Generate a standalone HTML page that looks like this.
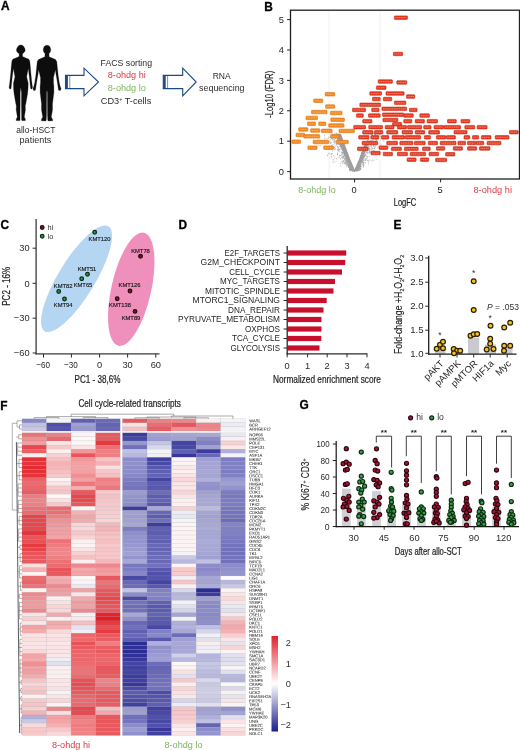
<!DOCTYPE html>
<html lang="en"><head><meta charset="utf-8"><title>Figure</title>
<style>
html,body{margin:0;padding:0;background:#fff;}
body{width:520px;height:750px;overflow:hidden;}
svg{display:block;font-family:"Liberation Sans", sans-serif;}
</style></head><body>
<svg width="520" height="750" viewBox="0 0 520 750">
<rect width="520" height="750" fill="#fff"/>
<text x="0.90" y="10.43" font-size="11.9" text-anchor="start" fill="#000" font-weight="bold" stroke="#000" stroke-width="0.3">A</text>
<g transform="translate(5,40) scale(0.125)" fill="#0d0d0d" stroke="#0d0d0d" stroke-width="2" stroke-linejoin="round">
<path d="M126.5,104 L139.5,108 L140.5,132 L166.5,143 L188.5,152 L197.5,165 L201.5,200 L206.5,260 L212.5,320 L217.5,360 L220.5,378 L214.5,393 L204.5,388 L201.5,360 L196.5,310 L190.5,262 L186.5,228 L179.5,262 L173.5,293 L179.5,320 L185.5,345 L184.5,390 L180.5,430 L166.5,510 L162.5,525 L163.5,560 L154.5,615 L162.5,632 L164.5,644 L136.5,646 L132.5,640 L132.5,600 L131.5,520 L131.5,420 L126.5,378 L126.5,378 L121.5,420 L121.5,520 L120.5,600 L120.5,640 L116.5,646 L88.5,644 L90.5,632 L98.5,615 L89.5,560 L90.5,525 L86.5,510 L72.5,430 L68.5,390 L67.5,345 L73.5,320 L79.5,293 L73.5,262 L66.5,228 L62.5,262 L56.5,310 L51.5,360 L48.5,388 L38.5,393 L32.5,378 L35.5,360 L40.5,320 L46.5,260 L51.5,200 L55.5,165 L64.5,152 L86.5,143 L112.5,132 L113.5,108 L126.5,104Z"/>
<path d="M336,106 L352,110 L353,134 L381,146 L404,156 L414,172 L419,220 L425,280 L434,340 L441,370 L449,390 L441,406 L428,400 L423,365 L416,320 L408,275 L403,238 L394,275 L388,300 L388,340 L391,370 L391,420 L380,510 L380,560 L370,615 L380,634 L382,646 L346,648 L342,640 L340,600 L339,420 L336,402 L336,402 L333,420 L332,600 L330,640 L326,648 L290,646 L292,634 L302,615 L292,560 L292,510 L281,420 L281,370 L284,340 L284,300 L278,275 L269,238 L264,275 L256,320 L249,365 L244,400 L231,406 L223,390 L231,370 L238,340 L247,280 L253,220 L258,172 L268,156 L291,146 L319,134 L320,110 L336,106Z"/>
<ellipse cx="126.5" cy="75" rx="29" ry="36"/><ellipse cx="126.5" cy="80" rx="35" ry="25"/>
<ellipse cx="336" cy="78" rx="30" ry="37"/>
</g>
<text x="35.80" y="132.86" font-size="9.18" text-anchor="middle" fill="#2b2b2b" textLength="39.30" lengthAdjust="spacingAndGlyphs" >allo-HSCT</text>
<text x="35.40" y="143.26" font-size="9.18" text-anchor="middle" fill="#2b2b2b" textLength="31.60" lengthAdjust="spacingAndGlyphs" >patients</text>
<path d="M65.5 75.4 H84 V68.2 L98.5 82 L84 95.8 V88.6 H65.5 Z" fill="#fff" stroke="#1d4a85" stroke-width="1.1" stroke-linejoin="miter"/>
<rect x="65.5" y="75.4" width="2.4" height="13.2" fill="#1d4a85"/>
<line x1="69.80" y1="75.40" x2="69.80" y2="88.60" stroke="#1d4a85" stroke-width="0.6" />
<path d="M163.3 75.4 H182.7 V68.2 L196.2 82 L182.7 95.8 V88.6 H163.3 Z" fill="#fff" stroke="#1d4a85" stroke-width="1.1" stroke-linejoin="miter"/>
<rect x="163.3" y="75.4" width="2.4" height="13.2" fill="#1d4a85"/>
<line x1="167.60" y1="75.40" x2="167.60" y2="88.60" stroke="#1d4a85" stroke-width="0.6" />
<text x="126.30" y="66.06" font-size="9.18" text-anchor="middle" fill="#2b2b2b" textLength="51.50" lengthAdjust="spacingAndGlyphs" >FACS sorting</text>
<text x="126.80" y="78.06" font-size="9.18" text-anchor="middle" fill="#d93a44" textLength="38.00" lengthAdjust="spacingAndGlyphs" >8-ohdg hi</text>
<text x="126.80" y="90.56" font-size="9.18" text-anchor="middle" fill="#7cb45c" textLength="38.00" lengthAdjust="spacingAndGlyphs" >8-ohdg lo</text>
<text x="126.00" y="103.56" font-size="9.18" text-anchor="middle" fill="#2b2b2b" >CD3<tspan font-size="5.5" dy="-3">+</tspan><tspan dy="3"> T-cells</tspan></text>
<text x="221.70" y="79.26" font-size="9.18" text-anchor="middle" fill="#2b2b2b" textLength="18.00" lengthAdjust="spacingAndGlyphs" >RNA</text>
<text x="221.80" y="91.06" font-size="9.18" text-anchor="middle" fill="#2b2b2b" textLength="45.50" lengthAdjust="spacingAndGlyphs" >sequencing</text>
<text x="264.20" y="10.78" font-size="11.9" text-anchor="start" fill="#000" font-weight="bold" stroke="#000" stroke-width="0.3">B</text>
<line x1="329.00" y1="11.00" x2="329.00" y2="178.50" stroke="#e2e2e2" stroke-width="0.5" />
<line x1="380.00" y1="11.00" x2="380.00" y2="178.50" stroke="#e2e2e2" stroke-width="0.5" />
<path d="M354.6 171.9 L351.40000000000003 170.6 L347.40000000000003 161.6 L342.8 151.6 L338.40000000000003 141.6 L335.3 134.1 L341.0 134.1 L345.6 146.6 L349.90000000000003 158.6 L354.6 169.4 L359.3 158.6 L363.6 146.6 L365.6 141.6 L368.40000000000003 143.6 L364.40000000000003 154.6 L360.8 163.6 L357.8 170.6 Z" fill="#9a9a9a"/>
<path d="M348.3 161.9h.01M352.4 168.7h.01M344.7 158.7h.01M351.6 167.6h.01M343.9 151.6h.01M346.8 162.8h.01M338.4 147.1h.01M341.2 153.0h.01M371.2 154.1h.01M350.0 164.0h.01M363.8 153.7h.01M359.0 168.6h.01M347.2 157.6h.01M362.2 161.8h.01M375.5 140.4h.01M366.4 147.1h.01M357.5 170.9h.01M359.0 165.6h.01M338.7 139.3h.01M358.0 167.4h.01M360.7 160.5h.01M347.3 165.0h.01M348.0 163.5h.01M324.5 135.2h.01M368.7 147.9h.01M347.6 159.2h.01M346.5 161.6h.01M335.9 135.2h.01M367.3 149.2h.01M364.1 155.7h.01M374.5 144.6h.01M358.4 166.2h.01M346.3 153.7h.01M348.7 166.7h.01M349.0 164.3h.01M357.4 165.2h.01M359.7 164.0h.01M371.6 141.6h.01M348.4 165.6h.01M338.2 150.7h.01M349.4 168.6h.01M343.8 156.3h.01M379.8 135.4h.01M349.2 167.2h.01M366.8 148.3h.01M352.1 167.1h.01M332.0 144.9h.01M359.3 166.1h.01M360.5 161.6h.01M373.9 136.7h.01M349.2 166.7h.01M339.4 143.8h.01M364.8 152.3h.01M342.4 143.7h.01M346.9 153.8h.01M343.8 150.0h.01M344.2 155.1h.01M350.8 163.8h.01M347.2 157.0h.01M348.3 162.4h.01M345.0 148.7h.01M337.0 145.0h.01M336.8 139.1h.01M361.8 159.0h.01M363.9 152.5h.01M346.3 163.5h.01M340.6 138.7h.01M347.9 162.8h.01M378.9 136.2h.01M343.4 147.6h.01M378.0 137.4h.01M349.6 169.5h.01M360.7 161.1h.01M337.4 153.6h.01M358.7 166.0h.01M346.1 158.2h.01M353.4 169.4h.01M366.8 156.7h.01M364.3 155.3h.01M348.8 164.3h.01M365.6 158.8h.01M365.5 150.0h.01M363.0 159.3h.01M360.4 166.5h.01M369.6 135.2h.01M349.3 160.8h.01M345.2 148.6h.01M357.7 168.7h.01M339.7 149.5h.01M364.9 147.8h.01M344.5 163.5h.01M338.5 149.4h.01M337.7 141.0h.01M343.0 147.5h.01M374.4 134.0h.01M344.4 149.9h.01M341.9 144.4h.01M349.0 164.0h.01M360.5 165.0h.01M340.0 146.9h.01M359.3 166.8h.01M359.0 168.0h.01M366.2 147.6h.01M343.6 156.5h.01M359.4 169.1h.01M377.8 134.1h.01M337.0 135.9h.01M332.3 134.5h.01M357.4 169.4h.01M351.1 170.1h.01M368.8 145.8h.01M357.6 170.4h.01M364.8 146.3h.01M337.6 139.3h.01M350.3 170.1h.01M359.6 167.6h.01M374.8 142.2h.01M339.8 136.7h.01M347.4 156.8h.01M337.6 136.6h.01M360.0 164.3h.01M344.1 148.3h.01M375.2 137.0h.01M367.2 144.3h.01M347.6 161.6h.01M351.5 165.3h.01M363.0 155.0h.01M366.9 152.5h.01M330.1 139.8h.01M374.3 148.8h.01M350.0 170.7h.01M377.9 134.2h.01M370.7 140.9h.01M348.5 167.0h.01M373.5 144.2h.01M352.1 167.7h.01M357.8 164.0h.01M344.6 154.4h.01M356.9 170.5h.01M338.0 140.4h.01M374.8 134.6h.01M343.8 149.8h.01M350.1 164.3h.01M347.3 158.4h.01M350.4 166.6h.01M360.9 165.7h.01M378.1 138.0h.01M358.0 167.5h.01M346.6 159.0h.01M343.9 162.1h.01M360.5 166.5h.01M360.4 160.1h.01M358.7 169.1h.01M359.0 165.3h.01M357.3 169.6h.01M363.0 161.9h.01M337.8 144.1h.01M353.0 168.5h.01M350.6 164.4h.01M349.0 162.8h.01M335.0 135.3h.01M374.0 133.6h.01M359.2 168.7h.01M338.4 140.8h.01M347.1 160.4h.01M345.4 158.8h.01M346.8 158.0h.01M360.5 168.7h.01M359.8 167.3h.01M341.5 139.6h.01M358.2 163.4h.01M350.5 165.6h.01M357.8 169.5h.01M369.4 141.8h.01M367.8 141.2h.01M350.2 167.7h.01M350.6 169.4h.01M333.1 134.7h.01M356.4 170.3h.01M342.8 150.2h.01M360.7 160.2h.01M364.8 156.1h.01M343.0 148.9h.01M372.5 133.3h.01M381.0 138.7h.01M345.8 160.7h.01M342.8 158.2h.01M367.2 138.0h.01M359.2 168.0h.01M346.8 155.2h.01M360.6 169.5h.01M350.0 165.9h.01M363.5 162.6h.01M335.0 137.4h.01M340.0 156.5h.01M348.3 161.4h.01M352.4 169.6h.01M362.4 156.6h.01M362.3 159.6h.01M369.0 150.4h.01M341.1 140.8h.01M362.6 160.9h.01M350.0 170.4h.01M346.8 153.6h.01M329.8 141.6h.01M334.1 142.2h.01M339.3 140.9h.01M373.9 141.5h.01M342.1 142.7h.01M346.3 151.5h.01M358.4 166.1h.01M341.9 142.7h.01M379.6 134.0h.01M356.8 168.1h.01M346.0 160.9h.01M351.3 167.2h.01M369.9 133.4h.01M360.0 163.2h.01M347.7 155.6h.01M358.2 168.4h.01M357.8 167.4h.01M339.4 135.2h.01M357.3 167.7h.01M369.7 148.7h.01M361.0 155.5h.01M364.2 154.2h.01M351.3 168.8h.01M362.4 154.6h.01M345.8 162.6h.01M366.2 152.9h.01M373.7 146.3h.01M340.5 149.9h.01M341.3 140.7h.01M371.2 143.8h.01M349.9 170.0h.01M350.3 165.4h.01M344.6 162.3h.01M377.6 133.6h.01M352.5 170.1h.01M344.0 150.0h.01M352.8 168.6h.01M353.1 169.2h.01M366.8 152.6h.01M366.0 148.5h.01M352.4 169.5h.01M352.2 168.0h.01M361.2 161.4h.01M373.4 145.5h.01M361.9 156.0h.01M345.1 158.3h.01M349.6 165.2h.01M361.7 152.8h.01M365.3 154.7h.01M366.3 151.2h.01M336.5 135.6h.01M351.7 168.8h.01M345.0 159.6h.01M361.4 162.2h.01M337.7 138.1h.01M342.7 147.5h.01M371.3 140.6h.01M342.5 152.5h.01M364.7 155.6h.01M348.5 167.1h.01M347.4 161.2h.01M340.5 146.0h.01M351.1 166.6h.01M350.6 167.0h.01M357.2 169.9h.01M348.9 157.4h.01M359.7 163.9h.01M338.1 139.4h.01M348.6 162.0h.01M344.3 146.7h.01M371.6 150.0h.01M369.2 137.2h.01M339.2 134.2h.01M336.6 135.0h.01M369.3 153.4h.01M363.5 153.7h.01M350.8 165.7h.01M358.6 164.3h.01M361.6 158.2h.01M340.4 159.0h.01M350.7 166.3h.01M345.1 152.4h.01M372.4 140.8h.01M358.7 168.8h.01M364.8 159.9h.01M371.8 142.5h.01M344.6 155.4h.01M334.9 140.0h.01M368.5 135.3h.01M368.1 135.2h.01M360.1 165.1h.01M334.5 142.1h.01M357.7 169.7h.01M365.9 144.6h.01M344.3 158.4h.01M368.6 137.5h.01M340.2 144.7h.01M369.2 148.6h.01M357.2 169.2h.01M365.3 147.3h.01M334.0 144.3h.01M362.5 162.0h.01M375.3 137.1h.01M371.1 141.4h.01M381.4 133.3h.01M361.0 161.3h.01M351.0 169.4h.01M362.2 152.2h.01M336.6 135.4h.01M344.1 151.0h.01M337.4 143.0h.01M349.4 169.4h.01M363.4 152.4h.01M350.4 170.4h.01M377.8 142.9h.01M360.3 169.6h.01M358.1 167.2h.01M339.9 137.7h.01M338.8 133.5h.01M345.3 163.7h.01M348.8 160.1h.01M371.6 145.4h.01M352.1 169.8h.01M338.0 141.6h.01M375.3 134.4h.01M367.4 145.2h.01M347.4 160.0h.01M367.4 142.2h.01M357.0 169.0h.01M361.3 166.6h.01M366.5 158.9h.01M350.3 163.6h.01M338.8 136.7h.01M336.4 133.9h.01M366.0 147.6h.01M339.3 141.5h.01M349.4 161.8h.01M351.0 163.6h.01M340.8 142.5h.01M376.2 138.3h.01M350.6 165.8h.01M349.2 161.7h.01M374.7 138.4h.01M363.4 151.8h.01M360.3 165.6h.01M345.4 163.1h.01M374.3 134.0h.01M344.3 160.1h.01M343.5 156.3h.01M343.6 147.1h.01M374.8 135.6h.01M347.2 165.9h.01M351.7 169.5h.01M368.5 146.4h.01M375.9 135.3h.01M361.4 156.6h.01M349.1 165.8h.01M346.4 156.2h.01M357.2 169.0h.01M358.0 168.2h.01M346.4 161.4h.01M349.0 165.7h.01M348.8 158.1h.01M359.5 163.9h.01M364.1 162.9h.01M329.8 137.4h.01M369.2 144.4h.01M358.5 165.7h.01M370.1 146.1h.01M339.5 155.2h.01M363.5 163.6h.01M344.0 151.7h.01M348.9 165.7h.01M340.7 144.6h.01M367.9 141.8h.01M346.2 158.7h.01M368.8 149.6h.01M358.4 168.5h.01M358.6 169.6h.01M331.4 136.5h.01M370.2 138.1h.01M380.2 136.7h.01M337.3 154.8h.01M349.4 167.0h.01M352.4 171.3h.01M346.5 156.4h.01M343.0 146.5h.01M340.0 144.3h.01M341.8 151.9h.01M350.1 166.8h.01M329.1 141.0h.01M346.3 160.6h.01M365.0 151.6h.01M362.4 155.0h.01M346.3 160.6h.01M350.4 170.6h.01M344.3 156.0h.01M358.5 169.8h.01M339.2 141.6h.01M347.3 158.2h.01M360.2 168.5h.01M342.1 156.8h.01M350.4 163.1h.01M341.8 146.7h.01M363.9 156.4h.01M348.5 165.2h.01M364.2 160.2h.01M360.7 163.2h.01M335.8 143.2h.01M367.2 148.2h.01M342.7 154.7h.01M359.7 165.3h.01M366.8 145.5h.01M365.9 146.5h.01M373.7 152.6h.01M373.3 139.3h.01M361.5 157.5h.01M363.1 154.1h.01M373.9 133.2h.01M359.1 167.4h.01M348.1 161.7h.01M334.5 137.0h.01M368.6 162.2h.01M365.2 154.8h.01M348.8 160.3h.01M363.5 159.1h.01M360.3 166.3h.01M373.4 132.0h.01M365.6 160.3h.01M359.4 167.6h.01M374.4 137.6h.01M350.4 165.8h.01M353.4 168.5h.01M340.4 146.0h.01M352.3 171.0h.01M349.2 163.6h.01M349.9 167.2h.01M365.9 155.0h.01M356.3 170.8h.01M351.7 169.2h.01M359.0 166.2h.01M336.3 144.1h.01M350.7 170.9h.01M363.3 162.4h.01M359.6 164.0h.01M365.9 159.2h.01M359.1 168.0h.01M342.4 153.5h.01M335.1 149.4h.01M359.5 159.9h.01M364.6 147.9h.01M348.3 165.8h.01M360.3 165.3h.01M338.3 135.2h.01M319.6 138.8h.01M364.5 157.4h.01M350.8 167.8h.01M373.4 145.2h.01M352.8 169.6h.01M346.4 166.7h.01M339.5 144.2h.01M358.5 168.5h.01M340.1 143.2h.01M368.1 142.1h.01M363.6 157.2h.01M353.2 168.2h.01M351.1 166.7h.01M343.8 152.9h.01M365.8 153.8h.01M360.1 167.8h.01M344.3 146.8h.01M366.6 143.0h.01M347.5 159.5h.01M363.6 157.4h.01M370.3 149.8h.01M340.3 147.9h.01M369.3 141.3h.01M357.9 165.0h.01M347.0 158.4h.01M361.8 156.1h.01M362.1 157.1h.01M341.8 152.4h.01M340.7 143.7h.01M368.1 140.1h.01M343.5 160.8h.01M357.4 168.5h.01M361.4 157.0h.01M367.7 156.8h.01M339.7 151.6h.01M380.2 143.0h.01M365.4 149.7h.01M356.2 169.9h.01M339.5 149.9h.01M366.7 151.2h.01M360.1 159.9h.01M360.4 167.8h.01M341.7 155.2h.01M349.7 168.1h.01M352.0 168.5h.01M345.1 159.2h.01M362.3 158.2h.01M330.9 138.2h.01M339.8 137.3h.01M338.3 147.9h.01M339.3 157.8h.01M341.2 141.2h.01M368.0 152.3h.01M363.7 162.5h.01M358.8 165.0h.01M364.5 153.2h.01M348.3 164.9h.01M358.1 168.1h.01M340.3 146.2h.01M349.9 167.8h.01M348.7 166.9h.01M369.8 156.4h.01M344.6 156.8h.01M363.0 165.0h.01M346.0 156.3h.01M334.7 149.7h.01M357.4 166.1h.01M346.7 164.7h.01M342.3 145.3h.01M344.2 161.9h.01M368.7 160.9h.01M374.0 143.1h.01M368.0 152.4h.01M370.7 151.4h.01M316.7 135.4h.01M348.1 155.7h.01M376.4 140.2h.01M345.7 156.7h.01M348.9 161.9h.01M358.2 165.1h.01M378.0 135.7h.01M358.0 169.9h.01M343.3 145.9h.01M349.8 163.9h.01M341.6 142.8h.01M361.2 160.1h.01M350.3 168.4h.01M344.5 155.3h.01M358.8 168.7h.01M343.3 153.4h.01M360.5 166.0h.01M334.0 136.7h.01M366.5 152.4h.01M374.5 151.0h.01M369.3 142.2h.01M350.7 162.4h.01M356.4 167.1h.01M363.7 156.7h.01M341.2 145.1h.01M367.3 138.6h.01M338.8 148.3h.01M347.6 161.3h.01M347.3 160.7h.01M369.4 150.5h.01M332.5 138.4h.01M356.0 169.8h.01M344.9 154.3h.01M341.2 147.0h.01M366.8 144.3h.01M368.5 148.8h.01M362.1 163.6h.01M370.7 143.9h.01M336.8 133.4h.01M350.5 166.4h.01M334.1 137.2h.01M363.8 158.5h.01M346.8 160.4h.01M339.0 144.2h.01M345.6 160.7h.01M338.3 135.3h.01M359.9 165.4h.01M358.9 163.3h.01M370.5 139.1h.01M349.8 169.1h.01M365.7 147.6h.01M378.1 140.0h.01M346.6 157.7h.01M351.2 168.7h.01M346.7 160.9h.01M373.0 148.3h.01M348.9 165.0h.01M347.3 157.7h.01M352.2 169.9h.01M347.4 158.6h.01M337.5 153.1h.01M350.6 168.2h.01M350.1 169.4h.01M349.4 166.4h.01M351.8 170.0h.01M368.2 147.4h.01M371.3 132.9h.01M339.3 138.1h.01M375.2 146.9h.01M351.5 168.9h.01M362.9 161.7h.01M359.3 170.6h.01M360.0 165.0h.01M363.1 164.2h.01M370.5 137.3h.01M369.1 160.1h.01M373.6 144.0h.01M349.7 165.3h.01M336.3 135.6h.01M361.3 158.3h.01M360.8 160.7h.01M330.2 132.9h.01M340.4 144.1h.01M372.7 148.3h.01M346.0 152.8h.01M368.2 145.7h.01M362.2 157.3h.01M374.6 142.1h.01M358.2 169.9h.01M347.1 164.5h.01M360.0 166.3h.01M358.1 169.6h.01M332.9 137.8h.01M371.1 146.9h.01M363.6 158.2h.01M349.9 165.0h.01M362.1 152.7h.01M351.3 169.4h.01M345.6 152.2h.01M369.3 139.0h.01M351.1 170.1h.01M358.3 166.3h.01M369.8 148.1h.01M356.4 170.3h.01M362.9 153.7h.01M361.9 159.4h.01M373.8 137.1h.01M358.2 169.8h.01M341.2 142.0h.01M371.6 146.7h.01M349.5 166.1h.01M339.8 138.7h.01M335.2 145.8h.01M348.0 162.8h.01M341.5 146.1h.01M351.1 169.5h.01M337.4 146.5h.01M358.1 167.4h.01M349.0 162.4h.01M351.0 165.5h.01M341.7 148.7h.01M350.2 167.7h.01M339.5 140.6h.01M345.5 154.6h.01M347.0 155.7h.01M344.0 152.3h.01M338.7 143.6h.01M349.6 169.7h.01M357.1 170.3h.01M349.8 160.0h.01M347.4 152.5h.01M346.1 159.4h.01M338.0 149.5h.01M339.7 146.0h.01M355.6 170.9h.01M348.9 164.7h.01M347.5 156.4h.01M372.2 135.3h.01M349.4 164.6h.01M345.9 155.3h.01M359.8 167.3h.01M350.9 168.8h.01M345.6 151.1h.01M349.6 168.2h.01M360.7 161.0h.01M380.3 136.1h.01M346.0 155.1h.01M351.1 165.2h.01M357.4 170.7h.01M351.0 170.1h.01M333.3 141.7h.01M370.4 141.3h.01M376.5 140.4h.01M331.3 142.4h.01M368.1 138.2h.01M337.6 149.5h.01M341.4 141.0h.01M331.4 139.1h.01M366.0 147.0h.01M369.6 147.9h.01M358.7 162.5h.01M370.3 141.8h.01M341.4 154.1h.01M347.5 162.9h.01M346.2 159.3h.01M338.8 141.4h.01M360.7 166.4h.01M363.8 160.2h.01M344.5 150.8h.01M349.9 168.9h.01M343.9 160.7h.01M334.6 147.7h.01M360.1 169.7h.01M371.7 148.1h.01M372.1 149.7h.01M334.9 140.4h.01M373.1 138.0h.01M375.3 135.4h.01M358.6 170.5h.01M344.2 150.5h.01M336.1 133.0h.01M370.6 134.0h.01M346.1 151.6h.01M344.5 155.2h.01M342.9 161.5h.01M348.5 161.6h.01M369.2 150.6h.01M360.5 162.3h.01M364.7 156.5h.01M359.2 166.5h.01M359.1 170.1h.01M351.1 163.9h.01M375.5 141.9h.01M349.8 164.4h.01M339.6 140.7h.01M342.1 145.2h.01M370.6 145.1h.01M333.2 139.0h.01M337.5 138.1h.01M351.0 168.9h.01M362.4 158.2h.01M350.5 167.1h.01M340.1 136.6h.01M333.3 137.7h.01M339.8 137.0h.01M344.0 151.2h.01M335.5 138.6h.01M369.2 140.9h.01M343.1 157.2h.01M357.5 170.4h.01M361.8 161.2h.01M373.0 140.4h.01M351.4 170.3h.01M356.7 168.9h.01M364.4 155.7h.01M369.5 141.7h.01M370.0 152.3h.01M361.6 156.8h.01M343.0 143.4h.01M350.5 165.6h.01M368.4 139.2h.01M341.7 145.8h.01M376.5 138.9h.01M358.7 162.3h.01M349.3 160.2h.01M349.9 169.3h.01M358.1 168.6h.01M351.0 167.9h.01M348.2 160.6h.01M367.4 140.7h.01M368.1 137.7h.01M372.5 151.8h.01M350.8 169.7h.01M377.2 138.7h.01M342.3 149.4h.01M339.2 138.2h.01M362.0 156.2h.01M333.1 139.7h.01M358.4 164.1h.01M374.3 137.2h.01M361.0 164.7h.01M343.9 146.1h.01M358.3 170.7h.01M347.1 165.0h.01M346.6 164.0h.01M340.1 144.9h.01M337.4 154.6h.01M335.4 138.0h.01M345.5 154.4h.01M346.5 156.7h.01M364.1 155.6h.01M343.1 147.8h.01M342.6 146.7h.01M356.6 169.1h.01M360.7 155.3h.01M350.5 168.3h.01M338.3 150.2h.01M340.0 136.7h.01M368.3 139.7h.01M359.0 162.5h.01M360.2 161.1h.01M371.3 134.3h.01M366.1 144.3h.01M362.6 161.0h.01M367.1 142.7h.01M371.0 141.2h.01M358.6 168.7h.01M367.7 153.4h.01M342.9 150.5h.01M367.8 144.6h.01M345.5 156.8h.01M360.4 164.3h.01M341.1 148.7h.01M350.7 161.9h.01M352.1 168.6h.01M368.6 138.7h.01M344.6 159.0h.01M370.6 136.2h.01M335.9 142.2h.01M350.9 163.3h.01M367.3 142.7h.01M350.3 169.3h.01M349.5 165.6h.01M375.5 136.3h.01M369.2 142.9h.01M339.4 139.3h.01M347.2 164.6h.01M357.4 164.7h.01M360.0 160.0h.01M358.7 168.1h.01M345.3 155.5h.01M360.4 166.6h.01M342.3 152.9h.01M372.3 151.3h.01M349.8 164.6h.01M365.8 155.8h.01M356.6 169.1h.01M330.1 143.7h.01M347.9 165.9h.01M341.7 149.1h.01M369.7 151.5h.01M370.6 144.3h.01M356.0 170.3h.01M358.7 170.0h.01M346.9 162.0h.01M356.5 171.0h.01M372.4 134.8h.01M360.2 168.0h.01M359.4 165.2h.01M366.3 145.9h.01M359.3 166.9h.01M361.4 159.8h.01M351.3 167.4h.01M343.0 144.6h.01M360.5 157.7h.01M359.3 167.2h.01M341.9 157.5h.01M339.3 143.9h.01M334.5 140.1h.01M374.6 146.8h.01M358.1 169.1h.01M346.0 164.8h.01M336.8 140.7h.01M336.8 142.3h.01M332.5 134.9h.01M334.9 133.6h.01M332.2 135.1h.01M362.9 155.6h.01M345.0 163.7h.01M374.6 148.5h.01M362.5 161.5h.01M342.4 147.9h.01M346.3 162.3h.01M357.5 165.8h.01M347.8 157.0h.01M376.0 145.7h.01M351.8 169.0h.01M340.4 146.2h.01M337.3 134.1h.01M361.7 162.6h.01M362.1 164.3h.01M359.4 164.4h.01M340.6 135.1h.01M348.8 163.7h.01M350.7 169.6h.01M334.7 141.9h.01M347.7 158.3h.01M345.3 149.0h.01M345.8 161.7h.01M362.5 162.3h.01M359.8 162.4h.01M361.9 161.7h.01M367.7 143.4h.01M351.5 167.4h.01M363.2 154.4h.01M352.4 168.9h.01M330.0 142.3h.01M367.0 158.2h.01M347.2 162.5h.01M346.3 162.5h.01M351.8 169.7h.01M369.8 143.5h.01M331.8 146.2h.01M343.6 154.8h.01M346.3 159.6h.01M347.0 161.0h.01M361.2 169.1h.01M361.0 163.3h.01M373.5 145.1h.01M363.4 164.3h.01M375.1 134.5h.01M363.9 147.5h.01M365.8 160.5h.01M360.0 161.4h.01M363.2 160.2h.01M356.5 169.6h.01M328.8 136.9h.01M372.1 141.6h.01M346.8 162.3h.01M346.9 160.2h.01M335.4 134.7h.01M372.5 134.4h.01M357.6 165.6h.01M342.0 138.3h.01M339.0 144.3h.01M364.4 156.8h.01M362.6 155.9h.01M332.6 151.1h.01M359.8 170.0h.01M363.3 165.4h.01M334.4 139.4h.01M351.4 168.3h.01M341.3 145.5h.01M358.8 165.9h.01M362.2 158.8h.01M349.7 166.1h.01M332.2 133.6h.01M367.7 144.1h.01M324.6 137.3h.01M358.2 167.1h.01M359.1 164.4h.01M352.5 168.7h.01M366.8 143.9h.01M349.3 166.5h.01M345.9 157.6h.01M353.2 169.8h.01M371.0 142.7h.01M381.6 133.2h.01M359.3 165.5h.01M366.1 149.7h.01M340.0 155.5h.01M367.3 151.2h.01M343.1 151.4h.01M346.8 159.9h.01M362.6 160.4h.01M343.0 152.6h.01M369.4 149.6h.01M342.8 148.7h.01M375.3 139.4h.01M371.5 135.0h.01M331.6 136.6h.01M347.5 164.0h.01M367.0 149.6h.01M369.6 152.6h.01M340.9 142.1h.01M357.7 167.1h.01M341.2 142.2h.01M348.9 167.9h.01M350.8 169.1h.01M376.3 139.8h.01M352.1 166.5h.01M351.6 168.8h.01M345.4 157.2h.01M379.7 134.8h.01M362.7 160.1h.01M337.7 147.3h.01M338.1 150.2h.01M330.8 143.3h.01M360.1 161.3h.01M334.5 142.8h.01M342.1 148.7h.01M359.2 165.7h.01M337.7 135.2h.01M330.7 137.2h.01M367.6 143.7h.01M370.6 152.1h.01M335.6 141.5h.01M368.7 137.1h.01M358.3 168.1h.01M364.0 157.7h.01M356.3 170.8h.01M360.9 159.4h.01M363.9 164.1h.01M351.3 167.8h.01M332.9 139.9h.01M351.1 164.1h.01M340.2 143.2h.01M358.0 170.1h.01M350.4 167.0h.01M348.9 167.1h.01M328.6 138.3h.01M332.0 132.5h.01M345.2 157.7h.01M357.6 170.2h.01M375.4 135.1h.01M342.6 158.3h.01M376.8 136.2h.01M362.7 161.3h.01M324.8 139.2h.01M370.0 160.1h.01M381.2 152.2h.01M366.9 159.1h.01M372.5 160.1h.01M383.3 140.2h.01M324.7 140.7h.01M330.1 142.7h.01M373.7 150.5h.01M331.4 147.3h.01M342.7 162.3h.01M329.2 153.4h.01M336.0 161.5h.01M321.6 140.8h.01M334.4 147.2h.01M313.6 139.4h.01M336.8 159.2h.01M343.5 158.1h.01M334.0 162.5h.01M333.1 161.9h.01M373.7 160.6h.01M342.3 157.1h.01M373.1 143.7h.01M380.4 146.2h.01M327.7 155.8h.01M387.6 138.8h.01M333.3 149.0h.01M338.2 157.6h.01M383.9 141.6h.01M344.0 163.7h.01M338.2 150.9h.01M332.5 153.5h.01M331.6 156.2h.01M341.9 161.5h.01M320.7 145.9h.01M331.3 157.9h.01M374.2 150.9h.01M318.8 145.6h.01M325.8 138.8h.01M331.8 153.5h.01M342.4 163.2h.01M332.0 145.4h.01M363.3 166.2h.01M375.3 145.2h.01M368.5 164.0h.01M320.9 140.7h.01M333.5 155.7h.01M328.3 153.7h.01M381.0 144.9h.01M336.3 158.5h.01M328.9 146.2h.01M340.5 163.6h.01M335.7 148.8h.01M331.6 154.6h.01M363.7 165.6h.01M375.7 148.0h.01M367.6 160.6h.01M367.1 156.6h.01M340.8 166.1h.01M327.5 138.9h.01M372.9 148.2h.01M379.9 148.5h.01M327.5 155.2h.01M373.2 144.2h.01M363.7 166.6h.01M328.7 148.0h.01M317.9 139.3h.01M336.6 144.9h.01M340.9 158.9h.01M380.2 140.1h.01M377.3 147.7h.01M317.1 143.8h.01M340.7 155.5h.01M382.8 152.3h.01M328.1 149.5h.01M343.2 160.8h.01M343.4 157.2h.01M363.0 167.3h.01M376.9 159.4h.01M389.9 146.1h.01M334.6 149.3h.01M365.5 162.5h.01M334.5 158.0h.01M330.6 148.8h.01M342.3 156.0h.01M333.7 159.8h.01M379.7 147.5h.01M371.6 161.1h.01M333.0 159.8h.01M330.1 154.1h.01" stroke="#a2a2a2" stroke-width="0.75" stroke-linecap="round" fill="none"/>
<rect x="325.2" y="92.5" width="9.6" height="3.5" rx="0.6" fill="#f28a22" stroke="#e07612" stroke-width="0.6"/>
<line x1="326.2" y1="94.2" x2="333.8" y2="94.2" stroke="#ffd8a8" stroke-opacity="0.55" stroke-width="0.9" stroke-dasharray="1.2 0.6"/>
<rect x="313.7" y="99.0" width="9.1" height="3.5" rx="0.6" fill="#f28a22" stroke="#e07612" stroke-width="0.6"/>
<line x1="314.7" y1="100.8" x2="321.8" y2="100.8" stroke="#ffd8a8" stroke-opacity="0.55" stroke-width="0.9" stroke-dasharray="1.2 0.6"/>
<rect x="325.6" y="104.8" width="9.2" height="3.5" rx="0.6" fill="#f28a22" stroke="#e07612" stroke-width="0.6"/>
<line x1="326.6" y1="106.5" x2="333.8" y2="106.5" stroke="#ffd8a8" stroke-opacity="0.55" stroke-width="0.9" stroke-dasharray="1.2 0.6"/>
<rect x="311.5" y="110.3" width="15.6" height="3.5" rx="0.6" fill="#f28a22" stroke="#e07612" stroke-width="0.6"/>
<line x1="312.5" y1="112.1" x2="326.1" y2="112.1" stroke="#ffd8a8" stroke-opacity="0.55" stroke-width="0.9" stroke-dasharray="1.2 0.6"/>
<rect x="330.4" y="111.2" width="11.7" height="3.5" rx="0.6" fill="#f28a22" stroke="#e07612" stroke-width="0.6"/>
<line x1="331.4" y1="112.9" x2="341.1" y2="112.9" stroke="#ffd8a8" stroke-opacity="0.55" stroke-width="0.9" stroke-dasharray="1.2 0.6"/>
<rect x="306.0" y="116.2" width="11.5" height="3.5" rx="0.6" fill="#f28a22" stroke="#e07612" stroke-width="0.6"/>
<line x1="307.0" y1="117.9" x2="316.5" y2="117.9" stroke="#ffd8a8" stroke-opacity="0.55" stroke-width="0.9" stroke-dasharray="1.2 0.6"/>
<rect x="330.8" y="118.0" width="13.6" height="3.5" rx="0.6" fill="#f28a22" stroke="#e07612" stroke-width="0.6"/>
<line x1="331.8" y1="119.8" x2="343.4" y2="119.8" stroke="#ffd8a8" stroke-opacity="0.55" stroke-width="0.9" stroke-dasharray="1.2 0.6"/>
<rect x="307.5" y="122.0" width="8.1" height="3.5" rx="0.6" fill="#f28a22" stroke="#e07612" stroke-width="0.6"/>
<line x1="308.5" y1="123.8" x2="314.6" y2="123.8" stroke="#ffd8a8" stroke-opacity="0.55" stroke-width="0.9" stroke-dasharray="1.2 0.6"/>
<rect x="318.7" y="122.0" width="7.1" height="3.5" rx="0.6" fill="#f28a22" stroke="#e07612" stroke-width="0.6"/>
<line x1="319.7" y1="123.8" x2="324.8" y2="123.8" stroke="#ffd8a8" stroke-opacity="0.55" stroke-width="0.9" stroke-dasharray="1.2 0.6"/>
<rect x="328.7" y="123.7" width="15.3" height="3.5" rx="0.6" fill="#f28a22" stroke="#e07612" stroke-width="0.6"/>
<line x1="329.7" y1="125.4" x2="343.0" y2="125.4" stroke="#ffd8a8" stroke-opacity="0.55" stroke-width="0.9" stroke-dasharray="1.2 0.6"/>
<rect x="298.7" y="127.7" width="9.1" height="3.5" rx="0.6" fill="#f28a22" stroke="#e07612" stroke-width="0.6"/>
<line x1="299.7" y1="129.4" x2="306.8" y2="129.4" stroke="#ffd8a8" stroke-opacity="0.55" stroke-width="0.9" stroke-dasharray="1.2 0.6"/>
<rect x="310.6" y="128.8" width="9.2" height="3.5" rx="0.6" fill="#f28a22" stroke="#e07612" stroke-width="0.6"/>
<line x1="311.6" y1="130.6" x2="318.8" y2="130.6" stroke="#ffd8a8" stroke-opacity="0.55" stroke-width="0.9" stroke-dasharray="1.2 0.6"/>
<rect x="321.4" y="129.1" width="10.7" height="3.5" rx="0.6" fill="#f28a22" stroke="#e07612" stroke-width="0.6"/>
<line x1="322.4" y1="130.8" x2="331.1" y2="130.8" stroke="#ffd8a8" stroke-opacity="0.55" stroke-width="0.9" stroke-dasharray="1.2 0.6"/>
<rect x="339.0" y="129.2" width="15.4" height="3.5" rx="0.6" fill="#f28a22" stroke="#e07612" stroke-width="0.6"/>
<line x1="340.0" y1="131.0" x2="353.4" y2="131.0" stroke="#ffd8a8" stroke-opacity="0.55" stroke-width="0.9" stroke-dasharray="1.2 0.6"/>
<rect x="296.0" y="133.2" width="8.6" height="3.5" rx="0.6" fill="#f28a22" stroke="#e07612" stroke-width="0.6"/>
<line x1="297.0" y1="135.0" x2="303.6" y2="135.0" stroke="#ffd8a8" stroke-opacity="0.55" stroke-width="0.9" stroke-dasharray="1.2 0.6"/>
<rect x="303.9" y="134.6" width="15.7" height="3.5" rx="0.6" fill="#f28a22" stroke="#e07612" stroke-width="0.6"/>
<line x1="304.9" y1="136.3" x2="318.6" y2="136.3" stroke="#ffd8a8" stroke-opacity="0.55" stroke-width="0.9" stroke-dasharray="1.2 0.6"/>
<rect x="330.6" y="134.6" width="9.2" height="3.5" rx="0.6" fill="#f28a22" stroke="#e07612" stroke-width="0.6"/>
<line x1="331.6" y1="136.3" x2="338.8" y2="136.3" stroke="#ffd8a8" stroke-opacity="0.55" stroke-width="0.9" stroke-dasharray="1.2 0.6"/>
<rect x="291.9" y="139.9" width="8.7" height="3.5" rx="0.6" fill="#f28a22" stroke="#e07612" stroke-width="0.6"/>
<line x1="292.9" y1="141.7" x2="299.6" y2="141.7" stroke="#ffd8a8" stroke-opacity="0.55" stroke-width="0.9" stroke-dasharray="1.2 0.6"/>
<rect x="313.1" y="140.3" width="15.5" height="3.5" rx="0.6" fill="#f28a22" stroke="#e07612" stroke-width="0.6"/>
<line x1="314.1" y1="142.1" x2="327.6" y2="142.1" stroke="#ffd8a8" stroke-opacity="0.55" stroke-width="0.9" stroke-dasharray="1.2 0.6"/>
<rect x="336.4" y="140.3" width="11.9" height="3.5" rx="0.6" fill="#f28a22" stroke="#e07612" stroke-width="0.6"/>
<line x1="337.4" y1="142.1" x2="347.3" y2="142.1" stroke="#ffd8a8" stroke-opacity="0.55" stroke-width="0.9" stroke-dasharray="1.2 0.6"/>
<rect x="307.9" y="145.9" width="9.2" height="3.5" rx="0.6" fill="#f28a22" stroke="#e07612" stroke-width="0.6"/>
<line x1="308.9" y1="147.7" x2="316.1" y2="147.7" stroke="#ffd8a8" stroke-opacity="0.55" stroke-width="0.9" stroke-dasharray="1.2 0.6"/>
<rect x="323.7" y="145.9" width="9.8" height="3.5" rx="0.6" fill="#f28a22" stroke="#e07612" stroke-width="0.6"/>
<line x1="324.7" y1="147.7" x2="332.5" y2="147.7" stroke="#ffd8a8" stroke-opacity="0.55" stroke-width="0.9" stroke-dasharray="1.2 0.6"/>
<rect x="394.4" y="15.9" width="13.1" height="3.5" rx="0.6" fill="#e83a22" stroke="#c22a16" stroke-width="0.6"/>
<line x1="395.4" y1="17.6" x2="406.5" y2="17.6" stroke="#ffd0c0" stroke-opacity="0.55" stroke-width="0.9" stroke-dasharray="1.2 0.6"/>
<rect x="393.4" y="52.2" width="9.2" height="3.5" rx="0.6" fill="#e83a22" stroke="#c22a16" stroke-width="0.6"/>
<line x1="394.4" y1="54.0" x2="401.6" y2="54.0" stroke="#ffd0c0" stroke-opacity="0.55" stroke-width="0.9" stroke-dasharray="1.2 0.6"/>
<rect x="378.2" y="79.8" width="14.2" height="3.5" rx="0.6" fill="#e83a22" stroke="#c22a16" stroke-width="0.6"/>
<line x1="379.2" y1="81.6" x2="391.4" y2="81.6" stroke="#ffd0c0" stroke-opacity="0.55" stroke-width="0.9" stroke-dasharray="1.2 0.6"/>
<rect x="396.8" y="80.7" width="10.0" height="3.5" rx="0.6" fill="#e83a22" stroke="#c22a16" stroke-width="0.6"/>
<line x1="397.8" y1="82.4" x2="405.8" y2="82.4" stroke="#ffd0c0" stroke-opacity="0.55" stroke-width="0.9" stroke-dasharray="1.2 0.6"/>
<rect x="376.4" y="85.9" width="9.6" height="3.5" rx="0.6" fill="#e83a22" stroke="#c22a16" stroke-width="0.6"/>
<line x1="377.4" y1="87.7" x2="385.0" y2="87.7" stroke="#ffd0c0" stroke-opacity="0.55" stroke-width="0.9" stroke-dasharray="1.2 0.6"/>
<rect x="369.8" y="91.7" width="11.7" height="3.5" rx="0.6" fill="#e83a22" stroke="#c22a16" stroke-width="0.6"/>
<line x1="370.8" y1="93.5" x2="380.5" y2="93.5" stroke="#ffd0c0" stroke-opacity="0.55" stroke-width="0.9" stroke-dasharray="1.2 0.6"/>
<rect x="386.0" y="91.7" width="18.1" height="3.5" rx="0.6" fill="#e83a22" stroke="#c22a16" stroke-width="0.6"/>
<line x1="387.0" y1="93.5" x2="403.0" y2="93.5" stroke="#ffd0c0" stroke-opacity="0.55" stroke-width="0.9" stroke-dasharray="1.2 0.6"/>
<rect x="406.5" y="94.8" width="8.3" height="3.5" rx="0.6" fill="#e83a22" stroke="#c22a16" stroke-width="0.6"/>
<line x1="407.5" y1="96.5" x2="413.8" y2="96.5" stroke="#ffd0c0" stroke-opacity="0.55" stroke-width="0.9" stroke-dasharray="1.2 0.6"/>
<rect x="372.5" y="97.3" width="7.7" height="3.5" rx="0.6" fill="#e83a22" stroke="#c22a16" stroke-width="0.6"/>
<line x1="373.5" y1="99.0" x2="379.2" y2="99.0" stroke="#ffd0c0" stroke-opacity="0.55" stroke-width="0.9" stroke-dasharray="1.2 0.6"/>
<rect x="383.3" y="97.3" width="8.4" height="3.5" rx="0.6" fill="#e83a22" stroke="#c22a16" stroke-width="0.6"/>
<line x1="384.3" y1="99.0" x2="390.7" y2="99.0" stroke="#ffd0c0" stroke-opacity="0.55" stroke-width="0.9" stroke-dasharray="1.2 0.6"/>
<rect x="394.4" y="101.1" width="11.5" height="3.5" rx="0.6" fill="#e83a22" stroke="#c22a16" stroke-width="0.6"/>
<line x1="395.4" y1="102.9" x2="405.0" y2="102.9" stroke="#ffd0c0" stroke-opacity="0.55" stroke-width="0.9" stroke-dasharray="1.2 0.6"/>
<rect x="359.8" y="103.1" width="20.8" height="3.5" rx="0.6" fill="#e83a22" stroke="#c22a16" stroke-width="0.6"/>
<line x1="360.8" y1="104.8" x2="379.6" y2="104.8" stroke="#ffd0c0" stroke-opacity="0.55" stroke-width="0.9" stroke-dasharray="1.2 0.6"/>
<rect x="381.9" y="107.1" width="24.8" height="3.5" rx="0.6" fill="#e83a22" stroke="#c22a16" stroke-width="0.6"/>
<line x1="382.9" y1="108.8" x2="405.7" y2="108.8" stroke="#ffd0c0" stroke-opacity="0.55" stroke-width="0.9" stroke-dasharray="1.2 0.6"/>
<rect x="352.5" y="108.2" width="13.1" height="3.5" rx="0.6" fill="#e83a22" stroke="#c22a16" stroke-width="0.6"/>
<line x1="353.5" y1="110.0" x2="364.6" y2="110.0" stroke="#ffd0c0" stroke-opacity="0.55" stroke-width="0.9" stroke-dasharray="1.2 0.6"/>
<rect x="371.7" y="108.2" width="7.3" height="3.5" rx="0.6" fill="#e83a22" stroke="#c22a16" stroke-width="0.6"/>
<line x1="372.7" y1="110.0" x2="378.0" y2="110.0" stroke="#ffd0c0" stroke-opacity="0.55" stroke-width="0.9" stroke-dasharray="1.2 0.6"/>
<rect x="409.4" y="108.2" width="7.7" height="3.5" rx="0.6" fill="#e83a22" stroke="#c22a16" stroke-width="0.6"/>
<line x1="410.4" y1="110.0" x2="416.1" y2="110.0" stroke="#ffd0c0" stroke-opacity="0.55" stroke-width="0.9" stroke-dasharray="1.2 0.6"/>
<rect x="382.5" y="112.9" width="21.1" height="3.5" rx="0.6" fill="#e83a22" stroke="#c22a16" stroke-width="0.6"/>
<line x1="383.5" y1="114.6" x2="402.6" y2="114.6" stroke="#ffd0c0" stroke-opacity="0.55" stroke-width="0.9" stroke-dasharray="1.2 0.6"/>
<rect x="356.4" y="113.8" width="6.9" height="3.5" rx="0.6" fill="#e83a22" stroke="#c22a16" stroke-width="0.6"/>
<line x1="357.4" y1="115.6" x2="362.3" y2="115.6" stroke="#ffd0c0" stroke-opacity="0.55" stroke-width="0.9" stroke-dasharray="1.2 0.6"/>
<rect x="368.5" y="113.8" width="11.7" height="3.5" rx="0.6" fill="#e83a22" stroke="#c22a16" stroke-width="0.6"/>
<line x1="369.5" y1="115.6" x2="379.2" y2="115.6" stroke="#ffd0c0" stroke-opacity="0.55" stroke-width="0.9" stroke-dasharray="1.2 0.6"/>
<rect x="403.7" y="113.8" width="9.6" height="3.5" rx="0.6" fill="#e83a22" stroke="#c22a16" stroke-width="0.6"/>
<line x1="404.7" y1="115.6" x2="412.3" y2="115.6" stroke="#ffd0c0" stroke-opacity="0.55" stroke-width="0.9" stroke-dasharray="1.2 0.6"/>
<rect x="419.8" y="113.8" width="9.6" height="3.5" rx="0.6" fill="#e83a22" stroke="#c22a16" stroke-width="0.6"/>
<line x1="420.8" y1="115.6" x2="428.4" y2="115.6" stroke="#ffd0c0" stroke-opacity="0.55" stroke-width="0.9" stroke-dasharray="1.2 0.6"/>
<rect x="382.9" y="118.2" width="15.0" height="3.5" rx="0.6" fill="#e83a22" stroke="#c22a16" stroke-width="0.6"/>
<line x1="383.9" y1="120.0" x2="396.9" y2="120.0" stroke="#ffd0c0" stroke-opacity="0.55" stroke-width="0.9" stroke-dasharray="1.2 0.6"/>
<rect x="362.7" y="119.4" width="9.2" height="3.5" rx="0.6" fill="#e83a22" stroke="#c22a16" stroke-width="0.6"/>
<line x1="363.7" y1="121.2" x2="370.9" y2="121.2" stroke="#ffd0c0" stroke-opacity="0.55" stroke-width="0.9" stroke-dasharray="1.2 0.6"/>
<rect x="403.7" y="119.4" width="8.1" height="3.5" rx="0.6" fill="#e83a22" stroke="#c22a16" stroke-width="0.6"/>
<line x1="404.7" y1="121.2" x2="410.7" y2="121.2" stroke="#ffd0c0" stroke-opacity="0.55" stroke-width="0.9" stroke-dasharray="1.2 0.6"/>
<rect x="415.2" y="119.4" width="9.2" height="3.5" rx="0.6" fill="#e83a22" stroke="#c22a16" stroke-width="0.6"/>
<line x1="416.2" y1="121.2" x2="423.4" y2="121.2" stroke="#ffd0c0" stroke-opacity="0.55" stroke-width="0.9" stroke-dasharray="1.2 0.6"/>
<rect x="427.1" y="119.4" width="10.4" height="3.5" rx="0.6" fill="#e83a22" stroke="#c22a16" stroke-width="0.6"/>
<line x1="428.1" y1="121.2" x2="436.5" y2="121.2" stroke="#ffd0c0" stroke-opacity="0.55" stroke-width="0.9" stroke-dasharray="1.2 0.6"/>
<rect x="392.5" y="122.5" width="9.2" height="3.5" rx="0.6" fill="#e83a22" stroke="#c22a16" stroke-width="0.6"/>
<line x1="393.5" y1="124.2" x2="400.7" y2="124.2" stroke="#ffd0c0" stroke-opacity="0.55" stroke-width="0.9" stroke-dasharray="1.2 0.6"/>
<rect x="353.7" y="125.4" width="11.9" height="3.5" rx="0.6" fill="#e83a22" stroke="#c22a16" stroke-width="0.6"/>
<line x1="354.7" y1="127.1" x2="364.6" y2="127.1" stroke="#ffd0c0" stroke-opacity="0.55" stroke-width="0.9" stroke-dasharray="1.2 0.6"/>
<rect x="368.7" y="125.4" width="13.8" height="3.5" rx="0.6" fill="#e83a22" stroke="#c22a16" stroke-width="0.6"/>
<line x1="369.7" y1="127.1" x2="381.5" y2="127.1" stroke="#ffd0c0" stroke-opacity="0.55" stroke-width="0.9" stroke-dasharray="1.2 0.6"/>
<rect x="385.2" y="125.4" width="8.8" height="3.5" rx="0.6" fill="#e83a22" stroke="#c22a16" stroke-width="0.6"/>
<line x1="386.2" y1="127.1" x2="393.0" y2="127.1" stroke="#ffd0c0" stroke-opacity="0.55" stroke-width="0.9" stroke-dasharray="1.2 0.6"/>
<rect x="397.3" y="125.4" width="9.2" height="3.5" rx="0.6" fill="#e83a22" stroke="#c22a16" stroke-width="0.6"/>
<line x1="398.3" y1="127.1" x2="405.5" y2="127.1" stroke="#ffd0c0" stroke-opacity="0.55" stroke-width="0.9" stroke-dasharray="1.2 0.6"/>
<rect x="407.5" y="125.4" width="14.2" height="3.5" rx="0.6" fill="#e83a22" stroke="#c22a16" stroke-width="0.6"/>
<line x1="408.5" y1="127.1" x2="420.7" y2="127.1" stroke="#ffd0c0" stroke-opacity="0.55" stroke-width="0.9" stroke-dasharray="1.2 0.6"/>
<rect x="423.7" y="125.4" width="7.3" height="3.5" rx="0.6" fill="#e83a22" stroke="#c22a16" stroke-width="0.6"/>
<line x1="424.7" y1="127.1" x2="430.0" y2="127.1" stroke="#ffd0c0" stroke-opacity="0.55" stroke-width="0.9" stroke-dasharray="1.2 0.6"/>
<rect x="362.7" y="130.6" width="10.2" height="3.5" rx="0.6" fill="#e83a22" stroke="#c22a16" stroke-width="0.6"/>
<line x1="363.7" y1="132.3" x2="371.9" y2="132.3" stroke="#ffd0c0" stroke-opacity="0.55" stroke-width="0.9" stroke-dasharray="1.2 0.6"/>
<rect x="374.4" y="130.6" width="8.4" height="3.5" rx="0.6" fill="#e83a22" stroke="#c22a16" stroke-width="0.6"/>
<line x1="375.4" y1="132.3" x2="381.9" y2="132.3" stroke="#ffd0c0" stroke-opacity="0.55" stroke-width="0.9" stroke-dasharray="1.2 0.6"/>
<rect x="386.7" y="130.6" width="11.1" height="3.5" rx="0.6" fill="#e83a22" stroke="#c22a16" stroke-width="0.6"/>
<line x1="387.7" y1="132.3" x2="396.9" y2="132.3" stroke="#ffd0c0" stroke-opacity="0.55" stroke-width="0.9" stroke-dasharray="1.2 0.6"/>
<rect x="402.1" y="130.6" width="10.4" height="3.5" rx="0.6" fill="#e83a22" stroke="#c22a16" stroke-width="0.6"/>
<line x1="403.1" y1="132.3" x2="411.5" y2="132.3" stroke="#ffd0c0" stroke-opacity="0.55" stroke-width="0.9" stroke-dasharray="1.2 0.6"/>
<rect x="415.2" y="130.6" width="9.6" height="3.5" rx="0.6" fill="#e83a22" stroke="#c22a16" stroke-width="0.6"/>
<line x1="416.2" y1="132.3" x2="423.8" y2="132.3" stroke="#ffd0c0" stroke-opacity="0.55" stroke-width="0.9" stroke-dasharray="1.2 0.6"/>
<rect x="428.7" y="130.6" width="10.8" height="3.5" rx="0.6" fill="#e83a22" stroke="#c22a16" stroke-width="0.6"/>
<line x1="429.7" y1="132.3" x2="438.4" y2="132.3" stroke="#ffd0c0" stroke-opacity="0.55" stroke-width="0.9" stroke-dasharray="1.2 0.6"/>
<rect x="358.7" y="135.6" width="10.0" height="3.5" rx="0.6" fill="#e83a22" stroke="#c22a16" stroke-width="0.6"/>
<line x1="359.7" y1="137.3" x2="367.6" y2="137.3" stroke="#ffd0c0" stroke-opacity="0.55" stroke-width="0.9" stroke-dasharray="1.2 0.6"/>
<rect x="371.0" y="135.6" width="7.7" height="3.5" rx="0.6" fill="#e83a22" stroke="#c22a16" stroke-width="0.6"/>
<line x1="372.0" y1="137.3" x2="377.6" y2="137.3" stroke="#ffd0c0" stroke-opacity="0.55" stroke-width="0.9" stroke-dasharray="1.2 0.6"/>
<rect x="381.4" y="135.6" width="7.3" height="3.5" rx="0.6" fill="#e83a22" stroke="#c22a16" stroke-width="0.6"/>
<line x1="382.4" y1="137.3" x2="387.6" y2="137.3" stroke="#ffd0c0" stroke-opacity="0.55" stroke-width="0.9" stroke-dasharray="1.2 0.6"/>
<rect x="392.1" y="135.6" width="12.5" height="3.5" rx="0.6" fill="#e83a22" stroke="#c22a16" stroke-width="0.6"/>
<line x1="393.1" y1="137.3" x2="403.6" y2="137.3" stroke="#ffd0c0" stroke-opacity="0.55" stroke-width="0.9" stroke-dasharray="1.2 0.6"/>
<rect x="405.2" y="135.6" width="15.4" height="3.5" rx="0.6" fill="#e83a22" stroke="#c22a16" stroke-width="0.6"/>
<line x1="406.2" y1="137.3" x2="419.6" y2="137.3" stroke="#ffd0c0" stroke-opacity="0.55" stroke-width="0.9" stroke-dasharray="1.2 0.6"/>
<rect x="424.4" y="135.6" width="6.1" height="3.5" rx="0.6" fill="#e83a22" stroke="#c22a16" stroke-width="0.6"/>
<line x1="425.4" y1="137.3" x2="429.6" y2="137.3" stroke="#ffd0c0" stroke-opacity="0.55" stroke-width="0.9" stroke-dasharray="1.2 0.6"/>
<rect x="362.1" y="141.3" width="15.6" height="3.5" rx="0.6" fill="#e83a22" stroke="#c22a16" stroke-width="0.6"/>
<line x1="363.1" y1="143.1" x2="376.7" y2="143.1" stroke="#ffd0c0" stroke-opacity="0.55" stroke-width="0.9" stroke-dasharray="1.2 0.6"/>
<rect x="386.7" y="141.3" width="10.8" height="3.5" rx="0.6" fill="#e83a22" stroke="#c22a16" stroke-width="0.6"/>
<line x1="387.7" y1="143.1" x2="396.5" y2="143.1" stroke="#ffd0c0" stroke-opacity="0.55" stroke-width="0.9" stroke-dasharray="1.2 0.6"/>
<rect x="399.8" y="141.3" width="13.1" height="3.5" rx="0.6" fill="#e83a22" stroke="#c22a16" stroke-width="0.6"/>
<line x1="400.8" y1="143.1" x2="411.9" y2="143.1" stroke="#ffd0c0" stroke-opacity="0.55" stroke-width="0.9" stroke-dasharray="1.2 0.6"/>
<rect x="414.4" y="141.3" width="10.8" height="3.5" rx="0.6" fill="#e83a22" stroke="#c22a16" stroke-width="0.6"/>
<line x1="415.4" y1="143.1" x2="424.2" y2="143.1" stroke="#ffd0c0" stroke-opacity="0.55" stroke-width="0.9" stroke-dasharray="1.2 0.6"/>
<rect x="428.3" y="141.3" width="9.2" height="3.5" rx="0.6" fill="#e83a22" stroke="#c22a16" stroke-width="0.6"/>
<line x1="429.3" y1="143.1" x2="436.5" y2="143.1" stroke="#ffd0c0" stroke-opacity="0.55" stroke-width="0.9" stroke-dasharray="1.2 0.6"/>
<rect x="379.0" y="145.9" width="8.8" height="3.5" rx="0.6" fill="#e83a22" stroke="#c22a16" stroke-width="0.6"/>
<line x1="380.0" y1="147.7" x2="386.9" y2="147.7" stroke="#ffd0c0" stroke-opacity="0.55" stroke-width="0.9" stroke-dasharray="1.2 0.6"/>
<rect x="357.5" y="147.1" width="10.6" height="3.5" rx="0.6" fill="#e83a22" stroke="#c22a16" stroke-width="0.6"/>
<line x1="358.5" y1="148.8" x2="367.1" y2="148.8" stroke="#ffd0c0" stroke-opacity="0.55" stroke-width="0.9" stroke-dasharray="1.2 0.6"/>
<rect x="391.4" y="147.1" width="10.0" height="3.5" rx="0.6" fill="#e83a22" stroke="#c22a16" stroke-width="0.6"/>
<line x1="392.4" y1="148.8" x2="400.3" y2="148.8" stroke="#ffd0c0" stroke-opacity="0.55" stroke-width="0.9" stroke-dasharray="1.2 0.6"/>
<rect x="404.4" y="147.1" width="13.8" height="3.5" rx="0.6" fill="#e83a22" stroke="#c22a16" stroke-width="0.6"/>
<line x1="405.4" y1="148.8" x2="417.3" y2="148.8" stroke="#ffd0c0" stroke-opacity="0.55" stroke-width="0.9" stroke-dasharray="1.2 0.6"/>
<rect x="422.5" y="147.1" width="7.7" height="3.5" rx="0.6" fill="#e83a22" stroke="#c22a16" stroke-width="0.6"/>
<line x1="423.5" y1="148.8" x2="429.2" y2="148.8" stroke="#ffd0c0" stroke-opacity="0.55" stroke-width="0.9" stroke-dasharray="1.2 0.6"/>
<rect x="371.0" y="151.3" width="9.2" height="3.5" rx="0.6" fill="#e83a22" stroke="#c22a16" stroke-width="0.6"/>
<line x1="372.0" y1="153.1" x2="379.2" y2="153.1" stroke="#ffd0c0" stroke-opacity="0.55" stroke-width="0.9" stroke-dasharray="1.2 0.6"/>
<rect x="383.3" y="152.3" width="9.2" height="3.5" rx="0.6" fill="#e83a22" stroke="#c22a16" stroke-width="0.6"/>
<line x1="384.3" y1="154.0" x2="391.5" y2="154.0" stroke="#ffd0c0" stroke-opacity="0.55" stroke-width="0.9" stroke-dasharray="1.2 0.6"/>
<rect x="397.3" y="152.3" width="10.2" height="3.5" rx="0.6" fill="#e83a22" stroke="#c22a16" stroke-width="0.6"/>
<line x1="398.3" y1="154.0" x2="406.5" y2="154.0" stroke="#ffd0c0" stroke-opacity="0.55" stroke-width="0.9" stroke-dasharray="1.2 0.6"/>
<rect x="410.2" y="152.3" width="15.4" height="3.5" rx="0.6" fill="#e83a22" stroke="#c22a16" stroke-width="0.6"/>
<line x1="411.2" y1="154.0" x2="424.6" y2="154.0" stroke="#ffd0c0" stroke-opacity="0.55" stroke-width="0.9" stroke-dasharray="1.2 0.6"/>
<rect x="429.0" y="152.3" width="9.6" height="3.5" rx="0.6" fill="#e83a22" stroke="#c22a16" stroke-width="0.6"/>
<line x1="430.0" y1="154.0" x2="437.6" y2="154.0" stroke="#ffd0c0" stroke-opacity="0.55" stroke-width="0.9" stroke-dasharray="1.2 0.6"/>
<rect x="407.1" y="157.9" width="9.0" height="3.5" rx="0.6" fill="#e83a22" stroke="#c22a16" stroke-width="0.6"/>
<line x1="408.1" y1="159.6" x2="415.1" y2="159.6" stroke="#ffd0c0" stroke-opacity="0.55" stroke-width="0.9" stroke-dasharray="1.2 0.6"/>
<rect x="420.4" y="157.9" width="8.3" height="3.5" rx="0.6" fill="#e83a22" stroke="#c22a16" stroke-width="0.6"/>
<line x1="421.4" y1="159.6" x2="427.6" y2="159.6" stroke="#ffd0c0" stroke-opacity="0.55" stroke-width="0.9" stroke-dasharray="1.2 0.6"/>
<rect x="447.5" y="119.4" width="8.8" height="3.5" rx="0.6" fill="#e83a22" stroke="#c22a16" stroke-width="0.6"/>
<line x1="448.5" y1="121.2" x2="455.3" y2="121.2" stroke="#ffd0c0" stroke-opacity="0.55" stroke-width="0.9" stroke-dasharray="1.2 0.6"/>
<rect x="461.0" y="119.4" width="8.8" height="3.5" rx="0.6" fill="#e83a22" stroke="#c22a16" stroke-width="0.6"/>
<line x1="462.0" y1="121.2" x2="468.8" y2="121.2" stroke="#ffd0c0" stroke-opacity="0.55" stroke-width="0.9" stroke-dasharray="1.2 0.6"/>
<rect x="434.0" y="125.4" width="9.6" height="3.5" rx="0.6" fill="#e83a22" stroke="#c22a16" stroke-width="0.6"/>
<line x1="435.0" y1="127.1" x2="442.6" y2="127.1" stroke="#ffd0c0" stroke-opacity="0.55" stroke-width="0.9" stroke-dasharray="1.2 0.6"/>
<rect x="444.0" y="125.4" width="16.5" height="3.5" rx="0.6" fill="#e83a22" stroke="#c22a16" stroke-width="0.6"/>
<line x1="445.0" y1="127.1" x2="459.6" y2="127.1" stroke="#ffd0c0" stroke-opacity="0.55" stroke-width="0.9" stroke-dasharray="1.2 0.6"/>
<rect x="464.8" y="125.4" width="10.0" height="3.5" rx="0.6" fill="#e83a22" stroke="#c22a16" stroke-width="0.6"/>
<line x1="465.8" y1="127.1" x2="473.8" y2="127.1" stroke="#ffd0c0" stroke-opacity="0.55" stroke-width="0.9" stroke-dasharray="1.2 0.6"/>
<rect x="477.1" y="125.4" width="10.0" height="3.5" rx="0.6" fill="#e83a22" stroke="#c22a16" stroke-width="0.6"/>
<line x1="478.1" y1="127.1" x2="486.1" y2="127.1" stroke="#ffd0c0" stroke-opacity="0.55" stroke-width="0.9" stroke-dasharray="1.2 0.6"/>
<rect x="454.0" y="130.4" width="13.1" height="3.5" rx="0.6" fill="#e83a22" stroke="#c22a16" stroke-width="0.6"/>
<line x1="455.0" y1="132.1" x2="466.1" y2="132.1" stroke="#ffd0c0" stroke-opacity="0.55" stroke-width="0.9" stroke-dasharray="1.2 0.6"/>
<rect x="509.4" y="130.4" width="8.8" height="3.5" rx="0.6" fill="#e83a22" stroke="#c22a16" stroke-width="0.6"/>
<line x1="510.4" y1="132.1" x2="517.3" y2="132.1" stroke="#ffd0c0" stroke-opacity="0.55" stroke-width="0.9" stroke-dasharray="1.2 0.6"/>
<rect x="436.4" y="135.6" width="9.4" height="3.5" rx="0.6" fill="#e83a22" stroke="#c22a16" stroke-width="0.6"/>
<line x1="437.4" y1="137.3" x2="444.8" y2="137.3" stroke="#ffd0c0" stroke-opacity="0.55" stroke-width="0.9" stroke-dasharray="1.2 0.6"/>
<rect x="446.4" y="135.6" width="9.0" height="3.5" rx="0.6" fill="#e83a22" stroke="#c22a16" stroke-width="0.6"/>
<line x1="447.4" y1="137.3" x2="454.4" y2="137.3" stroke="#ffd0c0" stroke-opacity="0.55" stroke-width="0.9" stroke-dasharray="1.2 0.6"/>
<rect x="464.0" y="135.6" width="5.8" height="3.5" rx="0.6" fill="#e83a22" stroke="#c22a16" stroke-width="0.6"/>
<line x1="465.0" y1="137.3" x2="468.8" y2="137.3" stroke="#ffd0c0" stroke-opacity="0.55" stroke-width="0.9" stroke-dasharray="1.2 0.6"/>
<rect x="472.5" y="135.6" width="6.1" height="3.5" rx="0.6" fill="#e83a22" stroke="#c22a16" stroke-width="0.6"/>
<line x1="473.5" y1="137.3" x2="477.6" y2="137.3" stroke="#ffd0c0" stroke-opacity="0.55" stroke-width="0.9" stroke-dasharray="1.2 0.6"/>
<rect x="481.4" y="135.6" width="9.6" height="3.5" rx="0.6" fill="#e83a22" stroke="#c22a16" stroke-width="0.6"/>
<line x1="482.4" y1="137.3" x2="490.0" y2="137.3" stroke="#ffd0c0" stroke-opacity="0.55" stroke-width="0.9" stroke-dasharray="1.2 0.6"/>
<rect x="495.2" y="135.6" width="13.8" height="3.5" rx="0.6" fill="#e83a22" stroke="#c22a16" stroke-width="0.6"/>
<line x1="496.2" y1="137.3" x2="508.0" y2="137.3" stroke="#ffd0c0" stroke-opacity="0.55" stroke-width="0.9" stroke-dasharray="1.2 0.6"/>
<rect x="440.2" y="141.3" width="15.8" height="3.5" rx="0.6" fill="#e83a22" stroke="#c22a16" stroke-width="0.6"/>
<line x1="441.2" y1="143.1" x2="455.0" y2="143.1" stroke="#ffd0c0" stroke-opacity="0.55" stroke-width="0.9" stroke-dasharray="1.2 0.6"/>
<rect x="457.9" y="141.3" width="7.7" height="3.5" rx="0.6" fill="#e83a22" stroke="#c22a16" stroke-width="0.6"/>
<line x1="458.9" y1="143.1" x2="464.6" y2="143.1" stroke="#ffd0c0" stroke-opacity="0.55" stroke-width="0.9" stroke-dasharray="1.2 0.6"/>
<rect x="467.5" y="141.3" width="8.1" height="3.5" rx="0.6" fill="#e83a22" stroke="#c22a16" stroke-width="0.6"/>
<line x1="468.5" y1="143.1" x2="474.6" y2="143.1" stroke="#ffd0c0" stroke-opacity="0.55" stroke-width="0.9" stroke-dasharray="1.2 0.6"/>
<rect x="476.0" y="141.3" width="7.7" height="3.5" rx="0.6" fill="#e83a22" stroke="#c22a16" stroke-width="0.6"/>
<line x1="477.0" y1="143.1" x2="482.6" y2="143.1" stroke="#ffd0c0" stroke-opacity="0.55" stroke-width="0.9" stroke-dasharray="1.2 0.6"/>
<rect x="487.1" y="141.3" width="13.8" height="3.5" rx="0.6" fill="#e83a22" stroke="#c22a16" stroke-width="0.6"/>
<line x1="488.1" y1="143.1" x2="500.0" y2="143.1" stroke="#ffd0c0" stroke-opacity="0.55" stroke-width="0.9" stroke-dasharray="1.2 0.6"/>
<rect x="436.4" y="146.7" width="8.4" height="3.5" rx="0.6" fill="#e83a22" stroke="#c22a16" stroke-width="0.6"/>
<line x1="437.4" y1="148.5" x2="443.8" y2="148.5" stroke="#ffd0c0" stroke-opacity="0.55" stroke-width="0.9" stroke-dasharray="1.2 0.6"/>
<rect x="453.3" y="146.7" width="9.2" height="3.5" rx="0.6" fill="#e83a22" stroke="#c22a16" stroke-width="0.6"/>
<line x1="454.3" y1="148.5" x2="461.5" y2="148.5" stroke="#ffd0c0" stroke-opacity="0.55" stroke-width="0.9" stroke-dasharray="1.2 0.6"/>
<rect x="467.5" y="146.7" width="9.2" height="3.5" rx="0.6" fill="#e83a22" stroke="#c22a16" stroke-width="0.6"/>
<line x1="468.5" y1="148.5" x2="475.7" y2="148.5" stroke="#ffd0c0" stroke-opacity="0.55" stroke-width="0.9" stroke-dasharray="1.2 0.6"/>
<rect x="479.4" y="146.7" width="10.6" height="3.5" rx="0.6" fill="#e83a22" stroke="#c22a16" stroke-width="0.6"/>
<line x1="480.4" y1="148.5" x2="489.0" y2="148.5" stroke="#ffd0c0" stroke-opacity="0.55" stroke-width="0.9" stroke-dasharray="1.2 0.6"/>
<rect x="445.6" y="152.5" width="9.2" height="3.5" rx="0.6" fill="#e83a22" stroke="#c22a16" stroke-width="0.6"/>
<line x1="446.6" y1="154.2" x2="453.8" y2="154.2" stroke="#ffd0c0" stroke-opacity="0.55" stroke-width="0.9" stroke-dasharray="1.2 0.6"/>
<rect x="435.6" y="158.2" width="11.1" height="3.5" rx="0.6" fill="#e83a22" stroke="#c22a16" stroke-width="0.6"/>
<line x1="436.6" y1="160.0" x2="445.7" y2="160.0" stroke="#ffd0c0" stroke-opacity="0.55" stroke-width="0.9" stroke-dasharray="1.2 0.6"/>
<rect x="290.5" y="10.2" width="229" height="168.8" fill="none" stroke="#1f1f1f" stroke-width="1.3"/>
<line x1="287.10" y1="171.60" x2="290.50" y2="171.60" stroke="#222" stroke-width="1" />
<text x="281.30" y="174.81" font-size="9.537037037037036" text-anchor="middle" fill="#222" textLength="5.17" lengthAdjust="spacingAndGlyphs" >0</text>
<line x1="287.10" y1="141.20" x2="290.50" y2="141.20" stroke="#222" stroke-width="1" />
<text x="281.30" y="144.41" font-size="9.537037037037036" text-anchor="middle" fill="#222" textLength="5.17" lengthAdjust="spacingAndGlyphs" >1</text>
<line x1="287.10" y1="110.80" x2="290.50" y2="110.80" stroke="#222" stroke-width="1" />
<text x="281.30" y="114.01" font-size="9.537037037037036" text-anchor="middle" fill="#222" textLength="5.17" lengthAdjust="spacingAndGlyphs" >2</text>
<line x1="287.10" y1="80.40" x2="290.50" y2="80.40" stroke="#222" stroke-width="1" />
<text x="281.30" y="83.61" font-size="9.537037037037036" text-anchor="middle" fill="#222" textLength="5.17" lengthAdjust="spacingAndGlyphs" >3</text>
<line x1="287.10" y1="50.00" x2="290.50" y2="50.00" stroke="#222" stroke-width="1" />
<text x="281.30" y="53.21" font-size="9.537037037037036" text-anchor="middle" fill="#222" textLength="5.17" lengthAdjust="spacingAndGlyphs" >4</text>
<line x1="287.10" y1="19.60" x2="290.50" y2="19.60" stroke="#222" stroke-width="1" />
<text x="281.30" y="22.81" font-size="9.537037037037036" text-anchor="middle" fill="#222" textLength="5.17" lengthAdjust="spacingAndGlyphs" >5</text>
<line x1="354.60" y1="179.00" x2="354.60" y2="182.40" stroke="#222" stroke-width="1" />
<text x="354.10" y="193.21" font-size="9.537037037037036" text-anchor="middle" fill="#222" textLength="5.17" lengthAdjust="spacingAndGlyphs" >0</text>
<line x1="440.60" y1="179.00" x2="440.60" y2="182.40" stroke="#222" stroke-width="1" />
<text x="440.10" y="193.21" font-size="9.537037037037036" text-anchor="middle" fill="#222" textLength="5.17" lengthAdjust="spacingAndGlyphs" >5</text>
<text x="269.40" y="98.08" font-size="10.5" text-anchor="middle" fill="#1e1e1e" textLength="47.00" lengthAdjust="spacingAndGlyphs" transform="rotate(-90 269.40 94.30)" stroke="#1e1e1e" stroke-width="0.22">-Log10 (FDR)</text>
<text x="405.00" y="206.48" font-size="10.5" text-anchor="middle" fill="#1e1e1e" textLength="22.50" lengthAdjust="spacingAndGlyphs" stroke="#1e1e1e" stroke-width="0.22">LogFC</text>
<text x="317.00" y="193.06" font-size="9.18" text-anchor="middle" fill="#7cb45c" textLength="37.50" lengthAdjust="spacingAndGlyphs" >8-ohdg lo</text>
<text x="492.70" y="193.06" font-size="9.18" text-anchor="middle" fill="#d93a44" textLength="38.50" lengthAdjust="spacingAndGlyphs" >8-ohdg hi</text>
<text x="0.50" y="228.58" font-size="11.9" text-anchor="start" fill="#000" font-weight="bold" stroke="#000" stroke-width="0.3">C</text>
<ellipse cx="76.5" cy="278.75" rx="18.4" ry="61.3" transform="rotate(31.3 76.5 278.75)" fill="#b4d6f3"/>
<ellipse cx="131.25" cy="289.25" rx="19.9" ry="58" transform="rotate(12.7 131.25 289.25)" fill="#ef8fbc"/>
<line x1="36.10" y1="219.00" x2="36.10" y2="354.50" stroke="#3a3a3a" stroke-width="1.3" />
<line x1="35.50" y1="353.90" x2="159.50" y2="353.90" stroke="#3a3a3a" stroke-width="1.3" />
<line x1="32.60" y1="248.20" x2="36.10" y2="248.20" stroke="#2a2a2a" stroke-width="1" />
<text x="29.60" y="251.41" font-size="9.537037037037036" text-anchor="end" fill="#2a2a2a" textLength="10.34" lengthAdjust="spacingAndGlyphs" >30</text>
<line x1="32.60" y1="283.30" x2="36.10" y2="283.30" stroke="#2a2a2a" stroke-width="1" />
<text x="29.60" y="286.51" font-size="9.537037037037036" text-anchor="end" fill="#2a2a2a" textLength="5.17" lengthAdjust="spacingAndGlyphs" >0</text>
<line x1="32.60" y1="318.20" x2="36.10" y2="318.20" stroke="#2a2a2a" stroke-width="1" />
<text x="29.60" y="321.41" font-size="9.537037037037036" text-anchor="end" fill="#2a2a2a" textLength="15.78" lengthAdjust="spacingAndGlyphs" >−30</text>
<line x1="32.60" y1="353.00" x2="36.10" y2="353.00" stroke="#2a2a2a" stroke-width="1" />
<text x="29.60" y="356.21" font-size="9.537037037037036" text-anchor="end" fill="#2a2a2a" textLength="15.78" lengthAdjust="spacingAndGlyphs" >−60</text>
<line x1="43.50" y1="353.90" x2="43.50" y2="357.60" stroke="#2a2a2a" stroke-width="1" />
<text x="43.10" y="368.21" font-size="9.537037037037036" text-anchor="middle" fill="#2a2a2a" textLength="13.80" lengthAdjust="spacingAndGlyphs" >−60</text>
<line x1="71.40" y1="353.90" x2="71.40" y2="357.60" stroke="#2a2a2a" stroke-width="1" />
<text x="71.00" y="368.21" font-size="9.537037037037036" text-anchor="middle" fill="#2a2a2a" textLength="13.80" lengthAdjust="spacingAndGlyphs" >−30</text>
<line x1="99.60" y1="353.90" x2="99.60" y2="357.60" stroke="#2a2a2a" stroke-width="1" />
<text x="99.60" y="368.21" font-size="9.537037037037036" text-anchor="middle" fill="#2a2a2a" textLength="5.17" lengthAdjust="spacingAndGlyphs" >0</text>
<line x1="127.60" y1="353.90" x2="127.60" y2="357.60" stroke="#2a2a2a" stroke-width="1" />
<text x="127.60" y="368.21" font-size="9.537037037037036" text-anchor="middle" fill="#2a2a2a" textLength="10.34" lengthAdjust="spacingAndGlyphs" >30</text>
<line x1="155.80" y1="353.90" x2="155.80" y2="357.60" stroke="#2a2a2a" stroke-width="1" />
<text x="155.80" y="368.21" font-size="9.537037037037036" text-anchor="middle" fill="#2a2a2a" textLength="10.34" lengthAdjust="spacingAndGlyphs" >60</text>
<text x="6.10" y="290.08" font-size="10.5" text-anchor="middle" fill="#1e1e1e" textLength="39.00" lengthAdjust="spacingAndGlyphs" transform="rotate(-90 6.10 286.30)" stroke="#1e1e1e" stroke-width="0.22">PC2 - 16%</text>
<text x="97.50" y="382.78" font-size="10.5" text-anchor="middle" fill="#1e1e1e" textLength="46.00" lengthAdjust="spacingAndGlyphs" stroke="#1e1e1e" stroke-width="0.22">PC1 - 38,6%</text>
<circle cx="42.2" cy="227.5" r="1.8" fill="#7c1028" stroke="#24060c" stroke-width="1.25"/>
<text x="47.60" y="230.26" font-size="7.4" text-anchor="start" fill="#333" >hi</text>
<circle cx="42.2" cy="236.2" r="1.8" fill="#2c9444" stroke="#0a2c12" stroke-width="1.25"/>
<text x="47.60" y="238.96" font-size="7.4" text-anchor="start" fill="#333" >lo</text>
<circle cx="94.7" cy="232.2" r="1.8" fill="#2c9444" stroke="#0a2c12" stroke-width="1.25"/>
<text x="99.50" y="240.79" font-size="5.8" text-anchor="middle" fill="#111" stroke="#111" stroke-width="0.12">KMT120</text>
<circle cx="87.5" cy="274.2" r="1.8" fill="#2c9444" stroke="#0a2c12" stroke-width="1.25"/>
<text x="87.00" y="270.79" font-size="5.8" text-anchor="middle" fill="#111" stroke="#111" stroke-width="0.12">KMT51</text>
<circle cx="81.7" cy="278.7" r="1.8" fill="#2c9444" stroke="#0a2c12" stroke-width="1.25"/>
<text x="83.00" y="286.59" font-size="5.8" text-anchor="middle" fill="#111" stroke="#111" stroke-width="0.12">KMT65</text>
<circle cx="58.7" cy="291.5" r="1.8" fill="#2c9444" stroke="#0a2c12" stroke-width="1.25"/>
<text x="63.20" y="287.79" font-size="5.8" text-anchor="middle" fill="#111" stroke="#111" stroke-width="0.12">KMT82</text>
<circle cx="64.5" cy="299" r="1.8" fill="#2c9444" stroke="#0a2c12" stroke-width="1.25"/>
<text x="63.20" y="307.09" font-size="5.8" text-anchor="middle" fill="#111" stroke="#111" stroke-width="0.12">KMT94</text>
<circle cx="140.5" cy="256.2" r="1.8" fill="#7c1028" stroke="#24060c" stroke-width="1.25"/>
<text x="140.50" y="252.79" font-size="5.8" text-anchor="middle" fill="#111" stroke="#111" stroke-width="0.12">KMT78</text>
<circle cx="130" cy="291" r="1.8" fill="#7c1028" stroke="#24060c" stroke-width="1.25"/>
<text x="129.50" y="286.59" font-size="5.8" text-anchor="middle" fill="#111" stroke="#111" stroke-width="0.12">KMT126</text>
<circle cx="117.2" cy="298.7" r="1.8" fill="#7c1028" stroke="#24060c" stroke-width="1.25"/>
<text x="120.00" y="307.29" font-size="5.8" text-anchor="middle" fill="#111" stroke="#111" stroke-width="0.12">KMT138</text>
<circle cx="135" cy="311.4" r="1.8" fill="#7c1028" stroke="#24060c" stroke-width="1.25"/>
<text x="131.00" y="320.09" font-size="5.8" text-anchor="middle" fill="#111" stroke="#111" stroke-width="0.12">KMT89</text>
<text x="178.60" y="228.78" font-size="11.9" text-anchor="start" fill="#000" font-weight="bold" stroke="#000" stroke-width="0.3">D</text>
<rect x="287.5" y="250.40" width="58.7" height="5.2" fill="#c8102e"/>
<line x1="283.60" y1="253.00" x2="287.20" y2="253.00" stroke="#2a2a2a" stroke-width="1" />
<text x="280.00" y="255.99" font-size="8.96" text-anchor="end" fill="#262626" textLength="55.50" lengthAdjust="spacingAndGlyphs" >E2F_TARGETS</text>
<rect x="287.5" y="259.90" width="57.7" height="5.2" fill="#c8102e"/>
<line x1="283.60" y1="262.50" x2="287.20" y2="262.50" stroke="#2a2a2a" stroke-width="1" />
<text x="280.00" y="265.49" font-size="8.96" text-anchor="end" fill="#262626" textLength="79.50" lengthAdjust="spacingAndGlyphs" >G2M_CHECKPOINT</text>
<rect x="287.5" y="269.40" width="54.5" height="5.2" fill="#c8102e"/>
<line x1="283.60" y1="272.00" x2="287.20" y2="272.00" stroke="#2a2a2a" stroke-width="1" />
<text x="280.00" y="274.99" font-size="8.96" text-anchor="end" fill="#262626" textLength="50.80" lengthAdjust="spacingAndGlyphs" >CELL_CYCLE</text>
<rect x="287.5" y="278.90" width="47.5" height="5.2" fill="#c8102e"/>
<line x1="283.60" y1="281.50" x2="287.20" y2="281.50" stroke="#2a2a2a" stroke-width="1" />
<text x="280.00" y="284.49" font-size="8.96" text-anchor="end" fill="#262626" textLength="60.00" lengthAdjust="spacingAndGlyphs" >MYC_TARGETS</text>
<rect x="287.5" y="288.40" width="46.0" height="5.2" fill="#c8102e"/>
<line x1="283.60" y1="291.00" x2="287.20" y2="291.00" stroke="#2a2a2a" stroke-width="1" />
<text x="280.00" y="293.99" font-size="8.96" text-anchor="end" fill="#262626" textLength="75.00" lengthAdjust="spacingAndGlyphs" >MITOTIC_SPINDLE</text>
<rect x="287.5" y="297.90" width="39.2" height="5.2" fill="#c8102e"/>
<line x1="283.60" y1="300.50" x2="287.20" y2="300.50" stroke="#2a2a2a" stroke-width="1" />
<text x="280.00" y="303.49" font-size="8.96" text-anchor="end" fill="#262626" textLength="87.50" lengthAdjust="spacingAndGlyphs" >MTORC1_SIGNALING</text>
<rect x="287.5" y="307.40" width="36.0" height="5.2" fill="#c8102e"/>
<line x1="283.60" y1="310.00" x2="287.20" y2="310.00" stroke="#2a2a2a" stroke-width="1" />
<text x="280.00" y="312.99" font-size="8.96" text-anchor="end" fill="#262626" textLength="52.00" lengthAdjust="spacingAndGlyphs" >DNA_REPAIR</text>
<rect x="287.5" y="316.90" width="34.0" height="5.2" fill="#c8102e"/>
<line x1="283.60" y1="319.50" x2="287.20" y2="319.50" stroke="#2a2a2a" stroke-width="1" />
<text x="280.00" y="322.49" font-size="8.96" text-anchor="end" fill="#262626" textLength="102.00" lengthAdjust="spacingAndGlyphs" >PYRUVATE_METABOLISM</text>
<rect x="287.5" y="326.40" width="34.0" height="5.2" fill="#c8102e"/>
<line x1="283.60" y1="329.00" x2="287.20" y2="329.00" stroke="#2a2a2a" stroke-width="1" />
<text x="280.00" y="331.99" font-size="8.96" text-anchor="end" fill="#262626" textLength="35.00" lengthAdjust="spacingAndGlyphs" >OXPHOS</text>
<rect x="287.5" y="335.90" width="33.8" height="5.2" fill="#c8102e"/>
<line x1="283.60" y1="338.50" x2="287.20" y2="338.50" stroke="#2a2a2a" stroke-width="1" />
<text x="280.00" y="341.49" font-size="8.96" text-anchor="end" fill="#262626" textLength="48.00" lengthAdjust="spacingAndGlyphs" >TCA_CYCLE</text>
<rect x="287.5" y="345.40" width="32.0" height="5.2" fill="#c8102e"/>
<line x1="283.60" y1="348.00" x2="287.20" y2="348.00" stroke="#2a2a2a" stroke-width="1" />
<text x="280.00" y="350.99" font-size="8.96" text-anchor="end" fill="#262626" textLength="49.40" lengthAdjust="spacingAndGlyphs" >GLYCOLYSIS</text>
<line x1="287.20" y1="246.00" x2="287.20" y2="354.40" stroke="#2a2a2a" stroke-width="1.3" />
<line x1="286.60" y1="353.80" x2="367.30" y2="353.80" stroke="#2a2a2a" stroke-width="1.3" />
<line x1="287.20" y1="353.80" x2="287.20" y2="357.30" stroke="#2a2a2a" stroke-width="1" />
<text x="287.20" y="368.51" font-size="9.537037037037036" text-anchor="middle" fill="#2a2a2a" textLength="5.17" lengthAdjust="spacingAndGlyphs" >0</text>
<line x1="307.60" y1="353.80" x2="307.60" y2="357.30" stroke="#2a2a2a" stroke-width="1" />
<text x="307.60" y="368.51" font-size="9.537037037037036" text-anchor="middle" fill="#2a2a2a" textLength="5.17" lengthAdjust="spacingAndGlyphs" >1</text>
<line x1="327.20" y1="353.80" x2="327.20" y2="357.30" stroke="#2a2a2a" stroke-width="1" />
<text x="327.20" y="368.51" font-size="9.537037037037036" text-anchor="middle" fill="#2a2a2a" textLength="5.17" lengthAdjust="spacingAndGlyphs" >2</text>
<line x1="347.00" y1="353.80" x2="347.00" y2="357.30" stroke="#2a2a2a" stroke-width="1" />
<text x="347.00" y="368.51" font-size="9.537037037037036" text-anchor="middle" fill="#2a2a2a" textLength="5.17" lengthAdjust="spacingAndGlyphs" >3</text>
<line x1="367.00" y1="353.80" x2="367.00" y2="357.30" stroke="#2a2a2a" stroke-width="1" />
<text x="367.00" y="368.51" font-size="9.537037037037036" text-anchor="middle" fill="#2a2a2a" textLength="5.17" lengthAdjust="spacingAndGlyphs" >4</text>
<text x="327.00" y="382.78" font-size="10.5" text-anchor="middle" fill="#1e1e1e" textLength="108.00" lengthAdjust="spacingAndGlyphs" stroke="#1e1e1e" stroke-width="0.22">Normalized enrichment score</text>
<text x="393.40" y="228.68" font-size="11.9" text-anchor="start" fill="#000" font-weight="bold" stroke="#000" stroke-width="0.3">E</text>
<rect x="435" y="348" width="10.5" height="6.1" fill="#c9c9cf"/>
<rect x="452" y="351" width="10.5" height="3.1" fill="#c9c9cf"/>
<rect x="468" y="337.5" width="11.2" height="16.6" fill="#c9c9cf"/>
<rect x="485" y="344.5" width="11.0" height="9.6" fill="#c9c9cf"/>
<rect x="501.7" y="347" width="10.8" height="7.1" fill="#c9c9cf"/>
<line x1="428.70" y1="255.70" x2="428.70" y2="354.70" stroke="#1c1c1c" stroke-width="1.3" />
<line x1="428.10" y1="354.10" x2="516.50" y2="354.10" stroke="#1c1c1c" stroke-width="1.3" />
<line x1="425.30" y1="258.00" x2="428.70" y2="258.00" stroke="#2a2a2a" stroke-width="1" />
<text x="423.60" y="261.21" font-size="9.537037037037036" text-anchor="end" fill="#2a2a2a" textLength="13.30" lengthAdjust="spacingAndGlyphs" >3.0</text>
<line x1="425.30" y1="282.20" x2="428.70" y2="282.20" stroke="#2a2a2a" stroke-width="1" />
<text x="423.60" y="285.41" font-size="9.537037037037036" text-anchor="end" fill="#2a2a2a" textLength="13.30" lengthAdjust="spacingAndGlyphs" >2.5</text>
<line x1="425.30" y1="306.20" x2="428.70" y2="306.20" stroke="#2a2a2a" stroke-width="1" />
<text x="423.60" y="309.41" font-size="9.537037037037036" text-anchor="end" fill="#2a2a2a" textLength="13.30" lengthAdjust="spacingAndGlyphs" >2.0</text>
<line x1="425.30" y1="330.20" x2="428.70" y2="330.20" stroke="#2a2a2a" stroke-width="1" />
<text x="423.60" y="333.41" font-size="9.537037037037036" text-anchor="end" fill="#2a2a2a" textLength="13.30" lengthAdjust="spacingAndGlyphs" >1.5</text>
<line x1="425.30" y1="353.30" x2="428.70" y2="353.30" stroke="#2a2a2a" stroke-width="1" />
<text x="423.60" y="356.51" font-size="9.537037037037036" text-anchor="end" fill="#2a2a2a" textLength="13.30" lengthAdjust="spacingAndGlyphs" >1.0</text>
<circle cx="436.7" cy="348.7" r="2.4" fill="#f6c41a" stroke="#2a1f05" stroke-width="1.2"/>
<circle cx="440" cy="344.7" r="2.4" fill="#f6c41a" stroke="#2a1f05" stroke-width="1.2"/>
<circle cx="443" cy="341.7" r="2.4" fill="#f6c41a" stroke="#2a1f05" stroke-width="1.2"/>
<circle cx="443" cy="348.2" r="2.4" fill="#f6c41a" stroke="#2a1f05" stroke-width="1.2"/>
<circle cx="453.7" cy="349" r="2.4" fill="#f6c41a" stroke="#2a1f05" stroke-width="1.2"/>
<circle cx="457" cy="350.7" r="2.4" fill="#f6c41a" stroke="#2a1f05" stroke-width="1.2"/>
<circle cx="460.2" cy="350.7" r="2.4" fill="#f6c41a" stroke="#2a1f05" stroke-width="1.2"/>
<circle cx="454" cy="353.2" r="2.4" fill="#f6c41a" stroke="#2a1f05" stroke-width="1.2"/>
<circle cx="473.7" cy="281.2" r="2.4" fill="#f6c41a" stroke="#2a1f05" stroke-width="1.2"/>
<circle cx="473.7" cy="310" r="2.4" fill="#f6c41a" stroke="#2a1f05" stroke-width="1.2"/>
<circle cx="470.5" cy="335.7" r="2.4" fill="#f6c41a" stroke="#2a1f05" stroke-width="1.2"/>
<circle cx="473.7" cy="334.2" r="2.4" fill="#f6c41a" stroke="#2a1f05" stroke-width="1.2"/>
<circle cx="477.2" cy="334" r="2.4" fill="#f6c41a" stroke="#2a1f05" stroke-width="1.2"/>
<circle cx="490.5" cy="325.7" r="2.4" fill="#f6c41a" stroke="#2a1f05" stroke-width="1.2"/>
<circle cx="490.2" cy="338.7" r="2.4" fill="#f6c41a" stroke="#2a1f05" stroke-width="1.2"/>
<circle cx="490.2" cy="343.7" r="2.4" fill="#f6c41a" stroke="#2a1f05" stroke-width="1.2"/>
<circle cx="486.7" cy="349.5" r="2.4" fill="#f6c41a" stroke="#2a1f05" stroke-width="1.2"/>
<circle cx="493.5" cy="349" r="2.4" fill="#f6c41a" stroke="#2a1f05" stroke-width="1.2"/>
<circle cx="510.2" cy="322.7" r="2.4" fill="#f6c41a" stroke="#2a1f05" stroke-width="1.2"/>
<circle cx="504.2" cy="327.5" r="2.4" fill="#f6c41a" stroke="#2a1f05" stroke-width="1.2"/>
<circle cx="504.2" cy="345.7" r="2.4" fill="#f6c41a" stroke="#2a1f05" stroke-width="1.2"/>
<circle cx="510.2" cy="345.7" r="2.4" fill="#f6c41a" stroke="#2a1f05" stroke-width="1.2"/>
<circle cx="504" cy="350.7" r="2.4" fill="#f6c41a" stroke="#2a1f05" stroke-width="1.2"/>
<text x="440.00" y="337.78" font-size="8.64" text-anchor="middle" fill="#333" >*</text>
<text x="473.70" y="275.98" font-size="8.64" text-anchor="middle" fill="#333" >*</text>
<text x="490.20" y="320.78" font-size="8.64" text-anchor="middle" fill="#333" >*</text>
<text x="503.00" y="310.28" font-size="8.64" text-anchor="middle" fill="#333" textLength="32.00" lengthAdjust="spacingAndGlyphs" ><tspan font-style="italic">P</tspan> = .053</text>
<line x1="440.00" y1="354.10" x2="440.00" y2="357.50" stroke="#2a2a2a" stroke-width="1" />
<text x="442.3" y="364.9" font-size="9.5" text-anchor="end" fill="#262626" transform="rotate(-45 442.3 362)">pAKT</text>
<line x1="457.00" y1="354.10" x2="457.00" y2="357.50" stroke="#2a2a2a" stroke-width="1" />
<text x="459.3" y="364.9" font-size="9.5" text-anchor="end" fill="#262626" transform="rotate(-45 459.3 362)">pAMPK</text>
<line x1="473.70" y1="354.10" x2="473.70" y2="357.50" stroke="#2a2a2a" stroke-width="1" />
<text x="476.0" y="364.9" font-size="9.5" text-anchor="end" fill="#262626" transform="rotate(-45 476.0 362)">pMTOR</text>
<line x1="490.20" y1="354.10" x2="490.20" y2="357.50" stroke="#2a2a2a" stroke-width="1" />
<text x="492.5" y="364.9" font-size="9.5" text-anchor="end" fill="#262626" transform="rotate(-45 492.5 362)">HIF1a</text>
<line x1="507.20" y1="354.10" x2="507.20" y2="357.50" stroke="#2a2a2a" stroke-width="1" />
<text x="509.5" y="364.9" font-size="9.5" text-anchor="end" fill="#262626" transform="rotate(-45 509.5 362)">Myc</text>
<text x="398.00" y="308.21" font-size="10.3" text-anchor="middle" fill="#222" textLength="99.00" lengthAdjust="spacingAndGlyphs" transform="rotate(-90 398.00 304.50)" stroke="#222" stroke-width="0.15">Fold-change +H<tspan font-size="6" dy="1.8">2</tspan><tspan dy="-1.8">O</tspan><tspan font-size="6" dy="1.8">2</tspan><tspan dy="-1.8">/-H</tspan><tspan font-size="6" dy="1.8">2</tspan><tspan dy="-1.8">O</tspan><tspan font-size="6" dy="1.8">2</tspan></text>
<text x="0.30" y="409.58" font-size="11.9" text-anchor="start" fill="#000" font-weight="bold" stroke="#000" stroke-width="0.3">F</text>
<text x="129.70" y="407.08" font-size="10.5" text-anchor="middle" fill="#1e1e1e" textLength="102.50" lengthAdjust="spacingAndGlyphs" stroke="#1e1e1e" stroke-width="0.22">Cell cycle-related transcripts</text>
<g stroke="#8a8a92" stroke-opacity="0.4" stroke-width="0.3">
<rect x="22.00" y="418.80" width="24.55" height="4.09" fill="#8888c8"/>
<rect x="22.00" y="422.89" width="24.55" height="4.09" fill="#c0c0e2"/>
<rect x="22.00" y="426.98" width="24.55" height="4.09" fill="#c8c8e5"/>
<rect x="22.00" y="432.80" width="24.55" height="4.09" fill="#ec7074"/>
<rect x="22.00" y="436.89" width="24.55" height="4.09" fill="#f09093"/>
<rect x="22.00" y="440.98" width="24.55" height="4.09" fill="#f2a0a3"/>
<rect x="22.00" y="445.07" width="24.55" height="4.09" fill="#e7484d"/>
<rect x="22.00" y="449.16" width="24.55" height="4.09" fill="#ea6065"/>
<rect x="22.00" y="453.25" width="24.55" height="4.09" fill="#fbeeef"/>
<rect x="22.00" y="457.34" width="24.55" height="4.09" fill="#e43036"/>
<rect x="22.00" y="461.43" width="24.55" height="4.09" fill="#e5353b"/>
<rect x="22.00" y="465.52" width="24.55" height="4.09" fill="#e42c32"/>
<rect x="22.00" y="469.61" width="24.55" height="4.09" fill="#e43036"/>
<rect x="22.00" y="473.70" width="24.55" height="4.09" fill="#e5353b"/>
<rect x="22.00" y="477.79" width="24.55" height="4.09" fill="#ea6469"/>
<rect x="22.00" y="481.88" width="24.55" height="4.09" fill="#eb6c70"/>
<rect x="22.00" y="485.97" width="24.55" height="4.09" fill="#eb666b"/>
<rect x="22.00" y="490.06" width="24.55" height="4.09" fill="#e95c61"/>
<rect x="22.00" y="494.15" width="24.55" height="4.09" fill="#ed7c80"/>
<rect x="22.00" y="498.24" width="24.55" height="4.09" fill="#ee8488"/>
<rect x="22.00" y="502.33" width="24.55" height="4.09" fill="#ee8084"/>
<rect x="22.00" y="506.42" width="24.55" height="4.09" fill="#ec7074"/>
<rect x="22.00" y="510.51" width="24.55" height="4.09" fill="#eb6c70"/>
<rect x="22.00" y="514.60" width="24.55" height="4.09" fill="#e7444a"/>
<rect x="22.00" y="518.69" width="24.55" height="4.09" fill="#e7484d"/>
<rect x="22.00" y="522.78" width="24.55" height="4.09" fill="#e7464c"/>
<rect x="22.00" y="526.87" width="24.55" height="4.09" fill="#e7484d"/>
<rect x="22.00" y="530.96" width="24.55" height="4.09" fill="#e5343a"/>
<rect x="22.00" y="535.05" width="24.55" height="4.09" fill="#e9565b"/>
<rect x="22.00" y="539.14" width="24.55" height="4.09" fill="#e85257"/>
<rect x="22.00" y="543.23" width="24.55" height="4.09" fill="#e53a40"/>
<rect x="22.00" y="547.32" width="24.55" height="4.09" fill="#e7444a"/>
<rect x="22.00" y="551.41" width="24.55" height="4.09" fill="#e85459"/>
<rect x="22.00" y="555.50" width="24.55" height="4.09" fill="#e9585d"/>
<rect x="22.00" y="559.59" width="24.55" height="4.09" fill="#e95a5f"/>
<rect x="22.00" y="563.68" width="24.55" height="4.09" fill="#f9e0e1"/>
<rect x="22.00" y="567.77" width="24.55" height="4.09" fill="#f4b0b2"/>
<rect x="22.00" y="571.86" width="24.55" height="4.09" fill="#fcf4f4"/>
<rect x="22.00" y="575.95" width="24.55" height="4.09" fill="#eb6c70"/>
<rect x="22.00" y="580.04" width="24.55" height="4.09" fill="#ea6469"/>
<rect x="22.00" y="584.13" width="24.55" height="4.09" fill="#ec7478"/>
<rect x="22.00" y="588.22" width="24.55" height="4.09" fill="#fcf4f4"/>
<rect x="22.00" y="592.31" width="24.55" height="4.09" fill="#ef888c"/>
<rect x="22.00" y="596.40" width="24.55" height="4.09" fill="#f09093"/>
<rect x="22.00" y="600.49" width="24.55" height="4.09" fill="#f19a9d"/>
<rect x="22.00" y="604.58" width="24.55" height="4.09" fill="#f19a9d"/>
<rect x="22.00" y="608.67" width="24.55" height="4.09" fill="#ee868a"/>
<rect x="22.00" y="612.76" width="24.55" height="4.09" fill="#fae4e5"/>
<rect x="22.00" y="616.85" width="24.55" height="4.09" fill="#f7d0d1"/>
<rect x="22.00" y="620.94" width="24.55" height="4.09" fill="#fae8e9"/>
<rect x="22.00" y="625.03" width="24.55" height="4.09" fill="#f2a0a3"/>
<rect x="22.00" y="629.12" width="24.55" height="4.09" fill="#f3acae"/>
<rect x="22.00" y="633.21" width="24.55" height="4.09" fill="#fae4e5"/>
<rect x="22.00" y="637.30" width="24.55" height="4.09" fill="#f9e0e1"/>
<rect x="22.00" y="641.39" width="24.55" height="4.09" fill="#fae4e5"/>
<rect x="22.00" y="645.48" width="24.55" height="4.09" fill="#fae4e5"/>
<rect x="22.00" y="649.57" width="24.55" height="4.09" fill="#f8d8d9"/>
<rect x="22.00" y="653.66" width="24.55" height="4.09" fill="#f2a4a7"/>
<rect x="22.00" y="657.75" width="24.55" height="4.09" fill="#f3acae"/>
<rect x="22.00" y="661.84" width="24.55" height="4.09" fill="#f09093"/>
<rect x="22.00" y="665.93" width="24.55" height="4.09" fill="#f2a4a7"/>
<rect x="22.00" y="670.02" width="24.55" height="4.09" fill="#f2a0a3"/>
<rect x="22.00" y="674.11" width="24.55" height="4.09" fill="#f3acae"/>
<rect x="22.00" y="678.20" width="24.55" height="4.09" fill="#f6c4c6"/>
<rect x="22.00" y="682.29" width="24.55" height="4.09" fill="#f8d4d5"/>
<rect x="22.00" y="686.38" width="24.55" height="4.09" fill="#f6c8ca"/>
<rect x="22.00" y="690.47" width="24.55" height="4.09" fill="#f5c0c2"/>
<rect x="22.00" y="694.56" width="24.55" height="4.09" fill="#fbf0f0"/>
<rect x="22.00" y="698.65" width="24.55" height="4.09" fill="#f6c8ca"/>
<rect x="22.00" y="702.74" width="24.55" height="4.09" fill="#f6c4c6"/>
<rect x="22.00" y="706.83" width="24.55" height="4.09" fill="#f7d0d1"/>
<rect x="22.00" y="710.92" width="24.55" height="4.09" fill="#f4b4b6"/>
<rect x="22.00" y="715.01" width="24.55" height="4.09" fill="#b0b0db"/>
<rect x="22.00" y="719.10" width="24.55" height="4.09" fill="#c8c8e5"/>
<rect x="22.00" y="723.19" width="24.55" height="4.09" fill="#f9dadb"/>
<rect x="22.00" y="727.28" width="24.55" height="4.09" fill="#f6c8ca"/>
<rect x="22.00" y="731.37" width="24.55" height="4.09" fill="#f6c8ca"/>
<rect x="46.55" y="418.80" width="24.55" height="4.09" fill="#f4f4f7"/>
<rect x="46.55" y="422.89" width="24.55" height="4.09" fill="#4f4fa9"/>
<rect x="46.55" y="426.98" width="24.55" height="4.09" fill="#5555ad"/>
<rect x="46.55" y="432.80" width="24.55" height="4.09" fill="#ee8084"/>
<rect x="46.55" y="436.89" width="24.55" height="4.09" fill="#eb686d"/>
<rect x="46.55" y="440.98" width="24.55" height="4.09" fill="#fae8e9"/>
<rect x="46.55" y="445.07" width="24.55" height="4.09" fill="#f6c8ca"/>
<rect x="46.55" y="449.16" width="24.55" height="4.09" fill="#fbf0f0"/>
<rect x="46.55" y="453.25" width="24.55" height="4.09" fill="#f7d0d1"/>
<rect x="46.55" y="457.34" width="24.55" height="4.09" fill="#f5c0c2"/>
<rect x="46.55" y="461.43" width="24.55" height="4.09" fill="#f4b4b6"/>
<rect x="46.55" y="465.52" width="24.55" height="4.09" fill="#f4b8ba"/>
<rect x="46.55" y="469.61" width="24.55" height="4.09" fill="#f5c0c2"/>
<rect x="46.55" y="473.70" width="24.55" height="4.09" fill="#f6c8ca"/>
<rect x="46.55" y="477.79" width="24.55" height="4.09" fill="#fcf4f4"/>
<rect x="46.55" y="481.88" width="24.55" height="4.09" fill="#fae8e9"/>
<rect x="46.55" y="485.97" width="24.55" height="4.09" fill="#f6c8ca"/>
<rect x="46.55" y="490.06" width="24.55" height="4.09" fill="#f6c4c6"/>
<rect x="46.55" y="494.15" width="24.55" height="4.09" fill="#fcf6f6"/>
<rect x="46.55" y="498.24" width="24.55" height="4.09" fill="#f9e0e1"/>
<rect x="46.55" y="502.33" width="24.55" height="4.09" fill="#f6c8ca"/>
<rect x="46.55" y="506.42" width="24.55" height="4.09" fill="#eb6a6e"/>
<rect x="46.55" y="510.51" width="24.55" height="4.09" fill="#ec6e72"/>
<rect x="46.55" y="514.60" width="24.55" height="4.09" fill="#ee8084"/>
<rect x="46.55" y="518.69" width="24.55" height="4.09" fill="#f09093"/>
<rect x="46.55" y="522.78" width="24.55" height="4.09" fill="#f1989b"/>
<rect x="46.55" y="526.87" width="24.55" height="4.09" fill="#f2a0a3"/>
<rect x="46.55" y="530.96" width="24.55" height="4.09" fill="#f2a0a3"/>
<rect x="46.55" y="535.05" width="24.55" height="4.09" fill="#f2a4a7"/>
<rect x="46.55" y="539.14" width="24.55" height="4.09" fill="#ec7074"/>
<rect x="46.55" y="543.23" width="24.55" height="4.09" fill="#ed7c80"/>
<rect x="46.55" y="547.32" width="24.55" height="4.09" fill="#ee8488"/>
<rect x="46.55" y="551.41" width="24.55" height="4.09" fill="#ef888c"/>
<rect x="46.55" y="555.50" width="24.55" height="4.09" fill="#ee8084"/>
<rect x="46.55" y="559.59" width="24.55" height="4.09" fill="#ec7074"/>
<rect x="46.55" y="563.68" width="24.55" height="4.09" fill="#eb6c70"/>
<rect x="46.55" y="567.77" width="24.55" height="4.09" fill="#e85459"/>
<rect x="46.55" y="571.86" width="24.55" height="4.09" fill="#e9585d"/>
<rect x="46.55" y="575.95" width="24.55" height="4.09" fill="#f4b0b2"/>
<rect x="46.55" y="580.04" width="24.55" height="4.09" fill="#f3a8ab"/>
<rect x="46.55" y="584.13" width="24.55" height="4.09" fill="#ef888c"/>
<rect x="46.55" y="588.22" width="24.55" height="4.09" fill="#f19a9d"/>
<rect x="46.55" y="592.31" width="24.55" height="4.09" fill="#f2a0a3"/>
<rect x="46.55" y="596.40" width="24.55" height="4.09" fill="#fbf0f0"/>
<rect x="46.55" y="600.49" width="24.55" height="4.09" fill="#f9e0e1"/>
<rect x="46.55" y="604.58" width="24.55" height="4.09" fill="#f8d4d5"/>
<rect x="46.55" y="608.67" width="24.55" height="4.09" fill="#f8d8d9"/>
<rect x="46.55" y="612.76" width="24.55" height="4.09" fill="#f3a8ab"/>
<rect x="46.55" y="616.85" width="24.55" height="4.09" fill="#fbf0f0"/>
<rect x="46.55" y="620.94" width="24.55" height="4.09" fill="#f3a8ab"/>
<rect x="46.55" y="625.03" width="24.55" height="4.09" fill="#f4b0b2"/>
<rect x="46.55" y="629.12" width="24.55" height="4.09" fill="#f8d8d9"/>
<rect x="46.55" y="633.21" width="24.55" height="4.09" fill="#fae4e5"/>
<rect x="46.55" y="637.30" width="24.55" height="4.09" fill="#f9e0e1"/>
<rect x="46.55" y="641.39" width="24.55" height="4.09" fill="#fae8e9"/>
<rect x="46.55" y="645.48" width="24.55" height="4.09" fill="#fae4e5"/>
<rect x="46.55" y="649.57" width="24.55" height="4.09" fill="#fae4e5"/>
<rect x="46.55" y="653.66" width="24.55" height="4.09" fill="#fae8e9"/>
<rect x="46.55" y="657.75" width="24.55" height="4.09" fill="#eeeef5"/>
<rect x="46.55" y="661.84" width="24.55" height="4.09" fill="#e0e0ef"/>
<rect x="46.55" y="665.93" width="24.55" height="4.09" fill="#fbf0f0"/>
<rect x="46.55" y="670.02" width="24.55" height="4.09" fill="#fbf0f0"/>
<rect x="46.55" y="674.11" width="24.55" height="4.09" fill="#fbf0f0"/>
<rect x="46.55" y="678.20" width="24.55" height="4.09" fill="#fae4e5"/>
<rect x="46.55" y="682.29" width="24.55" height="4.09" fill="#fae8e9"/>
<rect x="46.55" y="686.38" width="24.55" height="4.09" fill="#f9e0e1"/>
<rect x="46.55" y="690.47" width="24.55" height="4.09" fill="#f4f4f7"/>
<rect x="46.55" y="694.56" width="24.55" height="4.09" fill="#fae4e5"/>
<rect x="46.55" y="698.65" width="24.55" height="4.09" fill="#f8d4d5"/>
<rect x="46.55" y="702.74" width="24.55" height="4.09" fill="#fcf4f4"/>
<rect x="46.55" y="706.83" width="24.55" height="4.09" fill="#ee8488"/>
<rect x="46.55" y="710.92" width="24.55" height="4.09" fill="#f9e0e1"/>
<rect x="46.55" y="715.01" width="24.55" height="4.09" fill="#f2a0a3"/>
<rect x="46.55" y="719.10" width="24.55" height="4.09" fill="#f2a4a7"/>
<rect x="46.55" y="723.19" width="24.55" height="4.09" fill="#f4b0b2"/>
<rect x="46.55" y="727.28" width="24.55" height="4.09" fill="#f6c8ca"/>
<rect x="46.55" y="731.37" width="24.55" height="4.09" fill="#f8d8d9"/>
<rect x="71.10" y="418.80" width="24.55" height="4.09" fill="#6060b3"/>
<rect x="71.10" y="422.89" width="24.55" height="4.09" fill="#a0a0d3"/>
<rect x="71.10" y="426.98" width="24.55" height="4.09" fill="#9898d0"/>
<rect x="71.10" y="432.80" width="24.55" height="4.09" fill="#fcf4f4"/>
<rect x="71.10" y="436.89" width="24.55" height="4.09" fill="#fcf8f8"/>
<rect x="71.10" y="440.98" width="24.55" height="4.09" fill="#fcf8f8"/>
<rect x="71.10" y="445.07" width="24.55" height="4.09" fill="#fae4e5"/>
<rect x="71.10" y="449.16" width="24.55" height="4.09" fill="#f1989b"/>
<rect x="71.10" y="453.25" width="24.55" height="4.09" fill="#e9555a"/>
<rect x="71.10" y="457.34" width="24.55" height="4.09" fill="#f1989b"/>
<rect x="71.10" y="461.43" width="24.55" height="4.09" fill="#f2a0a3"/>
<rect x="71.10" y="465.52" width="24.55" height="4.09" fill="#f2a4a7"/>
<rect x="71.10" y="469.61" width="24.55" height="4.09" fill="#f2a0a3"/>
<rect x="71.10" y="473.70" width="24.55" height="4.09" fill="#f09093"/>
<rect x="71.10" y="477.79" width="24.55" height="4.09" fill="#f2a0a3"/>
<rect x="71.10" y="481.88" width="24.55" height="4.09" fill="#ed787c"/>
<rect x="71.10" y="485.97" width="24.55" height="4.09" fill="#f4b0b2"/>
<rect x="71.10" y="490.06" width="24.55" height="4.09" fill="#e9585d"/>
<rect x="71.10" y="494.15" width="24.55" height="4.09" fill="#e7464c"/>
<rect x="71.10" y="498.24" width="24.55" height="4.09" fill="#e74a4f"/>
<rect x="71.10" y="502.33" width="24.55" height="4.09" fill="#e9565b"/>
<rect x="71.10" y="506.42" width="24.55" height="4.09" fill="#fcf4f4"/>
<rect x="71.10" y="510.51" width="24.55" height="4.09" fill="#f4b0b2"/>
<rect x="71.10" y="514.60" width="24.55" height="4.09" fill="#f2a4a7"/>
<rect x="71.10" y="518.69" width="24.55" height="4.09" fill="#f3acae"/>
<rect x="71.10" y="522.78" width="24.55" height="4.09" fill="#f8d4d5"/>
<rect x="71.10" y="526.87" width="24.55" height="4.09" fill="#f8d8d9"/>
<rect x="71.10" y="530.96" width="24.55" height="4.09" fill="#f6c8ca"/>
<rect x="71.10" y="535.05" width="24.55" height="4.09" fill="#f8d4d5"/>
<rect x="71.10" y="539.14" width="24.55" height="4.09" fill="#fbf0f0"/>
<rect x="71.10" y="543.23" width="24.55" height="4.09" fill="#fcf4f4"/>
<rect x="71.10" y="547.32" width="24.55" height="4.09" fill="#fae4e5"/>
<rect x="71.10" y="551.41" width="24.55" height="4.09" fill="#f7d0d1"/>
<rect x="71.10" y="555.50" width="24.55" height="4.09" fill="#f5c0c2"/>
<rect x="71.10" y="559.59" width="24.55" height="4.09" fill="#fbeeef"/>
<rect x="71.10" y="563.68" width="24.55" height="4.09" fill="#ef888c"/>
<rect x="71.10" y="567.77" width="24.55" height="4.09" fill="#f3a8ab"/>
<rect x="71.10" y="571.86" width="24.55" height="4.09" fill="#f2a4a7"/>
<rect x="71.10" y="575.95" width="24.55" height="4.09" fill="#fcf8f8"/>
<rect x="71.10" y="580.04" width="24.55" height="4.09" fill="#fcf4f4"/>
<rect x="71.10" y="584.13" width="24.55" height="4.09" fill="#e8e8f2"/>
<rect x="71.10" y="588.22" width="24.55" height="4.09" fill="#f2a0a3"/>
<rect x="71.10" y="592.31" width="24.55" height="4.09" fill="#fae4e5"/>
<rect x="71.10" y="596.40" width="24.55" height="4.09" fill="#f3a8ab"/>
<rect x="71.10" y="600.49" width="24.55" height="4.09" fill="#f19a9d"/>
<rect x="71.10" y="604.58" width="24.55" height="4.09" fill="#f2a0a3"/>
<rect x="71.10" y="608.67" width="24.55" height="4.09" fill="#ef888c"/>
<rect x="71.10" y="612.76" width="24.55" height="4.09" fill="#fbf0f0"/>
<rect x="71.10" y="616.85" width="24.55" height="4.09" fill="#fae8e9"/>
<rect x="71.10" y="620.94" width="24.55" height="4.09" fill="#f5c0c2"/>
<rect x="71.10" y="625.03" width="24.55" height="4.09" fill="#e4e4f1"/>
<rect x="71.10" y="629.12" width="24.55" height="4.09" fill="#f0f0f5"/>
<rect x="71.10" y="633.21" width="24.55" height="4.09" fill="#eb666b"/>
<rect x="71.10" y="637.30" width="24.55" height="4.09" fill="#eb6a6e"/>
<rect x="71.10" y="641.39" width="24.55" height="4.09" fill="#e85257"/>
<rect x="71.10" y="645.48" width="24.55" height="4.09" fill="#e95c61"/>
<rect x="71.10" y="649.57" width="24.55" height="4.09" fill="#ea6469"/>
<rect x="71.10" y="653.66" width="24.55" height="4.09" fill="#eb666b"/>
<rect x="71.10" y="657.75" width="24.55" height="4.09" fill="#eb686d"/>
<rect x="71.10" y="661.84" width="24.55" height="4.09" fill="#eb6c70"/>
<rect x="71.10" y="665.93" width="24.55" height="4.09" fill="#ec7478"/>
<rect x="71.10" y="670.02" width="24.55" height="4.09" fill="#ec7478"/>
<rect x="71.10" y="674.11" width="24.55" height="4.09" fill="#eb6c70"/>
<rect x="71.10" y="678.20" width="24.55" height="4.09" fill="#e85257"/>
<rect x="71.10" y="682.29" width="24.55" height="4.09" fill="#e84c51"/>
<rect x="71.10" y="686.38" width="24.55" height="4.09" fill="#e85257"/>
<rect x="71.10" y="690.47" width="24.55" height="4.09" fill="#e95a5f"/>
<rect x="71.10" y="694.56" width="24.55" height="4.09" fill="#ea6469"/>
<rect x="71.10" y="698.65" width="24.55" height="4.09" fill="#eb6c70"/>
<rect x="71.10" y="702.74" width="24.55" height="4.09" fill="#eb686d"/>
<rect x="71.10" y="706.83" width="24.55" height="4.09" fill="#e7484d"/>
<rect x="71.10" y="710.92" width="24.55" height="4.09" fill="#e84c51"/>
<rect x="71.10" y="715.01" width="24.55" height="4.09" fill="#ed7c80"/>
<rect x="71.10" y="719.10" width="24.55" height="4.09" fill="#ee8488"/>
<rect x="71.10" y="723.19" width="24.55" height="4.09" fill="#ed7c80"/>
<rect x="71.10" y="727.28" width="24.55" height="4.09" fill="#ee8084"/>
<rect x="71.10" y="731.37" width="24.55" height="4.09" fill="#ee8488"/>
<rect x="95.65" y="418.80" width="24.55" height="4.09" fill="#6a6ab8"/>
<rect x="95.65" y="422.89" width="24.55" height="4.09" fill="#6464b5"/>
<rect x="95.65" y="426.98" width="24.55" height="4.09" fill="#6868b7"/>
<rect x="95.65" y="432.80" width="24.55" height="4.09" fill="#e95a5f"/>
<rect x="95.65" y="436.89" width="24.55" height="4.09" fill="#e95a5f"/>
<rect x="95.65" y="440.98" width="24.55" height="4.09" fill="#e5383e"/>
<rect x="95.65" y="445.07" width="24.55" height="4.09" fill="#ec7074"/>
<rect x="95.65" y="449.16" width="24.55" height="4.09" fill="#ee8084"/>
<rect x="95.65" y="453.25" width="24.55" height="4.09" fill="#ee8084"/>
<rect x="95.65" y="457.34" width="24.55" height="4.09" fill="#f6c4c6"/>
<rect x="95.65" y="461.43" width="24.55" height="4.09" fill="#f4b0b2"/>
<rect x="95.65" y="465.52" width="24.55" height="4.09" fill="#f9e0e1"/>
<rect x="95.65" y="469.61" width="24.55" height="4.09" fill="#f6c8ca"/>
<rect x="95.65" y="473.70" width="24.55" height="4.09" fill="#f5c0c2"/>
<rect x="95.65" y="477.79" width="24.55" height="4.09" fill="#ee8084"/>
<rect x="95.65" y="481.88" width="24.55" height="4.09" fill="#ef888c"/>
<rect x="95.65" y="485.97" width="24.55" height="4.09" fill="#ed787c"/>
<rect x="95.65" y="490.06" width="24.55" height="4.09" fill="#f6c8ca"/>
<rect x="95.65" y="494.15" width="24.55" height="4.09" fill="#f5c0c2"/>
<rect x="95.65" y="498.24" width="24.55" height="4.09" fill="#f6c4c6"/>
<rect x="95.65" y="502.33" width="24.55" height="4.09" fill="#f6c8ca"/>
<rect x="95.65" y="506.42" width="24.55" height="4.09" fill="#f6c8ca"/>
<rect x="95.65" y="510.51" width="24.55" height="4.09" fill="#f7ccce"/>
<rect x="95.65" y="514.60" width="24.55" height="4.09" fill="#f7d0d1"/>
<rect x="95.65" y="518.69" width="24.55" height="4.09" fill="#f8d4d5"/>
<rect x="95.65" y="522.78" width="24.55" height="4.09" fill="#f4b8ba"/>
<rect x="95.65" y="526.87" width="24.55" height="4.09" fill="#f4b4b6"/>
<rect x="95.65" y="530.96" width="24.55" height="4.09" fill="#f5c0c2"/>
<rect x="95.65" y="535.05" width="24.55" height="4.09" fill="#f6c4c6"/>
<rect x="95.65" y="539.14" width="24.55" height="4.09" fill="#f5c0c2"/>
<rect x="95.65" y="543.23" width="24.55" height="4.09" fill="#f6c8ca"/>
<rect x="95.65" y="547.32" width="24.55" height="4.09" fill="#f6c4c6"/>
<rect x="95.65" y="551.41" width="24.55" height="4.09" fill="#f6c8ca"/>
<rect x="95.65" y="555.50" width="24.55" height="4.09" fill="#f6c8ca"/>
<rect x="95.65" y="559.59" width="24.55" height="4.09" fill="#f4b8ba"/>
<rect x="95.65" y="563.68" width="24.55" height="4.09" fill="#ef888c"/>
<rect x="95.65" y="567.77" width="24.55" height="4.09" fill="#f19a9d"/>
<rect x="95.65" y="571.86" width="24.55" height="4.09" fill="#f2a0a3"/>
<rect x="95.65" y="575.95" width="24.55" height="4.09" fill="#e9585d"/>
<rect x="95.65" y="580.04" width="24.55" height="4.09" fill="#ec7478"/>
<rect x="95.65" y="584.13" width="24.55" height="4.09" fill="#eb6c70"/>
<rect x="95.65" y="588.22" width="24.55" height="4.09" fill="#e95a5f"/>
<rect x="95.65" y="592.31" width="24.55" height="4.09" fill="#e85257"/>
<rect x="95.65" y="596.40" width="24.55" height="4.09" fill="#e7484d"/>
<rect x="95.65" y="600.49" width="24.55" height="4.09" fill="#e85055"/>
<rect x="95.65" y="604.58" width="24.55" height="4.09" fill="#e9565b"/>
<rect x="95.65" y="608.67" width="24.55" height="4.09" fill="#e95a5f"/>
<rect x="95.65" y="612.76" width="24.55" height="4.09" fill="#e3242b"/>
<rect x="95.65" y="616.85" width="24.55" height="4.09" fill="#e21c23"/>
<rect x="95.65" y="620.94" width="24.55" height="4.09" fill="#e53a40"/>
<rect x="95.65" y="625.03" width="24.55" height="4.09" fill="#e84e53"/>
<rect x="95.65" y="629.12" width="24.55" height="4.09" fill="#e53a40"/>
<rect x="95.65" y="633.21" width="24.55" height="4.09" fill="#e95a5f"/>
<rect x="95.65" y="637.30" width="24.55" height="4.09" fill="#ea5e63"/>
<rect x="95.65" y="641.39" width="24.55" height="4.09" fill="#ee8084"/>
<rect x="95.65" y="645.48" width="24.55" height="4.09" fill="#ea5e63"/>
<rect x="95.65" y="649.57" width="24.55" height="4.09" fill="#e95a5f"/>
<rect x="95.65" y="653.66" width="24.55" height="4.09" fill="#eb666b"/>
<rect x="95.65" y="657.75" width="24.55" height="4.09" fill="#eb686d"/>
<rect x="95.65" y="661.84" width="24.55" height="4.09" fill="#ea6469"/>
<rect x="95.65" y="665.93" width="24.55" height="4.09" fill="#e9565b"/>
<rect x="95.65" y="670.02" width="24.55" height="4.09" fill="#e95a5f"/>
<rect x="95.65" y="674.11" width="24.55" height="4.09" fill="#ea5e63"/>
<rect x="95.65" y="678.20" width="24.55" height="4.09" fill="#ee8488"/>
<rect x="95.65" y="682.29" width="24.55" height="4.09" fill="#ee8084"/>
<rect x="95.65" y="686.38" width="24.55" height="4.09" fill="#eb6c70"/>
<rect x="95.65" y="690.47" width="24.55" height="4.09" fill="#e95a5f"/>
<rect x="95.65" y="694.56" width="24.55" height="4.09" fill="#e9585d"/>
<rect x="95.65" y="698.65" width="24.55" height="4.09" fill="#e95a5f"/>
<rect x="95.65" y="702.74" width="24.55" height="4.09" fill="#e95c61"/>
<rect x="95.65" y="706.83" width="24.55" height="4.09" fill="#f5c0c2"/>
<rect x="95.65" y="710.92" width="24.55" height="4.09" fill="#f3a8ab"/>
<rect x="95.65" y="715.01" width="24.55" height="4.09" fill="#e9585d"/>
<rect x="95.65" y="719.10" width="24.55" height="4.09" fill="#e9565b"/>
<rect x="95.65" y="723.19" width="24.55" height="4.09" fill="#e95a5f"/>
<rect x="95.65" y="727.28" width="24.55" height="4.09" fill="#e9585d"/>
<rect x="95.65" y="731.37" width="24.55" height="4.09" fill="#e95a5f"/>
<rect x="122.50" y="418.80" width="24.55" height="4.09" fill="#e9585d"/>
<rect x="122.50" y="422.89" width="24.55" height="4.09" fill="#fae4e5"/>
<rect x="122.50" y="426.98" width="24.55" height="4.09" fill="#f5c0c2"/>
<rect x="122.50" y="432.80" width="24.55" height="4.09" fill="#3c3c9e"/>
<rect x="122.50" y="436.89" width="24.55" height="4.09" fill="#4848a5"/>
<rect x="122.50" y="440.98" width="24.55" height="4.09" fill="#9898d0"/>
<rect x="122.50" y="445.07" width="24.55" height="4.09" fill="#7070bb"/>
<rect x="122.50" y="449.16" width="24.55" height="4.09" fill="#c0c0e2"/>
<rect x="122.50" y="453.25" width="24.55" height="4.09" fill="#b8b8de"/>
<rect x="122.50" y="457.34" width="24.55" height="4.09" fill="#8c8cca"/>
<rect x="122.50" y="461.43" width="24.55" height="4.09" fill="#9090cc"/>
<rect x="122.50" y="465.52" width="24.55" height="4.09" fill="#8c8cca"/>
<rect x="122.50" y="469.61" width="24.55" height="4.09" fill="#8c8cca"/>
<rect x="122.50" y="473.70" width="24.55" height="4.09" fill="#8888c8"/>
<rect x="122.50" y="477.79" width="24.55" height="4.09" fill="#7c7cc2"/>
<rect x="122.50" y="481.88" width="24.55" height="4.09" fill="#7878c0"/>
<rect x="122.50" y="485.97" width="24.55" height="4.09" fill="#7474be"/>
<rect x="122.50" y="490.06" width="24.55" height="4.09" fill="#9c9cd2"/>
<rect x="122.50" y="494.15" width="24.55" height="4.09" fill="#9494ce"/>
<rect x="122.50" y="498.24" width="24.55" height="4.09" fill="#9090cc"/>
<rect x="122.50" y="502.33" width="24.55" height="4.09" fill="#8c8cca"/>
<rect x="122.50" y="506.42" width="24.55" height="4.09" fill="#3c3c9e"/>
<rect x="122.50" y="510.51" width="24.55" height="4.09" fill="#a0a0d3"/>
<rect x="122.50" y="514.60" width="24.55" height="4.09" fill="#9c9cd2"/>
<rect x="122.50" y="518.69" width="24.55" height="4.09" fill="#a0a0d3"/>
<rect x="122.50" y="522.78" width="24.55" height="4.09" fill="#a8a8d7"/>
<rect x="122.50" y="526.87" width="24.55" height="4.09" fill="#7c7cc2"/>
<rect x="122.50" y="530.96" width="24.55" height="4.09" fill="#9090cc"/>
<rect x="122.50" y="535.05" width="24.55" height="4.09" fill="#9494ce"/>
<rect x="122.50" y="539.14" width="24.55" height="4.09" fill="#9494ce"/>
<rect x="122.50" y="543.23" width="24.55" height="4.09" fill="#9898d0"/>
<rect x="122.50" y="547.32" width="24.55" height="4.09" fill="#9c9cd2"/>
<rect x="122.50" y="551.41" width="24.55" height="4.09" fill="#a0a0d3"/>
<rect x="122.50" y="555.50" width="24.55" height="4.09" fill="#9494ce"/>
<rect x="122.50" y="559.59" width="24.55" height="4.09" fill="#a8a8d7"/>
<rect x="122.50" y="563.68" width="24.55" height="4.09" fill="#7878c0"/>
<rect x="122.50" y="567.77" width="24.55" height="4.09" fill="#7c7cc2"/>
<rect x="122.50" y="571.86" width="24.55" height="4.09" fill="#8888c8"/>
<rect x="122.50" y="575.95" width="24.55" height="4.09" fill="#4848a5"/>
<rect x="122.50" y="580.04" width="24.55" height="4.09" fill="#6868b7"/>
<rect x="122.50" y="584.13" width="24.55" height="4.09" fill="#6c6cb9"/>
<rect x="122.50" y="588.22" width="24.55" height="4.09" fill="#c4c4e4"/>
<rect x="122.50" y="592.31" width="24.55" height="4.09" fill="#8c8cca"/>
<rect x="122.50" y="596.40" width="24.55" height="4.09" fill="#4848a5"/>
<rect x="122.50" y="600.49" width="24.55" height="4.09" fill="#7474be"/>
<rect x="122.50" y="604.58" width="24.55" height="4.09" fill="#6c6cb9"/>
<rect x="122.50" y="608.67" width="24.55" height="4.09" fill="#7070bb"/>
<rect x="122.50" y="612.76" width="24.55" height="4.09" fill="#a8a8d7"/>
<rect x="122.50" y="616.85" width="24.55" height="4.09" fill="#9090cc"/>
<rect x="122.50" y="620.94" width="24.55" height="4.09" fill="#6868b7"/>
<rect x="122.50" y="625.03" width="24.55" height="4.09" fill="#7070bb"/>
<rect x="122.50" y="629.12" width="24.55" height="4.09" fill="#6060b3"/>
<rect x="122.50" y="633.21" width="24.55" height="4.09" fill="#6868b7"/>
<rect x="122.50" y="637.30" width="24.55" height="4.09" fill="#5c5cb1"/>
<rect x="122.50" y="641.39" width="24.55" height="4.09" fill="#2c2c95"/>
<rect x="122.50" y="645.48" width="24.55" height="4.09" fill="#303097"/>
<rect x="122.50" y="649.57" width="24.55" height="4.09" fill="#2c2c95"/>
<rect x="122.50" y="653.66" width="24.55" height="4.09" fill="#303097"/>
<rect x="122.50" y="657.75" width="24.55" height="4.09" fill="#38389c"/>
<rect x="122.50" y="661.84" width="24.55" height="4.09" fill="#4444a3"/>
<rect x="122.50" y="665.93" width="24.55" height="4.09" fill="#4040a1"/>
<rect x="122.50" y="670.02" width="24.55" height="4.09" fill="#4444a3"/>
<rect x="122.50" y="674.11" width="24.55" height="4.09" fill="#3c3c9e"/>
<rect x="122.50" y="678.20" width="24.55" height="4.09" fill="#4040a1"/>
<rect x="122.50" y="682.29" width="24.55" height="4.09" fill="#38389c"/>
<rect x="122.50" y="686.38" width="24.55" height="4.09" fill="#4a4aa7"/>
<rect x="122.50" y="690.47" width="24.55" height="4.09" fill="#5c5cb1"/>
<rect x="122.50" y="694.56" width="24.55" height="4.09" fill="#5454ac"/>
<rect x="122.50" y="698.65" width="24.55" height="4.09" fill="#4c4ca8"/>
<rect x="122.50" y="702.74" width="24.55" height="4.09" fill="#4040a1"/>
<rect x="122.50" y="706.83" width="24.55" height="4.09" fill="#9c9cd2"/>
<rect x="122.50" y="710.92" width="24.55" height="4.09" fill="#a0a0d3"/>
<rect x="122.50" y="715.01" width="24.55" height="4.09" fill="#7070bb"/>
<rect x="122.50" y="719.10" width="24.55" height="4.09" fill="#7474be"/>
<rect x="122.50" y="723.19" width="24.55" height="4.09" fill="#8c8cca"/>
<rect x="122.50" y="727.28" width="24.55" height="4.09" fill="#9c9cd2"/>
<rect x="122.50" y="731.37" width="24.55" height="4.09" fill="#9090cc"/>
<rect x="147.05" y="418.80" width="24.55" height="4.09" fill="#ee8084"/>
<rect x="147.05" y="422.89" width="24.55" height="4.09" fill="#eb6c70"/>
<rect x="147.05" y="426.98" width="24.55" height="4.09" fill="#e95c61"/>
<rect x="147.05" y="432.80" width="24.55" height="4.09" fill="#a0a0d3"/>
<rect x="147.05" y="436.89" width="24.55" height="4.09" fill="#9c9cd2"/>
<rect x="147.05" y="440.98" width="24.55" height="4.09" fill="#c4c4e4"/>
<rect x="147.05" y="445.07" width="24.55" height="4.09" fill="#d8d8ec"/>
<rect x="147.05" y="449.16" width="24.55" height="4.09" fill="#f4f4f7"/>
<rect x="147.05" y="453.25" width="24.55" height="4.09" fill="#f0f0f5"/>
<rect x="147.05" y="457.34" width="24.55" height="4.09" fill="#4040a1"/>
<rect x="147.05" y="461.43" width="24.55" height="4.09" fill="#4848a5"/>
<rect x="147.05" y="465.52" width="24.55" height="4.09" fill="#5858ae"/>
<rect x="147.05" y="469.61" width="24.55" height="4.09" fill="#6060b3"/>
<rect x="147.05" y="473.70" width="24.55" height="4.09" fill="#6464b5"/>
<rect x="147.05" y="477.79" width="24.55" height="4.09" fill="#4444a3"/>
<rect x="147.05" y="481.88" width="24.55" height="4.09" fill="#5c5cb1"/>
<rect x="147.05" y="485.97" width="24.55" height="4.09" fill="#5858ae"/>
<rect x="147.05" y="490.06" width="24.55" height="4.09" fill="#6c6cb9"/>
<rect x="147.05" y="494.15" width="24.55" height="4.09" fill="#5c5cb1"/>
<rect x="147.05" y="498.24" width="24.55" height="4.09" fill="#6464b5"/>
<rect x="147.05" y="502.33" width="24.55" height="4.09" fill="#5858ae"/>
<rect x="147.05" y="506.42" width="24.55" height="4.09" fill="#a8a8d7"/>
<rect x="147.05" y="510.51" width="24.55" height="4.09" fill="#6868b7"/>
<rect x="147.05" y="514.60" width="24.55" height="4.09" fill="#5c5cb1"/>
<rect x="147.05" y="518.69" width="24.55" height="4.09" fill="#7070bb"/>
<rect x="147.05" y="522.78" width="24.55" height="4.09" fill="#3c3c9e"/>
<rect x="147.05" y="526.87" width="24.55" height="4.09" fill="#6060b3"/>
<rect x="147.05" y="530.96" width="24.55" height="4.09" fill="#5c5cb1"/>
<rect x="147.05" y="535.05" width="24.55" height="4.09" fill="#6464b5"/>
<rect x="147.05" y="539.14" width="24.55" height="4.09" fill="#6060b3"/>
<rect x="147.05" y="543.23" width="24.55" height="4.09" fill="#6868b7"/>
<rect x="147.05" y="547.32" width="24.55" height="4.09" fill="#6464b5"/>
<rect x="147.05" y="551.41" width="24.55" height="4.09" fill="#6868b7"/>
<rect x="147.05" y="555.50" width="24.55" height="4.09" fill="#6c6cb9"/>
<rect x="147.05" y="559.59" width="24.55" height="4.09" fill="#6868b7"/>
<rect x="147.05" y="563.68" width="24.55" height="4.09" fill="#7070bb"/>
<rect x="147.05" y="567.77" width="24.55" height="4.09" fill="#5858ae"/>
<rect x="147.05" y="571.86" width="24.55" height="4.09" fill="#5050aa"/>
<rect x="147.05" y="575.95" width="24.55" height="4.09" fill="#5454ac"/>
<rect x="147.05" y="580.04" width="24.55" height="4.09" fill="#4444a3"/>
<rect x="147.05" y="584.13" width="24.55" height="4.09" fill="#5858ae"/>
<rect x="147.05" y="588.22" width="24.55" height="4.09" fill="#8080c4"/>
<rect x="147.05" y="592.31" width="24.55" height="4.09" fill="#8484c6"/>
<rect x="147.05" y="596.40" width="24.55" height="4.09" fill="#8080c4"/>
<rect x="147.05" y="600.49" width="24.55" height="4.09" fill="#6060b3"/>
<rect x="147.05" y="604.58" width="24.55" height="4.09" fill="#5858ae"/>
<rect x="147.05" y="608.67" width="24.55" height="4.09" fill="#5c5cb1"/>
<rect x="147.05" y="612.76" width="24.55" height="4.09" fill="#6464b5"/>
<rect x="147.05" y="616.85" width="24.55" height="4.09" fill="#5c5cb1"/>
<rect x="147.05" y="620.94" width="24.55" height="4.09" fill="#5858ae"/>
<rect x="147.05" y="625.03" width="24.55" height="4.09" fill="#4848a5"/>
<rect x="147.05" y="629.12" width="24.55" height="4.09" fill="#8080c4"/>
<rect x="147.05" y="633.21" width="24.55" height="4.09" fill="#8888c8"/>
<rect x="147.05" y="637.30" width="24.55" height="4.09" fill="#5858ae"/>
<rect x="147.05" y="641.39" width="24.55" height="4.09" fill="#b0b0db"/>
<rect x="147.05" y="645.48" width="24.55" height="4.09" fill="#9090cc"/>
<rect x="147.05" y="649.57" width="24.55" height="4.09" fill="#9494ce"/>
<rect x="147.05" y="653.66" width="24.55" height="4.09" fill="#9c9cd2"/>
<rect x="147.05" y="657.75" width="24.55" height="4.09" fill="#a0a0d3"/>
<rect x="147.05" y="661.84" width="24.55" height="4.09" fill="#6c6cb9"/>
<rect x="147.05" y="665.93" width="24.55" height="4.09" fill="#6464b5"/>
<rect x="147.05" y="670.02" width="24.55" height="4.09" fill="#6868b7"/>
<rect x="147.05" y="674.11" width="24.55" height="4.09" fill="#6c6cb9"/>
<rect x="147.05" y="678.20" width="24.55" height="4.09" fill="#7070bb"/>
<rect x="147.05" y="682.29" width="24.55" height="4.09" fill="#7474be"/>
<rect x="147.05" y="686.38" width="24.55" height="4.09" fill="#7070bb"/>
<rect x="147.05" y="690.47" width="24.55" height="4.09" fill="#4c4ca8"/>
<rect x="147.05" y="694.56" width="24.55" height="4.09" fill="#5454ac"/>
<rect x="147.05" y="698.65" width="24.55" height="4.09" fill="#5858ae"/>
<rect x="147.05" y="702.74" width="24.55" height="4.09" fill="#6060b3"/>
<rect x="147.05" y="706.83" width="24.55" height="4.09" fill="#4040a1"/>
<rect x="147.05" y="710.92" width="24.55" height="4.09" fill="#4848a5"/>
<rect x="147.05" y="715.01" width="24.55" height="4.09" fill="#5050aa"/>
<rect x="147.05" y="719.10" width="24.55" height="4.09" fill="#4848a5"/>
<rect x="147.05" y="723.19" width="24.55" height="4.09" fill="#5050aa"/>
<rect x="147.05" y="727.28" width="24.55" height="4.09" fill="#38389c"/>
<rect x="147.05" y="731.37" width="24.55" height="4.09" fill="#4040a1"/>
<rect x="171.60" y="418.80" width="24.55" height="4.09" fill="#ee8488"/>
<rect x="171.60" y="422.89" width="24.55" height="4.09" fill="#e9565b"/>
<rect x="171.60" y="426.98" width="24.55" height="4.09" fill="#f09093"/>
<rect x="171.60" y="432.80" width="24.55" height="4.09" fill="#a4a4d5"/>
<rect x="171.60" y="436.89" width="24.55" height="4.09" fill="#a0a0d3"/>
<rect x="171.60" y="440.98" width="24.55" height="4.09" fill="#4444a3"/>
<rect x="171.60" y="445.07" width="24.55" height="4.09" fill="#4848a5"/>
<rect x="171.60" y="449.16" width="24.55" height="4.09" fill="#6060b3"/>
<rect x="171.60" y="453.25" width="24.55" height="4.09" fill="#38389c"/>
<rect x="171.60" y="457.34" width="24.55" height="4.09" fill="#fcf4f4"/>
<rect x="171.60" y="461.43" width="24.55" height="4.09" fill="#fcf4f4"/>
<rect x="171.60" y="465.52" width="24.55" height="4.09" fill="#fae8e9"/>
<rect x="171.60" y="469.61" width="24.55" height="4.09" fill="#fbf0f0"/>
<rect x="171.60" y="473.70" width="24.55" height="4.09" fill="#fae4e5"/>
<rect x="171.60" y="477.79" width="24.55" height="4.09" fill="#f8d8d9"/>
<rect x="171.60" y="481.88" width="24.55" height="4.09" fill="#fae4e5"/>
<rect x="171.60" y="485.97" width="24.55" height="4.09" fill="#fae8e9"/>
<rect x="171.60" y="490.06" width="24.55" height="4.09" fill="#f8d4d5"/>
<rect x="171.60" y="494.15" width="24.55" height="4.09" fill="#fae4e5"/>
<rect x="171.60" y="498.24" width="24.55" height="4.09" fill="#fbf0f0"/>
<rect x="171.60" y="502.33" width="24.55" height="4.09" fill="#fbf0f0"/>
<rect x="171.60" y="506.42" width="24.55" height="4.09" fill="#f7d0d1"/>
<rect x="171.60" y="510.51" width="24.55" height="4.09" fill="#ececf4"/>
<rect x="171.60" y="514.60" width="24.55" height="4.09" fill="#e8e8f2"/>
<rect x="171.60" y="518.69" width="24.55" height="4.09" fill="#f4f4f7"/>
<rect x="171.60" y="522.78" width="24.55" height="4.09" fill="#fcf4f4"/>
<rect x="171.60" y="526.87" width="24.55" height="4.09" fill="#fcf4f4"/>
<rect x="171.60" y="530.96" width="24.55" height="4.09" fill="#fcf4f4"/>
<rect x="171.60" y="535.05" width="24.55" height="4.09" fill="#fcf4f4"/>
<rect x="171.60" y="539.14" width="24.55" height="4.09" fill="#fcf4f4"/>
<rect x="171.60" y="543.23" width="24.55" height="4.09" fill="#fcf4f4"/>
<rect x="171.60" y="547.32" width="24.55" height="4.09" fill="#fcf4f4"/>
<rect x="171.60" y="551.41" width="24.55" height="4.09" fill="#f4f4f7"/>
<rect x="171.60" y="555.50" width="24.55" height="4.09" fill="#c8c8e5"/>
<rect x="171.60" y="559.59" width="24.55" height="4.09" fill="#b8b8de"/>
<rect x="171.60" y="563.68" width="24.55" height="4.09" fill="#fcf4f4"/>
<rect x="171.60" y="567.77" width="24.55" height="4.09" fill="#f6c8ca"/>
<rect x="171.60" y="571.86" width="24.55" height="4.09" fill="#f7ccce"/>
<rect x="171.60" y="575.95" width="24.55" height="4.09" fill="#f0f0f5"/>
<rect x="171.60" y="580.04" width="24.55" height="4.09" fill="#f6c4c6"/>
<rect x="171.60" y="584.13" width="24.55" height="4.09" fill="#fbf0f0"/>
<rect x="171.60" y="588.22" width="24.55" height="4.09" fill="#d8d8ec"/>
<rect x="171.60" y="592.31" width="24.55" height="4.09" fill="#b4b4dd"/>
<rect x="171.60" y="596.40" width="24.55" height="4.09" fill="#b8b8de"/>
<rect x="171.60" y="600.49" width="24.55" height="4.09" fill="#f2f2f6"/>
<rect x="171.60" y="604.58" width="24.55" height="4.09" fill="#e0e0ef"/>
<rect x="171.60" y="608.67" width="24.55" height="4.09" fill="#d4d4ea"/>
<rect x="171.60" y="612.76" width="24.55" height="4.09" fill="#a4a4d5"/>
<rect x="171.60" y="616.85" width="24.55" height="4.09" fill="#f2f2f6"/>
<rect x="171.60" y="620.94" width="24.55" height="4.09" fill="#b0b0db"/>
<rect x="171.60" y="625.03" width="24.55" height="4.09" fill="#b4b4dd"/>
<rect x="171.60" y="629.12" width="24.55" height="4.09" fill="#a8a8d7"/>
<rect x="171.60" y="633.21" width="24.55" height="4.09" fill="#6c6cb9"/>
<rect x="171.60" y="637.30" width="24.55" height="4.09" fill="#a0a0d3"/>
<rect x="171.60" y="641.39" width="24.55" height="4.09" fill="#a8a8d7"/>
<rect x="171.60" y="645.48" width="24.55" height="4.09" fill="#a4a4d5"/>
<rect x="171.60" y="649.57" width="24.55" height="4.09" fill="#a8a8d7"/>
<rect x="171.60" y="653.66" width="24.55" height="4.09" fill="#d0d0e9"/>
<rect x="171.60" y="657.75" width="24.55" height="4.09" fill="#b8b8de"/>
<rect x="171.60" y="661.84" width="24.55" height="4.09" fill="#fcf8f8"/>
<rect x="171.60" y="665.93" width="24.55" height="4.09" fill="#fcf4f4"/>
<rect x="171.60" y="670.02" width="24.55" height="4.09" fill="#f9e0e1"/>
<rect x="171.60" y="674.11" width="24.55" height="4.09" fill="#e0e0ef"/>
<rect x="171.60" y="678.20" width="24.55" height="4.09" fill="#f6c8ca"/>
<rect x="171.60" y="682.29" width="24.55" height="4.09" fill="#fbeced"/>
<rect x="171.60" y="686.38" width="24.55" height="4.09" fill="#f8d4d5"/>
<rect x="171.60" y="690.47" width="24.55" height="4.09" fill="#f9e0e1"/>
<rect x="171.60" y="694.56" width="24.55" height="4.09" fill="#fae8e9"/>
<rect x="171.60" y="698.65" width="24.55" height="4.09" fill="#d4d4ea"/>
<rect x="171.60" y="702.74" width="24.55" height="4.09" fill="#ececf4"/>
<rect x="171.60" y="706.83" width="24.55" height="4.09" fill="#f6c4c6"/>
<rect x="171.60" y="710.92" width="24.55" height="4.09" fill="#f6c8ca"/>
<rect x="171.60" y="715.01" width="24.55" height="4.09" fill="#f7ccce"/>
<rect x="171.60" y="719.10" width="24.55" height="4.09" fill="#f7d0d1"/>
<rect x="171.60" y="723.19" width="24.55" height="4.09" fill="#fae4e5"/>
<rect x="171.60" y="727.28" width="24.55" height="4.09" fill="#fbf0f0"/>
<rect x="171.60" y="731.37" width="24.55" height="4.09" fill="#fae4e5"/>
<rect x="196.15" y="418.80" width="24.55" height="4.09" fill="#fbf0f0"/>
<rect x="196.15" y="422.89" width="24.55" height="4.09" fill="#ee8488"/>
<rect x="196.15" y="426.98" width="24.55" height="4.09" fill="#ef888c"/>
<rect x="196.15" y="432.80" width="24.55" height="4.09" fill="#a8a8d7"/>
<rect x="196.15" y="436.89" width="24.55" height="4.09" fill="#8c8cca"/>
<rect x="196.15" y="440.98" width="24.55" height="4.09" fill="#8080c4"/>
<rect x="196.15" y="445.07" width="24.55" height="4.09" fill="#a0a0d3"/>
<rect x="196.15" y="449.16" width="24.55" height="4.09" fill="#3c3c9e"/>
<rect x="196.15" y="453.25" width="24.55" height="4.09" fill="#6868b7"/>
<rect x="196.15" y="457.34" width="24.55" height="4.09" fill="#a0a0d3"/>
<rect x="196.15" y="461.43" width="24.55" height="4.09" fill="#a4a4d5"/>
<rect x="196.15" y="465.52" width="24.55" height="4.09" fill="#a4a4d5"/>
<rect x="196.15" y="469.61" width="24.55" height="4.09" fill="#a8a8d7"/>
<rect x="196.15" y="473.70" width="24.55" height="4.09" fill="#a4a4d5"/>
<rect x="196.15" y="477.79" width="24.55" height="4.09" fill="#b0b0db"/>
<rect x="196.15" y="481.88" width="24.55" height="4.09" fill="#9494ce"/>
<rect x="196.15" y="485.97" width="24.55" height="4.09" fill="#9090cc"/>
<rect x="196.15" y="490.06" width="24.55" height="4.09" fill="#a0a0d3"/>
<rect x="196.15" y="494.15" width="24.55" height="4.09" fill="#a4a4d5"/>
<rect x="196.15" y="498.24" width="24.55" height="4.09" fill="#a8a8d7"/>
<rect x="196.15" y="502.33" width="24.55" height="4.09" fill="#a8a8d7"/>
<rect x="196.15" y="506.42" width="24.55" height="4.09" fill="#bcbce0"/>
<rect x="196.15" y="510.51" width="24.55" height="4.09" fill="#a4a4d5"/>
<rect x="196.15" y="514.60" width="24.55" height="4.09" fill="#a0a0d3"/>
<rect x="196.15" y="518.69" width="24.55" height="4.09" fill="#a4a4d5"/>
<rect x="196.15" y="522.78" width="24.55" height="4.09" fill="#a8a8d7"/>
<rect x="196.15" y="526.87" width="24.55" height="4.09" fill="#acacd9"/>
<rect x="196.15" y="530.96" width="24.55" height="4.09" fill="#a8a8d7"/>
<rect x="196.15" y="535.05" width="24.55" height="4.09" fill="#a8a8d7"/>
<rect x="196.15" y="539.14" width="24.55" height="4.09" fill="#acacd9"/>
<rect x="196.15" y="543.23" width="24.55" height="4.09" fill="#a8a8d7"/>
<rect x="196.15" y="547.32" width="24.55" height="4.09" fill="#a8a8d7"/>
<rect x="196.15" y="551.41" width="24.55" height="4.09" fill="#a4a4d5"/>
<rect x="196.15" y="555.50" width="24.55" height="4.09" fill="#a0a0d3"/>
<rect x="196.15" y="559.59" width="24.55" height="4.09" fill="#c0c0e2"/>
<rect x="196.15" y="563.68" width="24.55" height="4.09" fill="#8c8cca"/>
<rect x="196.15" y="567.77" width="24.55" height="4.09" fill="#8888c8"/>
<rect x="196.15" y="571.86" width="24.55" height="4.09" fill="#9090cc"/>
<rect x="196.15" y="575.95" width="24.55" height="4.09" fill="#a8a8d7"/>
<rect x="196.15" y="580.04" width="24.55" height="4.09" fill="#a4a4d5"/>
<rect x="196.15" y="584.13" width="24.55" height="4.09" fill="#acacd9"/>
<rect x="196.15" y="588.22" width="24.55" height="4.09" fill="#2c2c95"/>
<rect x="196.15" y="592.31" width="24.55" height="4.09" fill="#3c3c9e"/>
<rect x="196.15" y="596.40" width="24.55" height="4.09" fill="#a0a0d3"/>
<rect x="196.15" y="600.49" width="24.55" height="4.09" fill="#8c8cca"/>
<rect x="196.15" y="604.58" width="24.55" height="4.09" fill="#8888c8"/>
<rect x="196.15" y="608.67" width="24.55" height="4.09" fill="#8c8cca"/>
<rect x="196.15" y="612.76" width="24.55" height="4.09" fill="#8888c8"/>
<rect x="196.15" y="616.85" width="24.55" height="4.09" fill="#8c8cca"/>
<rect x="196.15" y="620.94" width="24.55" height="4.09" fill="#9090cc"/>
<rect x="196.15" y="625.03" width="24.55" height="4.09" fill="#c0c0e2"/>
<rect x="196.15" y="629.12" width="24.55" height="4.09" fill="#d4d4ea"/>
<rect x="196.15" y="633.21" width="24.55" height="4.09" fill="#f0f0f5"/>
<rect x="196.15" y="637.30" width="24.55" height="4.09" fill="#e0e0ef"/>
<rect x="196.15" y="641.39" width="24.55" height="4.09" fill="#fbeced"/>
<rect x="196.15" y="645.48" width="24.55" height="4.09" fill="#ececf4"/>
<rect x="196.15" y="649.57" width="24.55" height="4.09" fill="#f2f2f6"/>
<rect x="196.15" y="653.66" width="24.55" height="4.09" fill="#b4b4dd"/>
<rect x="196.15" y="657.75" width="24.55" height="4.09" fill="#b8b8de"/>
<rect x="196.15" y="661.84" width="24.55" height="4.09" fill="#c8c8e5"/>
<rect x="196.15" y="665.93" width="24.55" height="4.09" fill="#c4c4e4"/>
<rect x="196.15" y="670.02" width="24.55" height="4.09" fill="#bcbce0"/>
<rect x="196.15" y="674.11" width="24.55" height="4.09" fill="#b8b8de"/>
<rect x="196.15" y="678.20" width="24.55" height="4.09" fill="#d8d8ec"/>
<rect x="196.15" y="682.29" width="24.55" height="4.09" fill="#c8c8e5"/>
<rect x="196.15" y="686.38" width="24.55" height="4.09" fill="#cccce7"/>
<rect x="196.15" y="690.47" width="24.55" height="4.09" fill="#d0d0e9"/>
<rect x="196.15" y="694.56" width="24.55" height="4.09" fill="#cccce7"/>
<rect x="196.15" y="698.65" width="24.55" height="4.09" fill="#c8c8e5"/>
<rect x="196.15" y="702.74" width="24.55" height="4.09" fill="#e0e0ef"/>
<rect x="196.15" y="706.83" width="24.55" height="4.09" fill="#a0a0d3"/>
<rect x="196.15" y="710.92" width="24.55" height="4.09" fill="#a4a4d5"/>
<rect x="196.15" y="715.01" width="24.55" height="4.09" fill="#b0b0db"/>
<rect x="196.15" y="719.10" width="24.55" height="4.09" fill="#c0c0e2"/>
<rect x="196.15" y="723.19" width="24.55" height="4.09" fill="#6464b5"/>
<rect x="196.15" y="727.28" width="24.55" height="4.09" fill="#8c8cca"/>
<rect x="196.15" y="731.37" width="24.55" height="4.09" fill="#9494ce"/>
<rect x="220.70" y="418.80" width="24.55" height="4.09" fill="#f4f4f7"/>
<rect x="220.70" y="422.89" width="24.55" height="4.09" fill="#ececf4"/>
<rect x="220.70" y="426.98" width="24.55" height="4.09" fill="#f4f4f7"/>
<rect x="220.70" y="432.80" width="24.55" height="4.09" fill="#e8e8f2"/>
<rect x="220.70" y="436.89" width="24.55" height="4.09" fill="#fbf0f0"/>
<rect x="220.70" y="440.98" width="24.55" height="4.09" fill="#f7d0d1"/>
<rect x="220.70" y="445.07" width="24.55" height="4.09" fill="#fae8e9"/>
<rect x="220.70" y="449.16" width="24.55" height="4.09" fill="#b0b0db"/>
<rect x="220.70" y="453.25" width="24.55" height="4.09" fill="#f4f4f7"/>
<rect x="220.70" y="457.34" width="24.55" height="4.09" fill="#7c7cc2"/>
<rect x="220.70" y="461.43" width="24.55" height="4.09" fill="#8080c4"/>
<rect x="220.70" y="465.52" width="24.55" height="4.09" fill="#8080c4"/>
<rect x="220.70" y="469.61" width="24.55" height="4.09" fill="#7c7cc2"/>
<rect x="220.70" y="473.70" width="24.55" height="4.09" fill="#8080c4"/>
<rect x="220.70" y="477.79" width="24.55" height="4.09" fill="#9898d0"/>
<rect x="220.70" y="481.88" width="24.55" height="4.09" fill="#a0a0d3"/>
<rect x="220.70" y="485.97" width="24.55" height="4.09" fill="#9494ce"/>
<rect x="220.70" y="490.06" width="24.55" height="4.09" fill="#7c7cc2"/>
<rect x="220.70" y="494.15" width="24.55" height="4.09" fill="#7878c0"/>
<rect x="220.70" y="498.24" width="24.55" height="4.09" fill="#7c7cc2"/>
<rect x="220.70" y="502.33" width="24.55" height="4.09" fill="#7c7cc2"/>
<rect x="220.70" y="506.42" width="24.55" height="4.09" fill="#7878c0"/>
<rect x="220.70" y="510.51" width="24.55" height="4.09" fill="#7474be"/>
<rect x="220.70" y="514.60" width="24.55" height="4.09" fill="#7474be"/>
<rect x="220.70" y="518.69" width="24.55" height="4.09" fill="#6c6cb9"/>
<rect x="220.70" y="522.78" width="24.55" height="4.09" fill="#8484c6"/>
<rect x="220.70" y="526.87" width="24.55" height="4.09" fill="#8080c4"/>
<rect x="220.70" y="530.96" width="24.55" height="4.09" fill="#8080c4"/>
<rect x="220.70" y="535.05" width="24.55" height="4.09" fill="#7c7cc2"/>
<rect x="220.70" y="539.14" width="24.55" height="4.09" fill="#7878c0"/>
<rect x="220.70" y="543.23" width="24.55" height="4.09" fill="#7474be"/>
<rect x="220.70" y="547.32" width="24.55" height="4.09" fill="#7070bb"/>
<rect x="220.70" y="551.41" width="24.55" height="4.09" fill="#7070bb"/>
<rect x="220.70" y="555.50" width="24.55" height="4.09" fill="#7474be"/>
<rect x="220.70" y="559.59" width="24.55" height="4.09" fill="#7070bb"/>
<rect x="220.70" y="563.68" width="24.55" height="4.09" fill="#8c8cca"/>
<rect x="220.70" y="567.77" width="24.55" height="4.09" fill="#9090cc"/>
<rect x="220.70" y="571.86" width="24.55" height="4.09" fill="#9494ce"/>
<rect x="220.70" y="575.95" width="24.55" height="4.09" fill="#fdfcfc"/>
<rect x="220.70" y="580.04" width="24.55" height="4.09" fill="#b8b8de"/>
<rect x="220.70" y="584.13" width="24.55" height="4.09" fill="#c8c8e5"/>
<rect x="220.70" y="588.22" width="24.55" height="4.09" fill="#fcf4f4"/>
<rect x="220.70" y="592.31" width="24.55" height="4.09" fill="#fae4e5"/>
<rect x="220.70" y="596.40" width="24.55" height="4.09" fill="#f8d8d9"/>
<rect x="220.70" y="600.49" width="24.55" height="4.09" fill="#fae4e5"/>
<rect x="220.70" y="604.58" width="24.55" height="4.09" fill="#e8e8f2"/>
<rect x="220.70" y="608.67" width="24.55" height="4.09" fill="#e0e0ef"/>
<rect x="220.70" y="612.76" width="24.55" height="4.09" fill="#fae8e9"/>
<rect x="220.70" y="616.85" width="24.55" height="4.09" fill="#f6c8ca"/>
<rect x="220.70" y="620.94" width="24.55" height="4.09" fill="#f4b4b6"/>
<rect x="220.70" y="625.03" width="24.55" height="4.09" fill="#f3a8ab"/>
<rect x="220.70" y="629.12" width="24.55" height="4.09" fill="#f4b0b2"/>
<rect x="220.70" y="633.21" width="24.55" height="4.09" fill="#f7d0d1"/>
<rect x="220.70" y="637.30" width="24.55" height="4.09" fill="#fae4e5"/>
<rect x="220.70" y="641.39" width="24.55" height="4.09" fill="#e4e4f1"/>
<rect x="220.70" y="645.48" width="24.55" height="4.09" fill="#f8d4d5"/>
<rect x="220.70" y="649.57" width="24.55" height="4.09" fill="#fcf4f4"/>
<rect x="220.70" y="653.66" width="24.55" height="4.09" fill="#e0e0ef"/>
<rect x="220.70" y="657.75" width="24.55" height="4.09" fill="#dcdcee"/>
<rect x="220.70" y="661.84" width="24.55" height="4.09" fill="#e4e4f1"/>
<rect x="220.70" y="665.93" width="24.55" height="4.09" fill="#fcf4f4"/>
<rect x="220.70" y="670.02" width="24.55" height="4.09" fill="#e0e0ef"/>
<rect x="220.70" y="674.11" width="24.55" height="4.09" fill="#b8b8de"/>
<rect x="220.70" y="678.20" width="24.55" height="4.09" fill="#b4b4dd"/>
<rect x="220.70" y="682.29" width="24.55" height="4.09" fill="#f8f8f8"/>
<rect x="220.70" y="686.38" width="24.55" height="4.09" fill="#d8d8ec"/>
<rect x="220.70" y="690.47" width="24.55" height="4.09" fill="#fbf0f0"/>
<rect x="220.70" y="694.56" width="24.55" height="4.09" fill="#e4e4f1"/>
<rect x="220.70" y="698.65" width="24.55" height="4.09" fill="#fae4e5"/>
<rect x="220.70" y="702.74" width="24.55" height="4.09" fill="#fcf4f4"/>
<rect x="220.70" y="706.83" width="24.55" height="4.09" fill="#9090cc"/>
<rect x="220.70" y="710.92" width="24.55" height="4.09" fill="#a4a4d5"/>
<rect x="220.70" y="715.01" width="24.55" height="4.09" fill="#e0e0ef"/>
<rect x="220.70" y="719.10" width="24.55" height="4.09" fill="#fae4e5"/>
<rect x="220.70" y="723.19" width="24.55" height="4.09" fill="#fcf4f4"/>
<rect x="220.70" y="727.28" width="24.55" height="4.09" fill="#f9e0e1"/>
<rect x="220.70" y="731.37" width="24.55" height="4.09" fill="#f8d4d5"/>
</g>
<g transform="rotate(0.03 249 580) scale(0.25)" font-size="16.4" fill="#333" stroke="#333" stroke-width="0.3">
<text x="996.8" y="1689.4">WASL</text>
<text x="996.8" y="1705.7">BCR</text>
<text x="996.8" y="1722.1">ARHGEF12</text>
<text x="996.8" y="1745.4">NOP56</text>
<text x="996.8" y="1761.7">MMS22L</text>
<text x="996.8" y="1778.1">POLE</text>
<text x="996.8" y="1794.5">CEP131</text>
<text x="996.8" y="1810.8">MYC</text>
<text x="996.8" y="1827.2">ASF1A</text>
<text x="996.8" y="1843.5">MKI67</text>
<text x="996.8" y="1859.9">CHEK1</text>
<text x="996.8" y="1876.3">TTK</text>
<text x="996.8" y="1892.6">ORC1</text>
<text x="996.8" y="1909.0">DSCC1</text>
<text x="996.8" y="1925.3">TUBB</text>
<text x="996.8" y="1941.7">HMGA1</text>
<text x="996.8" y="1958.1">RFC3</text>
<text x="996.8" y="1974.4">CDK1</text>
<text x="996.8" y="1990.8">AURKA</text>
<text x="996.8" y="2007.1">KIF11</text>
<text x="996.8" y="2023.5">TPX2</text>
<text x="996.8" y="2039.9">CDKN2C</text>
<text x="996.8" y="2056.2">CDKN3</text>
<text x="996.8" y="2072.6">TOP2A</text>
<text x="996.8" y="2088.9">CDC25A</text>
<text x="996.8" y="2105.3">MCM2</text>
<text x="996.8" y="2121.7">PKMYT1</text>
<text x="996.8" y="2138.0">EXO1</text>
<text x="996.8" y="2154.4">RAD51AP1</text>
<text x="996.8" y="2170.7">GINS2</text>
<text x="996.8" y="2187.1">CDC45</text>
<text x="996.8" y="2203.5">CDC6</text>
<text x="996.8" y="2219.8">TK1</text>
<text x="996.8" y="2236.2">MYBL2</text>
<text x="996.8" y="2252.5">BIRC5</text>
<text x="996.8" y="2268.9">TCF19</text>
<text x="996.8" y="2285.3">MAD2L1</text>
<text x="996.8" y="2301.6">CCNA2</text>
<text x="996.8" y="2318.0">LIG1</text>
<text x="996.8" y="2334.3">CHAF1A</text>
<text x="996.8" y="2350.7">ORC6</text>
<text x="996.8" y="2367.1">HSPA8</text>
<text x="996.8" y="2383.4">SUV39H1</text>
<text x="996.8" y="2399.8">DNMT1</text>
<text x="996.8" y="2416.1">SSRP1</text>
<text x="996.8" y="2432.5">PRMT5</text>
<text x="996.8" y="2448.9">DCTPP1</text>
<text x="996.8" y="2465.2">CSE1L</text>
<text x="996.8" y="2481.6">POLD2</text>
<text x="996.8" y="2497.9">DKC1</text>
<text x="996.8" y="2514.3">KNTC1</text>
<text x="996.8" y="2530.7">POLD1</text>
<text x="996.8" y="2547.0">RBM14</text>
<text x="996.8" y="2563.4">SQLE</text>
<text x="996.8" y="2579.7">XPO1</text>
<text x="996.8" y="2596.1">MSH2</text>
<text x="996.8" y="2612.5">YWHAH</text>
<text x="996.8" y="2628.8">SMC1A</text>
<text x="996.8" y="2645.2">SAC3D1</text>
<text x="996.8" y="2661.5">UBR7</text>
<text x="996.8" y="2677.9">NCAPD2</text>
<text x="996.8" y="2694.3">CCNF</text>
<text x="996.8" y="2710.6">UBE2T</text>
<text x="996.8" y="2727.0">CENPE</text>
<text x="996.8" y="2743.3">CKAP5</text>
<text x="996.8" y="2759.7">ECT2</text>
<text x="996.8" y="2776.1">UCK2</text>
<text x="996.8" y="2792.4">RNASEH2A</text>
<text x="996.8" y="2808.8">EIF2S1</text>
<text x="996.8" y="2825.1">TP53</text>
<text x="996.8" y="2841.5">MCM6</text>
<text x="996.8" y="2857.9">YWHAE</text>
<text x="996.8" y="2874.2">MAP3K20</text>
<text x="996.8" y="2890.6">UNG</text>
<text x="996.8" y="2906.9">UBE2C</text>
<text x="996.8" y="2923.3">PRKDC</text>
<text x="996.8" y="2939.7">NOLC1</text>
</g>
<path d="M16.4 442 L17.2 510 L18.3 620 L19.6 733" stroke="#4a4a4a" stroke-width="0.9" fill="none"/>
<path d="M12.3 510 V423.3 H17 M12.3 510 H17.2 M17 420.8 V427 M17 420.8 H22 M17 427 H19.5 M19.5 424.9 V429 M19.5 424.9 H22 M19.5 429 H22 M16.3 436.9 H18.7 M18.7 434.8 V438.9 M18.7 434.8 H22 M18.7 438.9 H22 M16.5 449.2 H17.7 M17.7 443.0 V455.3 M17.7 443.0 H22 M17.7 447.1 H22 M17.7 451.2 H22 M17.7 455.3 H22 M16.6 463.5 H19.0 M19.0 459.4 V467.6 M19.0 459.4 H22 M19.0 463.5 H22 M19.0 467.6 H22 M16.8 475.7 H19.2 M19.2 471.7 V479.8 M19.2 471.7 H22 M19.2 475.7 H22 M19.2 479.8 H22 M16.9 490.1 H18.1 M18.1 483.9 V496.2 M18.1 483.9 H22 M18.1 488.0 H22 M18.1 492.1 H22 M18.1 496.2 H22 M17.1 506.4 H18.3 M18.3 500.3 V512.6 M18.3 500.3 H22 M18.3 504.4 H22 M18.3 508.5 H22 M18.3 512.6 H22 M17.3 520.7 H19.1 M19.1 516.6 V524.8 M19.1 516.6 H22 M19.1 520.7 H22 M19.1 524.8 H22 M17.4 535.0 H18.6 M18.6 528.9 V541.2 M18.6 528.9 H22 M18.6 533.0 H22 M18.6 537.1 H22 M18.6 541.2 H22 M17.6 547.3 H20.0 M20.0 545.3 V549.4 M20.0 545.3 H22 M20.0 549.4 H22 M17.7 557.5 H20.1 M20.1 553.5 V561.6 M20.1 553.5 H22 M20.1 557.5 H22 M20.1 561.6 H22 M17.8 571.9 H19.6 M19.6 565.7 V578.0 M19.6 565.7 H22 M19.6 569.8 H22 M19.6 573.9 H22 M19.6 578.0 H22 M18.0 586.2 H20.4 M20.4 582.1 V590.3 M20.4 582.1 H22 M20.4 586.2 H22 M20.4 590.3 H22 M18.1 596.4 H19.3 M19.3 594.4 V598.4 M19.3 594.4 H22 M19.3 598.4 H22 M18.3 610.7 H19.5 M19.5 602.5 V618.9 M19.5 602.5 H22 M19.5 606.6 H22 M19.5 610.7 H22 M19.5 614.8 H22 M19.5 618.9 H22 M18.5 629.1 H20.3 M20.3 623.0 V635.3 M20.3 623.0 H22 M20.3 627.1 H22 M20.3 631.2 H22 M20.3 635.3 H22 M18.7 647.5 H19.9 M19.9 639.3 V655.7 M19.9 639.3 H22 M19.9 643.4 H22 M19.9 647.5 H22 M19.9 651.6 H22 M19.9 655.7 H22 M18.9 668.0 H20.1 M20.1 659.8 V676.2 M20.1 659.8 H22 M20.1 663.9 H22 M20.1 668.0 H22 M20.1 672.1 H22 M20.1 676.2 H22 M19.0 682.3 H21.2 M21.2 680.2 V684.3 M21.2 680.2 H22 M21.2 684.3 H22 M19.1 690.5 H20.9 M20.9 688.4 V692.5 M20.9 688.4 H22 M20.9 692.5 H22 M19.2 698.6 H21.0 M21.0 696.6 V700.7 M21.0 696.6 H22 M21.0 700.7 H22 M19.3 708.9 H21.2 M21.2 704.8 V713.0 M21.2 704.8 H22 M21.2 708.9 H22 M21.2 713.0 H22 M19.5 725.2 H21.2 M21.2 717.1 V733.4 M21.2 717.1 H22 M21.2 721.1 H22 M21.2 725.2 H22 M21.2 729.3 H22 M21.2 733.4 H22" stroke="#555" stroke-width="0.45" fill="none"/>
<path d="M34.3 418.8 V417.6 H58.8 V418.8 M83.4 418.8 V417.6 H107.9 V418.8 M46.5 417.6 V416.6 H95.6 V417.6 M71.2 416.6 V414.2 H173.9 V416 M134.8 418.8 V417.8 H159.3 V418.8 M147 417.8 V417 H196 V417.8 M183.9 418.8 V417.8 H208.4 V418.8 M171.5 417 V416 H233 V418.8" stroke="#555" stroke-width="0.5" fill="none"/>
<text x="71.00" y="747.66" font-size="9.18" text-anchor="middle" fill="#d93a44" textLength="38.00" lengthAdjust="spacingAndGlyphs" >8-ohdg hi</text>
<text x="183.50" y="747.56" font-size="9.18" text-anchor="middle" fill="#7cb45c" textLength="38.00" lengthAdjust="spacingAndGlyphs" >8-ohdg lo</text>
<defs><linearGradient id="cb" x1="0" y1="0" x2="0" y2="1"><stop offset="0" stop-color="#e2202c"/><stop offset="0.5" stop-color="#ffffff"/><stop offset="1" stop-color="#1c1c8c"/></linearGradient></defs>
<rect x="271.5" y="636" width="6.5" height="95.5" fill="url(#cb)"/>
<text x="291.00" y="646.30" font-size="9.29" text-anchor="end" fill="#333" >2</text>
<text x="291.00" y="666.80" font-size="9.29" text-anchor="end" fill="#333" >1</text>
<text x="291.00" y="687.20" font-size="9.29" text-anchor="end" fill="#333" >0</text>
<text x="291.00" y="707.60" font-size="9.29" text-anchor="end" fill="#333" >−1</text>
<text x="291.00" y="728.00" font-size="9.29" text-anchor="end" fill="#333" >−2</text>
<text x="299.40" y="409.38" font-size="11.9" text-anchor="start" fill="#000" font-weight="bold" stroke="#000" stroke-width="0.3">G</text>
<circle cx="410.6" cy="417.8" r="2.0" fill="#ad1231" stroke="#2a060f" stroke-width="1.15"/>
<text x="416.30" y="420.38" font-size="8.64" text-anchor="start" fill="#333" >hi</text>
<circle cx="431.7" cy="417.8" r="2.0" fill="#37a043" stroke="#0c2a13" stroke-width="1.15"/>
<text x="437.20" y="420.38" font-size="8.64" text-anchor="start" fill="#333" >lo</text>
<rect x="341.9" y="488.6" width="8.8" height="38.0" fill="#cfcfd4"/>
<rect x="356.9" y="505" width="8.8" height="21.6" fill="#cfcfd4"/>
<rect x="372.1" y="491" width="8.8" height="35.6" fill="#cfcfd4"/>
<rect x="387.1" y="507" width="8.8" height="19.6" fill="#cfcfd4"/>
<rect x="402.1" y="501" width="8.8" height="25.6" fill="#cfcfd4"/>
<rect x="417.0" y="512" width="8.8" height="14.6" fill="#cfcfd4"/>
<rect x="431.9" y="508" width="8.8" height="18.6" fill="#cfcfd4"/>
<rect x="446.9" y="514" width="8.8" height="12.6" fill="#cfcfd4"/>
<rect x="462.1" y="506" width="8.8" height="20.6" fill="#cfcfd4"/>
<rect x="477.1" y="514" width="8.8" height="12.6" fill="#cfcfd4"/>
<rect x="492.1" y="507" width="8.8" height="19.6" fill="#cfcfd4"/>
<rect x="506.9" y="515" width="8.8" height="11.6" fill="#cfcfd4"/>
<line x1="336.20" y1="441.00" x2="336.20" y2="527.20" stroke="#151515" stroke-width="1.2" />
<line x1="335.60" y1="526.60" x2="519.00" y2="526.60" stroke="#151515" stroke-width="1.2" />
<line x1="332.80" y1="526.50" x2="336.20" y2="526.50" stroke="#222" stroke-width="1" />
<text x="329.60" y="529.71" font-size="9.537037037037036" text-anchor="end" fill="#2a2a2a" textLength="4.80" lengthAdjust="spacingAndGlyphs" >0</text>
<line x1="332.80" y1="510.00" x2="336.20" y2="510.00" stroke="#222" stroke-width="1" />
<text x="329.60" y="513.21" font-size="9.537037037037036" text-anchor="end" fill="#2a2a2a" textLength="9.20" lengthAdjust="spacingAndGlyphs" >20</text>
<line x1="332.80" y1="493.50" x2="336.20" y2="493.50" stroke="#222" stroke-width="1" />
<text x="329.60" y="496.71" font-size="9.537037037037036" text-anchor="end" fill="#2a2a2a" textLength="9.20" lengthAdjust="spacingAndGlyphs" >40</text>
<line x1="332.80" y1="477.00" x2="336.20" y2="477.00" stroke="#222" stroke-width="1" />
<text x="329.60" y="480.21" font-size="9.537037037037036" text-anchor="end" fill="#2a2a2a" textLength="9.20" lengthAdjust="spacingAndGlyphs" >60</text>
<line x1="332.80" y1="460.50" x2="336.20" y2="460.50" stroke="#222" stroke-width="1" />
<text x="329.60" y="463.71" font-size="9.537037037037036" text-anchor="end" fill="#2a2a2a" textLength="9.20" lengthAdjust="spacingAndGlyphs" >80</text>
<line x1="332.80" y1="444.00" x2="336.20" y2="444.00" stroke="#222" stroke-width="1" />
<text x="329.60" y="447.21" font-size="9.537037037037036" text-anchor="end" fill="#2a2a2a" textLength="13.10" lengthAdjust="spacingAndGlyphs" >100</text>
<line x1="354.00" y1="526.60" x2="354.00" y2="529.80" stroke="#222" stroke-width="0.9" />
<text x="353.70" y="540.71" font-size="9.537037037037036" text-anchor="middle" fill="#2a2a2a" textLength="10.34" lengthAdjust="spacingAndGlyphs" >30</text>
<line x1="384.20" y1="526.60" x2="384.20" y2="529.80" stroke="#222" stroke-width="0.9" />
<text x="383.80" y="540.71" font-size="9.537037037037036" text-anchor="middle" fill="#2a2a2a" textLength="10.34" lengthAdjust="spacingAndGlyphs" >45</text>
<line x1="414.00" y1="526.60" x2="414.00" y2="529.80" stroke="#222" stroke-width="0.9" />
<text x="414.50" y="540.71" font-size="9.537037037037036" text-anchor="middle" fill="#2a2a2a" textLength="10.34" lengthAdjust="spacingAndGlyphs" >60</text>
<line x1="444.00" y1="526.60" x2="444.00" y2="529.80" stroke="#222" stroke-width="0.9" />
<text x="443.50" y="540.71" font-size="9.537037037037036" text-anchor="middle" fill="#2a2a2a" textLength="10.34" lengthAdjust="spacingAndGlyphs" >75</text>
<line x1="474.20" y1="526.60" x2="474.20" y2="529.80" stroke="#222" stroke-width="0.9" />
<text x="474.00" y="540.71" font-size="9.537037037037036" text-anchor="middle" fill="#2a2a2a" textLength="10.34" lengthAdjust="spacingAndGlyphs" >90</text>
<line x1="504.00" y1="526.60" x2="504.00" y2="529.80" stroke="#222" stroke-width="0.9" />
<text x="503.70" y="540.71" font-size="9.537037037037036" text-anchor="middle" fill="#2a2a2a" textLength="15.52" lengthAdjust="spacingAndGlyphs" >120</text>
<text x="428.30" y="555.28" font-size="10.5" text-anchor="middle" fill="#1e1e1e" textLength="67.00" lengthAdjust="spacingAndGlyphs" stroke="#1e1e1e" stroke-width="0.22">Days after allo-SCT</text>
<text x="305.20" y="488.21" font-size="10.3" text-anchor="middle" fill="#222" textLength="52.00" lengthAdjust="spacingAndGlyphs" transform="rotate(-90 305.20 484.50)" stroke="#222" stroke-width="0.15">% Ki67<tspan font-size="6" dy="-3">+</tspan><tspan dy="3"> CD3</tspan><tspan font-size="6" dy="-3">+</tspan></text>
<path d="M376.3 442.5 V436.2 H391.6 V467.5" fill="none" stroke="#2a2a2a" stroke-width="0.9"/>
<text x="383.95" y="435.34" font-size="7.9" text-anchor="middle" fill="#222" font-weight="bold" >**</text>
<path d="M406.3 456.2 V436.2 H421.3 V483" fill="none" stroke="#2a2a2a" stroke-width="0.9"/>
<text x="413.80" y="435.34" font-size="7.9" text-anchor="middle" fill="#222" font-weight="bold" >**</text>
<path d="M436.3 471.3 V436.2 H451.3 V494.4" fill="none" stroke="#2a2a2a" stroke-width="0.9"/>
<text x="443.80" y="435.34" font-size="7.9" text-anchor="middle" fill="#222" font-weight="bold" >**</text>
<path d="M466.5 476.2 V436.2 H481.5 V494.4" fill="none" stroke="#2a2a2a" stroke-width="0.9"/>
<text x="474.00" y="435.34" font-size="7.9" text-anchor="middle" fill="#222" font-weight="bold" >**</text>
<path d="M496.5 463.7 V436.2 H511.3 V478" fill="none" stroke="#2a2a2a" stroke-width="0.9"/>
<text x="503.90" y="435.34" font-size="7.9" text-anchor="middle" fill="#222" font-weight="bold" >**</text>
<circle cx="346.3" cy="448.7" r="2.05" fill="#ad1231" stroke="#2a060f" stroke-width="1.15"/>
<circle cx="343.1" cy="463.7" r="2.05" fill="#ad1231" stroke="#2a060f" stroke-width="1.15"/>
<circle cx="346.3" cy="462.1" r="2.05" fill="#ad1231" stroke="#2a060f" stroke-width="1.15"/>
<circle cx="349.2" cy="464.2" r="2.05" fill="#ad1231" stroke="#2a060f" stroke-width="1.15"/>
<circle cx="345.4" cy="470.0" r="2.05" fill="#ad1231" stroke="#2a060f" stroke-width="1.15"/>
<circle cx="347.3" cy="469.4" r="2.05" fill="#ad1231" stroke="#2a060f" stroke-width="1.15"/>
<circle cx="345.4" cy="484.4" r="2.05" fill="#ad1231" stroke="#2a060f" stroke-width="1.15"/>
<circle cx="347.3" cy="483.8" r="2.05" fill="#ad1231" stroke="#2a060f" stroke-width="1.15"/>
<circle cx="343.5" cy="498.3" r="2.05" fill="#ad1231" stroke="#2a060f" stroke-width="1.15"/>
<circle cx="348.8" cy="496.3" r="2.05" fill="#ad1231" stroke="#2a060f" stroke-width="1.15"/>
<circle cx="346.9" cy="500.2" r="2.05" fill="#ad1231" stroke="#2a060f" stroke-width="1.15"/>
<circle cx="344.4" cy="504.0" r="2.05" fill="#ad1231" stroke="#2a060f" stroke-width="1.15"/>
<circle cx="349.2" cy="502.1" r="2.05" fill="#ad1231" stroke="#2a060f" stroke-width="1.15"/>
<circle cx="343.1" cy="506.9" r="2.05" fill="#ad1231" stroke="#2a060f" stroke-width="1.15"/>
<circle cx="346.9" cy="506.5" r="2.05" fill="#ad1231" stroke="#2a060f" stroke-width="1.15"/>
<circle cx="349.2" cy="510.4" r="2.05" fill="#ad1231" stroke="#2a060f" stroke-width="1.15"/>
<circle cx="346.3" cy="519.0" r="2.05" fill="#ad1231" stroke="#2a060f" stroke-width="1.15"/>
<circle cx="361.3" cy="452.1" r="2.05" fill="#37a043" stroke="#0c2a13" stroke-width="1.15"/>
<circle cx="361.3" cy="476.2" r="2.05" fill="#37a043" stroke="#0c2a13" stroke-width="1.15"/>
<circle cx="359.8" cy="481.9" r="2.05" fill="#37a043" stroke="#0c2a13" stroke-width="1.15"/>
<circle cx="362.7" cy="481.5" r="2.05" fill="#37a043" stroke="#0c2a13" stroke-width="1.15"/>
<circle cx="364.6" cy="486.2" r="2.05" fill="#37a043" stroke="#0c2a13" stroke-width="1.15"/>
<circle cx="358.8" cy="488.7" r="2.05" fill="#37a043" stroke="#0c2a13" stroke-width="1.15"/>
<circle cx="361.7" cy="490.0" r="2.05" fill="#37a043" stroke="#0c2a13" stroke-width="1.15"/>
<circle cx="360.8" cy="493.1" r="2.05" fill="#37a043" stroke="#0c2a13" stroke-width="1.15"/>
<circle cx="362.3" cy="499.2" r="2.05" fill="#37a043" stroke="#0c2a13" stroke-width="1.15"/>
<circle cx="358.8" cy="502.1" r="2.05" fill="#37a043" stroke="#0c2a13" stroke-width="1.15"/>
<circle cx="364.2" cy="502.1" r="2.05" fill="#37a043" stroke="#0c2a13" stroke-width="1.15"/>
<circle cx="360.8" cy="505.4" r="2.05" fill="#37a043" stroke="#0c2a13" stroke-width="1.15"/>
<circle cx="358.8" cy="506.9" r="2.05" fill="#37a043" stroke="#0c2a13" stroke-width="1.15"/>
<circle cx="362.7" cy="509.2" r="2.05" fill="#37a043" stroke="#0c2a13" stroke-width="1.15"/>
<circle cx="359.8" cy="514.6" r="2.05" fill="#37a043" stroke="#0c2a13" stroke-width="1.15"/>
<circle cx="363.7" cy="516.5" r="2.05" fill="#37a043" stroke="#0c2a13" stroke-width="1.15"/>
<circle cx="358.8" cy="516.2" r="2.05" fill="#37a043" stroke="#0c2a13" stroke-width="1.15"/>
<circle cx="361.3" cy="523.8" r="2.05" fill="#37a043" stroke="#0c2a13" stroke-width="1.15"/>
<circle cx="376.5" cy="448.8" r="2.05" fill="#ad1231" stroke="#2a060f" stroke-width="1.15"/>
<circle cx="375.2" cy="460.4" r="2.05" fill="#ad1231" stroke="#2a060f" stroke-width="1.15"/>
<circle cx="377.1" cy="463.7" r="2.05" fill="#ad1231" stroke="#2a060f" stroke-width="1.15"/>
<circle cx="375.2" cy="470.0" r="2.05" fill="#ad1231" stroke="#2a060f" stroke-width="1.15"/>
<circle cx="377.7" cy="471.0" r="2.05" fill="#ad1231" stroke="#2a060f" stroke-width="1.15"/>
<circle cx="373.8" cy="479.6" r="2.05" fill="#ad1231" stroke="#2a060f" stroke-width="1.15"/>
<circle cx="377.1" cy="480.4" r="2.05" fill="#ad1231" stroke="#2a060f" stroke-width="1.15"/>
<circle cx="379.6" cy="482.9" r="2.05" fill="#ad1231" stroke="#2a060f" stroke-width="1.15"/>
<circle cx="376.2" cy="484.8" r="2.05" fill="#ad1231" stroke="#2a060f" stroke-width="1.15"/>
<circle cx="378.1" cy="486.7" r="2.05" fill="#ad1231" stroke="#2a060f" stroke-width="1.15"/>
<circle cx="379.6" cy="497.3" r="2.05" fill="#ad1231" stroke="#2a060f" stroke-width="1.15"/>
<circle cx="373.8" cy="500.8" r="2.05" fill="#ad1231" stroke="#2a060f" stroke-width="1.15"/>
<circle cx="377.1" cy="502.1" r="2.05" fill="#ad1231" stroke="#2a060f" stroke-width="1.15"/>
<circle cx="379.0" cy="504.0" r="2.05" fill="#ad1231" stroke="#2a060f" stroke-width="1.15"/>
<circle cx="375.2" cy="506.9" r="2.05" fill="#ad1231" stroke="#2a060f" stroke-width="1.15"/>
<circle cx="373.8" cy="512.3" r="2.05" fill="#ad1231" stroke="#2a060f" stroke-width="1.15"/>
<circle cx="379.6" cy="514.6" r="2.05" fill="#ad1231" stroke="#2a060f" stroke-width="1.15"/>
<circle cx="377.1" cy="517.5" r="2.05" fill="#ad1231" stroke="#2a060f" stroke-width="1.15"/>
<circle cx="373.8" cy="518.1" r="2.05" fill="#ad1231" stroke="#2a060f" stroke-width="1.15"/>
<circle cx="391.2" cy="472.3" r="2.05" fill="#37a043" stroke="#0c2a13" stroke-width="1.15"/>
<circle cx="391.2" cy="488.7" r="2.05" fill="#37a043" stroke="#0c2a13" stroke-width="1.15"/>
<circle cx="391.9" cy="490.0" r="2.05" fill="#37a043" stroke="#0c2a13" stroke-width="1.15"/>
<circle cx="391.2" cy="498.3" r="2.05" fill="#37a043" stroke="#0c2a13" stroke-width="1.15"/>
<circle cx="391.5" cy="502.1" r="2.05" fill="#37a043" stroke="#0c2a13" stroke-width="1.15"/>
<circle cx="390.6" cy="506.0" r="2.05" fill="#37a043" stroke="#0c2a13" stroke-width="1.15"/>
<circle cx="392.5" cy="506.9" r="2.05" fill="#37a043" stroke="#0c2a13" stroke-width="1.15"/>
<circle cx="388.7" cy="510.8" r="2.05" fill="#37a043" stroke="#0c2a13" stroke-width="1.15"/>
<circle cx="391.5" cy="511.7" r="2.05" fill="#37a043" stroke="#0c2a13" stroke-width="1.15"/>
<circle cx="393.8" cy="511.2" r="2.05" fill="#37a043" stroke="#0c2a13" stroke-width="1.15"/>
<circle cx="390.0" cy="514.6" r="2.05" fill="#37a043" stroke="#0c2a13" stroke-width="1.15"/>
<circle cx="393.1" cy="515.6" r="2.05" fill="#37a043" stroke="#0c2a13" stroke-width="1.15"/>
<circle cx="391.5" cy="518.8" r="2.05" fill="#37a043" stroke="#0c2a13" stroke-width="1.15"/>
<circle cx="390.6" cy="520.4" r="2.05" fill="#37a043" stroke="#0c2a13" stroke-width="1.15"/>
<circle cx="406.5" cy="463.3" r="2.05" fill="#ad1231" stroke="#2a060f" stroke-width="1.15"/>
<circle cx="406.5" cy="470.8" r="2.05" fill="#ad1231" stroke="#2a060f" stroke-width="1.15"/>
<circle cx="406.5" cy="475.2" r="2.05" fill="#ad1231" stroke="#2a060f" stroke-width="1.15"/>
<circle cx="406.5" cy="480.0" r="2.05" fill="#ad1231" stroke="#2a060f" stroke-width="1.15"/>
<circle cx="406.5" cy="484.8" r="2.05" fill="#ad1231" stroke="#2a060f" stroke-width="1.15"/>
<circle cx="406.5" cy="495.4" r="2.05" fill="#ad1231" stroke="#2a060f" stroke-width="1.15"/>
<circle cx="406.9" cy="499.2" r="2.05" fill="#ad1231" stroke="#2a060f" stroke-width="1.15"/>
<circle cx="405.4" cy="503.1" r="2.05" fill="#ad1231" stroke="#2a060f" stroke-width="1.15"/>
<circle cx="407.9" cy="504.0" r="2.05" fill="#ad1231" stroke="#2a060f" stroke-width="1.15"/>
<circle cx="406.5" cy="507.9" r="2.05" fill="#ad1231" stroke="#2a060f" stroke-width="1.15"/>
<circle cx="404.0" cy="513.1" r="2.05" fill="#ad1231" stroke="#2a060f" stroke-width="1.15"/>
<circle cx="406.5" cy="513.7" r="2.05" fill="#ad1231" stroke="#2a060f" stroke-width="1.15"/>
<circle cx="408.8" cy="512.7" r="2.05" fill="#ad1231" stroke="#2a060f" stroke-width="1.15"/>
<circle cx="406.5" cy="517.5" r="2.05" fill="#ad1231" stroke="#2a060f" stroke-width="1.15"/>
<circle cx="405.4" cy="523.8" r="2.05" fill="#ad1231" stroke="#2a060f" stroke-width="1.15"/>
<circle cx="407.3" cy="523.8" r="2.05" fill="#ad1231" stroke="#2a060f" stroke-width="1.15"/>
<circle cx="421.3" cy="491.9" r="2.05" fill="#37a043" stroke="#0c2a13" stroke-width="1.15"/>
<circle cx="421.3" cy="506.9" r="2.05" fill="#37a043" stroke="#0c2a13" stroke-width="1.15"/>
<circle cx="419.4" cy="508.8" r="2.05" fill="#37a043" stroke="#0c2a13" stroke-width="1.15"/>
<circle cx="423.3" cy="508.8" r="2.05" fill="#37a043" stroke="#0c2a13" stroke-width="1.15"/>
<circle cx="421.3" cy="511.7" r="2.05" fill="#37a043" stroke="#0c2a13" stroke-width="1.15"/>
<circle cx="418.8" cy="513.1" r="2.05" fill="#37a043" stroke="#0c2a13" stroke-width="1.15"/>
<circle cx="423.8" cy="513.1" r="2.05" fill="#37a043" stroke="#0c2a13" stroke-width="1.15"/>
<circle cx="421.3" cy="515.6" r="2.05" fill="#37a043" stroke="#0c2a13" stroke-width="1.15"/>
<circle cx="420.0" cy="518.8" r="2.05" fill="#37a043" stroke="#0c2a13" stroke-width="1.15"/>
<circle cx="422.7" cy="519.4" r="2.05" fill="#37a043" stroke="#0c2a13" stroke-width="1.15"/>
<circle cx="421.3" cy="520.4" r="2.05" fill="#37a043" stroke="#0c2a13" stroke-width="1.15"/>
<circle cx="436.3" cy="476.7" r="2.05" fill="#ad1231" stroke="#2a060f" stroke-width="1.15"/>
<circle cx="436.9" cy="478.1" r="2.05" fill="#ad1231" stroke="#2a060f" stroke-width="1.15"/>
<circle cx="436.3" cy="489.2" r="2.05" fill="#ad1231" stroke="#2a060f" stroke-width="1.15"/>
<circle cx="436.3" cy="492.5" r="2.05" fill="#ad1231" stroke="#2a060f" stroke-width="1.15"/>
<circle cx="436.3" cy="496.3" r="2.05" fill="#ad1231" stroke="#2a060f" stroke-width="1.15"/>
<circle cx="436.3" cy="504.0" r="2.05" fill="#ad1231" stroke="#2a060f" stroke-width="1.15"/>
<circle cx="434.4" cy="506.9" r="2.05" fill="#ad1231" stroke="#2a060f" stroke-width="1.15"/>
<circle cx="438.3" cy="507.3" r="2.05" fill="#ad1231" stroke="#2a060f" stroke-width="1.15"/>
<circle cx="436.3" cy="509.8" r="2.05" fill="#ad1231" stroke="#2a060f" stroke-width="1.15"/>
<circle cx="435.4" cy="513.1" r="2.05" fill="#ad1231" stroke="#2a060f" stroke-width="1.15"/>
<circle cx="437.3" cy="513.7" r="2.05" fill="#ad1231" stroke="#2a060f" stroke-width="1.15"/>
<circle cx="436.3" cy="516.5" r="2.05" fill="#ad1231" stroke="#2a060f" stroke-width="1.15"/>
<circle cx="435.0" cy="519.4" r="2.05" fill="#ad1231" stroke="#2a060f" stroke-width="1.15"/>
<circle cx="437.7" cy="520.0" r="2.05" fill="#ad1231" stroke="#2a060f" stroke-width="1.15"/>
<circle cx="433.8" cy="522.3" r="2.05" fill="#ad1231" stroke="#2a060f" stroke-width="1.15"/>
<circle cx="439.2" cy="522.9" r="2.05" fill="#ad1231" stroke="#2a060f" stroke-width="1.15"/>
<circle cx="436.3" cy="521.3" r="2.05" fill="#ad1231" stroke="#2a060f" stroke-width="1.15"/>
<circle cx="451.3" cy="500.2" r="2.05" fill="#37a043" stroke="#0c2a13" stroke-width="1.15"/>
<circle cx="451.3" cy="504.0" r="2.05" fill="#37a043" stroke="#0c2a13" stroke-width="1.15"/>
<circle cx="451.3" cy="507.3" r="2.05" fill="#37a043" stroke="#0c2a13" stroke-width="1.15"/>
<circle cx="450.8" cy="510.8" r="2.05" fill="#37a043" stroke="#0c2a13" stroke-width="1.15"/>
<circle cx="452.3" cy="513.1" r="2.05" fill="#37a043" stroke="#0c2a13" stroke-width="1.15"/>
<circle cx="449.8" cy="514.6" r="2.05" fill="#37a043" stroke="#0c2a13" stroke-width="1.15"/>
<circle cx="453.1" cy="516.5" r="2.05" fill="#37a043" stroke="#0c2a13" stroke-width="1.15"/>
<circle cx="451.2" cy="517.5" r="2.05" fill="#37a043" stroke="#0c2a13" stroke-width="1.15"/>
<circle cx="448.8" cy="520.4" r="2.05" fill="#37a043" stroke="#0c2a13" stroke-width="1.15"/>
<circle cx="454.2" cy="520.4" r="2.05" fill="#37a043" stroke="#0c2a13" stroke-width="1.15"/>
<circle cx="451.7" cy="521.9" r="2.05" fill="#37a043" stroke="#0c2a13" stroke-width="1.15"/>
<circle cx="450.4" cy="522.3" r="2.05" fill="#37a043" stroke="#0c2a13" stroke-width="1.15"/>
<circle cx="465.2" cy="483.5" r="2.05" fill="#ad1231" stroke="#2a060f" stroke-width="1.15"/>
<circle cx="468.1" cy="482.3" r="2.05" fill="#ad1231" stroke="#2a060f" stroke-width="1.15"/>
<circle cx="466.5" cy="498.3" r="2.05" fill="#ad1231" stroke="#2a060f" stroke-width="1.15"/>
<circle cx="466.2" cy="501.5" r="2.05" fill="#ad1231" stroke="#2a060f" stroke-width="1.15"/>
<circle cx="467.1" cy="504.6" r="2.05" fill="#ad1231" stroke="#2a060f" stroke-width="1.15"/>
<circle cx="465.2" cy="506.9" r="2.05" fill="#ad1231" stroke="#2a060f" stroke-width="1.15"/>
<circle cx="468.1" cy="508.5" r="2.05" fill="#ad1231" stroke="#2a060f" stroke-width="1.15"/>
<circle cx="463.8" cy="509.8" r="2.05" fill="#ad1231" stroke="#2a060f" stroke-width="1.15"/>
<circle cx="469.6" cy="510.4" r="2.05" fill="#ad1231" stroke="#2a060f" stroke-width="1.15"/>
<circle cx="466.5" cy="512.7" r="2.05" fill="#ad1231" stroke="#2a060f" stroke-width="1.15"/>
<circle cx="465.2" cy="516.2" r="2.05" fill="#ad1231" stroke="#2a060f" stroke-width="1.15"/>
<circle cx="468.1" cy="516.5" r="2.05" fill="#ad1231" stroke="#2a060f" stroke-width="1.15"/>
<circle cx="466.5" cy="518.5" r="2.05" fill="#ad1231" stroke="#2a060f" stroke-width="1.15"/>
<circle cx="466.5" cy="525.2" r="2.05" fill="#ad1231" stroke="#2a060f" stroke-width="1.15"/>
<circle cx="481.2" cy="501.2" r="2.05" fill="#37a043" stroke="#0c2a13" stroke-width="1.15"/>
<circle cx="481.9" cy="502.7" r="2.05" fill="#37a043" stroke="#0c2a13" stroke-width="1.15"/>
<circle cx="480.6" cy="508.8" r="2.05" fill="#37a043" stroke="#0c2a13" stroke-width="1.15"/>
<circle cx="479.2" cy="511.7" r="2.05" fill="#37a043" stroke="#0c2a13" stroke-width="1.15"/>
<circle cx="483.1" cy="512.3" r="2.05" fill="#37a043" stroke="#0c2a13" stroke-width="1.15"/>
<circle cx="481.2" cy="514.6" r="2.05" fill="#37a043" stroke="#0c2a13" stroke-width="1.15"/>
<circle cx="478.7" cy="516.2" r="2.05" fill="#37a043" stroke="#0c2a13" stroke-width="1.15"/>
<circle cx="483.8" cy="516.5" r="2.05" fill="#37a043" stroke="#0c2a13" stroke-width="1.15"/>
<circle cx="481.2" cy="518.5" r="2.05" fill="#37a043" stroke="#0c2a13" stroke-width="1.15"/>
<circle cx="479.6" cy="520.4" r="2.05" fill="#37a043" stroke="#0c2a13" stroke-width="1.15"/>
<circle cx="483.1" cy="520.8" r="2.05" fill="#37a043" stroke="#0c2a13" stroke-width="1.15"/>
<circle cx="481.2" cy="522.7" r="2.05" fill="#37a043" stroke="#0c2a13" stroke-width="1.15"/>
<circle cx="478.7" cy="523.8" r="2.05" fill="#37a043" stroke="#0c2a13" stroke-width="1.15"/>
<circle cx="483.8" cy="524.2" r="2.05" fill="#37a043" stroke="#0c2a13" stroke-width="1.15"/>
<circle cx="496.5" cy="470.0" r="2.05" fill="#ad1231" stroke="#2a060f" stroke-width="1.15"/>
<circle cx="496.5" cy="482.9" r="2.05" fill="#ad1231" stroke="#2a060f" stroke-width="1.15"/>
<circle cx="496.5" cy="487.7" r="2.05" fill="#ad1231" stroke="#2a060f" stroke-width="1.15"/>
<circle cx="496.0" cy="498.3" r="2.05" fill="#ad1231" stroke="#2a060f" stroke-width="1.15"/>
<circle cx="496.9" cy="500.8" r="2.05" fill="#ad1231" stroke="#2a060f" stroke-width="1.15"/>
<circle cx="495.4" cy="504.0" r="2.05" fill="#ad1231" stroke="#2a060f" stroke-width="1.15"/>
<circle cx="497.9" cy="504.6" r="2.05" fill="#ad1231" stroke="#2a060f" stroke-width="1.15"/>
<circle cx="496.5" cy="508.5" r="2.05" fill="#ad1231" stroke="#2a060f" stroke-width="1.15"/>
<circle cx="494.0" cy="511.7" r="2.05" fill="#ad1231" stroke="#2a060f" stroke-width="1.15"/>
<circle cx="498.8" cy="512.3" r="2.05" fill="#ad1231" stroke="#2a060f" stroke-width="1.15"/>
<circle cx="496.5" cy="514.6" r="2.05" fill="#ad1231" stroke="#2a060f" stroke-width="1.15"/>
<circle cx="495.4" cy="517.5" r="2.05" fill="#ad1231" stroke="#2a060f" stroke-width="1.15"/>
<circle cx="497.9" cy="518.5" r="2.05" fill="#ad1231" stroke="#2a060f" stroke-width="1.15"/>
<circle cx="496.5" cy="521.9" r="2.05" fill="#ad1231" stroke="#2a060f" stroke-width="1.15"/>
<circle cx="496.5" cy="524.2" r="2.05" fill="#ad1231" stroke="#2a060f" stroke-width="1.15"/>
<circle cx="511.3" cy="484.4" r="2.05" fill="#37a043" stroke="#0c2a13" stroke-width="1.15"/>
<circle cx="511.3" cy="501.5" r="2.05" fill="#37a043" stroke="#0c2a13" stroke-width="1.15"/>
<circle cx="511.3" cy="511.7" r="2.05" fill="#37a043" stroke="#0c2a13" stroke-width="1.15"/>
<circle cx="510.0" cy="514.6" r="2.05" fill="#37a043" stroke="#0c2a13" stroke-width="1.15"/>
<circle cx="512.7" cy="515.0" r="2.05" fill="#37a043" stroke="#0c2a13" stroke-width="1.15"/>
<circle cx="511.3" cy="517.5" r="2.05" fill="#37a043" stroke="#0c2a13" stroke-width="1.15"/>
<circle cx="509.4" cy="519.4" r="2.05" fill="#37a043" stroke="#0c2a13" stroke-width="1.15"/>
<circle cx="513.3" cy="520.0" r="2.05" fill="#37a043" stroke="#0c2a13" stroke-width="1.15"/>
<circle cx="511.3" cy="521.9" r="2.05" fill="#37a043" stroke="#0c2a13" stroke-width="1.15"/>
<circle cx="508.8" cy="522.3" r="2.05" fill="#37a043" stroke="#0c2a13" stroke-width="1.15"/>
<circle cx="513.8" cy="522.7" r="2.05" fill="#37a043" stroke="#0c2a13" stroke-width="1.15"/>
<circle cx="511.3" cy="524.2" r="2.05" fill="#37a043" stroke="#0c2a13" stroke-width="1.15"/>
</svg>
</body></html>
